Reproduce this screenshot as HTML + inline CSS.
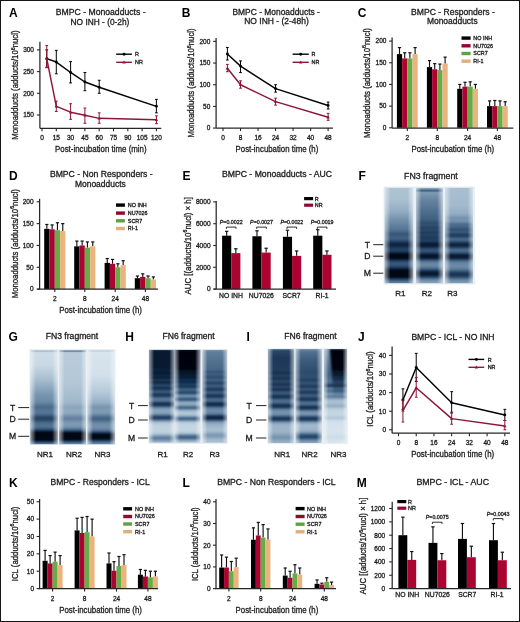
<!DOCTYPE html>
<html><head><meta charset="utf-8"><style>
html,body{margin:0;padding:0;background:#fff;}
svg{display:block;font-family:"Liberation Sans", sans-serif;will-change:transform;}
</style></head><body>
<svg width="520" height="622" viewBox="0 0 520 622">
<defs>
<filter id="b1" x="-50%" y="-50%" width="200%" height="200%"><feGaussianBlur stdDeviation="1.2"/></filter>
<filter id="b2" x="-50%" y="-50%" width="200%" height="200%"><feGaussianBlur stdDeviation="2"/></filter>
<filter id="b05" x="-50%" y="-50%" width="200%" height="200%"><feGaussianBlur stdDeviation="0.6"/></filter>
</defs>
<rect width="520" height="622" fill="#fff"/>
<rect x="0.5" y="0.5" width="519" height="621" fill="none" stroke="#151515" stroke-width="1"/>
<text x="13.25" y="17.00" font-size="12" text-anchor="middle" font-weight="bold" fill="#000">A</text>
<text x="100.70" y="14.90" font-size="8.6" text-anchor="middle" font-weight="normal" fill="#1c1c1c" stroke="#1c1c1c" stroke-width="0.3" textLength="89.80" lengthAdjust="spacingAndGlyphs">BMPC - Monoadducts -</text>
<text x="100.00" y="24.50" font-size="8.6" text-anchor="middle" font-weight="normal" fill="#1c1c1c" stroke="#1c1c1c" stroke-width="0.3" textLength="58.80" lengthAdjust="spacingAndGlyphs">NO INH - (0-2h)</text>
<line x1="39.90" y1="41.80" x2="39.90" y2="128.30" stroke="#262626" stroke-width="1.25"/>
<line x1="36.90" y1="115.00" x2="39.90" y2="115.00" stroke="#262626" stroke-width="1.1"/>
<text x="34.00" y="117.33" font-size="6.5" text-anchor="end" font-weight="normal" fill="#1c1c1c" stroke="#1c1c1c" stroke-width="0.3">150</text>
<line x1="36.90" y1="93.30" x2="39.90" y2="93.30" stroke="#262626" stroke-width="1.1"/>
<text x="34.00" y="95.63" font-size="6.5" text-anchor="end" font-weight="normal" fill="#1c1c1c" stroke="#1c1c1c" stroke-width="0.3">200</text>
<line x1="36.90" y1="71.60" x2="39.90" y2="71.60" stroke="#262626" stroke-width="1.1"/>
<text x="34.00" y="73.93" font-size="6.5" text-anchor="end" font-weight="normal" fill="#1c1c1c" stroke="#1c1c1c" stroke-width="0.3">250</text>
<line x1="36.90" y1="49.90" x2="39.90" y2="49.90" stroke="#262626" stroke-width="1.1"/>
<text x="34.00" y="52.23" font-size="6.5" text-anchor="end" font-weight="normal" fill="#1c1c1c" stroke="#1c1c1c" stroke-width="0.3">300</text>
<line x1="39.90" y1="128.30" x2="161.20" y2="128.30" stroke="#262626" stroke-width="1.25"/>
<line x1="42.00" y1="128.30" x2="42.00" y2="131.30" stroke="#262626" stroke-width="1.1"/>
<text x="42.00" y="140.00" font-size="6.5" text-anchor="middle" font-weight="normal" fill="#1c1c1c" stroke="#1c1c1c" stroke-width="0.3">0</text>
<line x1="56.30" y1="128.30" x2="56.30" y2="131.30" stroke="#262626" stroke-width="1.1"/>
<text x="56.30" y="140.00" font-size="6.5" text-anchor="middle" font-weight="normal" fill="#1c1c1c" stroke="#1c1c1c" stroke-width="0.3">15</text>
<line x1="70.60" y1="128.30" x2="70.60" y2="131.30" stroke="#262626" stroke-width="1.1"/>
<text x="70.60" y="140.00" font-size="6.5" text-anchor="middle" font-weight="normal" fill="#1c1c1c" stroke="#1c1c1c" stroke-width="0.3">30</text>
<line x1="84.90" y1="128.30" x2="84.90" y2="131.30" stroke="#262626" stroke-width="1.1"/>
<text x="84.90" y="140.00" font-size="6.5" text-anchor="middle" font-weight="normal" fill="#1c1c1c" stroke="#1c1c1c" stroke-width="0.3">45</text>
<line x1="99.20" y1="128.30" x2="99.20" y2="131.30" stroke="#262626" stroke-width="1.1"/>
<text x="99.20" y="140.00" font-size="6.5" text-anchor="middle" font-weight="normal" fill="#1c1c1c" stroke="#1c1c1c" stroke-width="0.3">60</text>
<line x1="113.50" y1="128.30" x2="113.50" y2="131.30" stroke="#262626" stroke-width="1.1"/>
<text x="113.50" y="140.00" font-size="6.5" text-anchor="middle" font-weight="normal" fill="#1c1c1c" stroke="#1c1c1c" stroke-width="0.3">75</text>
<line x1="127.80" y1="128.30" x2="127.80" y2="131.30" stroke="#262626" stroke-width="1.1"/>
<text x="127.80" y="140.00" font-size="6.5" text-anchor="middle" font-weight="normal" fill="#1c1c1c" stroke="#1c1c1c" stroke-width="0.3">90</text>
<line x1="142.10" y1="128.30" x2="142.10" y2="131.30" stroke="#262626" stroke-width="1.1"/>
<text x="142.10" y="140.00" font-size="6.5" text-anchor="middle" font-weight="normal" fill="#1c1c1c" stroke="#1c1c1c" stroke-width="0.3">105</text>
<line x1="156.40" y1="128.30" x2="156.40" y2="131.30" stroke="#262626" stroke-width="1.1"/>
<text x="156.40" y="140.00" font-size="6.5" text-anchor="middle" font-weight="normal" fill="#1c1c1c" stroke="#1c1c1c" stroke-width="0.3">120</text>
<text x="55.00" y="151.90" font-size="8.9" text-anchor="start" font-weight="normal" fill="#1c1c1c" stroke="#1c1c1c" stroke-width="0.3" textLength="91.60" lengthAdjust="spacingAndGlyphs">Post-incubation time (min)</text>
<text transform="translate(18.20,85.10) rotate(-90)" x="0" y="0" font-size="9.0" text-anchor="middle" fill="#1c1c1c" stroke="#1c1c1c" stroke-width="0.3" textLength="109.40" lengthAdjust="spacingAndGlyphs">Monoadducts (adducts/10<tspan font-size="6.12" dy="-3.60">6</tspan><tspan dy="3.60">nucl)</tspan></text>
<path d="M46.77,58.58 L56.30,62.05 L70.60,72.47 L84.90,82.02 L99.20,87.22 L156.40,106.32" fill="none" stroke="#020202" stroke-width="1.45" stroke-linejoin="round"/>
<line x1="46.77" y1="49.90" x2="46.77" y2="67.26" stroke="#020202" stroke-width="1.0"/>
<line x1="45.37" y1="49.90" x2="48.17" y2="49.90" stroke="#020202" stroke-width="1.0"/>
<line x1="45.37" y1="67.26" x2="48.17" y2="67.26" stroke="#020202" stroke-width="1.0"/>
<circle cx="46.77" cy="58.58" r="1.45" fill="#020202"/>
<line x1="56.30" y1="50.33" x2="56.30" y2="73.77" stroke="#020202" stroke-width="1.0"/>
<line x1="54.90" y1="50.33" x2="57.70" y2="50.33" stroke="#020202" stroke-width="1.0"/>
<line x1="54.90" y1="73.77" x2="57.70" y2="73.77" stroke="#020202" stroke-width="1.0"/>
<circle cx="56.30" cy="62.05" r="1.45" fill="#020202"/>
<line x1="70.60" y1="61.62" x2="70.60" y2="82.88" stroke="#020202" stroke-width="1.0"/>
<line x1="69.20" y1="61.62" x2="72.00" y2="61.62" stroke="#020202" stroke-width="1.0"/>
<line x1="69.20" y1="82.88" x2="72.00" y2="82.88" stroke="#020202" stroke-width="1.0"/>
<circle cx="70.60" cy="72.47" r="1.45" fill="#020202"/>
<line x1="84.90" y1="72.47" x2="84.90" y2="90.70" stroke="#020202" stroke-width="1.0"/>
<line x1="83.50" y1="72.47" x2="86.30" y2="72.47" stroke="#020202" stroke-width="1.0"/>
<line x1="83.50" y1="90.70" x2="86.30" y2="90.70" stroke="#020202" stroke-width="1.0"/>
<circle cx="84.90" cy="82.02" r="1.45" fill="#020202"/>
<line x1="99.20" y1="80.28" x2="99.20" y2="93.30" stroke="#020202" stroke-width="1.0"/>
<line x1="97.80" y1="80.28" x2="100.60" y2="80.28" stroke="#020202" stroke-width="1.0"/>
<line x1="97.80" y1="93.30" x2="100.60" y2="93.30" stroke="#020202" stroke-width="1.0"/>
<circle cx="99.20" cy="87.22" r="1.45" fill="#020202"/>
<line x1="156.40" y1="99.38" x2="156.40" y2="112.83" stroke="#020202" stroke-width="1.0"/>
<line x1="155.00" y1="99.38" x2="157.80" y2="99.38" stroke="#020202" stroke-width="1.0"/>
<line x1="155.00" y1="112.83" x2="157.80" y2="112.83" stroke="#020202" stroke-width="1.0"/>
<circle cx="156.40" cy="106.32" r="1.45" fill="#020202"/>
<path d="M46.77,58.58 L56.30,106.32 L70.60,112.18 L84.90,115.30 L99.20,118.34 L156.40,119.77" fill="none" stroke="#8e1535" stroke-width="1.45" stroke-linejoin="round"/>
<line x1="46.77" y1="45.56" x2="46.77" y2="67.69" stroke="#8e1535" stroke-width="1.0"/>
<line x1="45.37" y1="45.56" x2="48.17" y2="45.56" stroke="#8e1535" stroke-width="1.0"/>
<line x1="45.37" y1="67.69" x2="48.17" y2="67.69" stroke="#8e1535" stroke-width="1.0"/>
<path d="M45.07,59.78 L48.47,59.78 L46.77,56.88 Z" fill="#8e1535"/>
<line x1="56.30" y1="101.11" x2="56.30" y2="111.53" stroke="#8e1535" stroke-width="1.0"/>
<line x1="54.90" y1="101.11" x2="57.70" y2="101.11" stroke="#8e1535" stroke-width="1.0"/>
<line x1="54.90" y1="111.53" x2="57.70" y2="111.53" stroke="#8e1535" stroke-width="1.0"/>
<path d="M54.60,107.52 L58.00,107.52 L56.30,104.62 Z" fill="#8e1535"/>
<line x1="70.60" y1="103.72" x2="70.60" y2="119.34" stroke="#8e1535" stroke-width="1.0"/>
<line x1="69.20" y1="103.72" x2="72.00" y2="103.72" stroke="#8e1535" stroke-width="1.0"/>
<line x1="69.20" y1="119.34" x2="72.00" y2="119.34" stroke="#8e1535" stroke-width="1.0"/>
<path d="M68.90,113.38 L72.30,113.38 L70.60,110.48 Z" fill="#8e1535"/>
<line x1="84.90" y1="108.06" x2="84.90" y2="123.25" stroke="#8e1535" stroke-width="1.0"/>
<line x1="83.50" y1="108.06" x2="86.30" y2="108.06" stroke="#8e1535" stroke-width="1.0"/>
<line x1="83.50" y1="123.25" x2="86.30" y2="123.25" stroke="#8e1535" stroke-width="1.0"/>
<path d="M83.20,116.50 L86.60,116.50 L84.90,113.60 Z" fill="#8e1535"/>
<line x1="99.20" y1="112.83" x2="99.20" y2="123.25" stroke="#8e1535" stroke-width="1.0"/>
<line x1="97.80" y1="112.83" x2="100.60" y2="112.83" stroke="#8e1535" stroke-width="1.0"/>
<line x1="97.80" y1="123.25" x2="100.60" y2="123.25" stroke="#8e1535" stroke-width="1.0"/>
<path d="M97.50,119.54 L100.90,119.54 L99.20,116.64 Z" fill="#8e1535"/>
<line x1="156.40" y1="115.87" x2="156.40" y2="123.68" stroke="#8e1535" stroke-width="1.0"/>
<line x1="155.00" y1="115.87" x2="157.80" y2="115.87" stroke="#8e1535" stroke-width="1.0"/>
<line x1="155.00" y1="123.68" x2="157.80" y2="123.68" stroke="#8e1535" stroke-width="1.0"/>
<path d="M154.70,120.97 L158.10,120.97 L156.40,118.07 Z" fill="#8e1535"/>
<line x1="116.20" y1="54.20" x2="131.90" y2="54.20" stroke="#020202" stroke-width="1.4"/>
<circle cx="124.05" cy="54.20" r="1.45" fill="#020202"/>
<text x="135.00" y="56.33" font-size="5.4" text-anchor="start" font-weight="normal" fill="#1c1c1c" stroke="#1c1c1c" stroke-width="0.3">R</text>
<line x1="116.20" y1="62.30" x2="131.90" y2="62.30" stroke="#8e1535" stroke-width="1.4"/>
<path d="M122.35,63.50 L125.75,63.50 L124.05,60.60 Z" fill="#8e1535"/>
<text x="135.00" y="64.43" font-size="5.4" text-anchor="start" font-weight="normal" fill="#1c1c1c" stroke="#1c1c1c" stroke-width="0.3">NR</text>
<text x="186.10" y="16.80" font-size="12" text-anchor="middle" font-weight="bold" fill="#000">B</text>
<text x="276.20" y="14.60" font-size="8.6" text-anchor="middle" font-weight="normal" fill="#1c1c1c" stroke="#1c1c1c" stroke-width="0.3" textLength="87.40" lengthAdjust="spacingAndGlyphs">BMPC - Monoadducts -</text>
<text x="276.50" y="24.20" font-size="8.6" text-anchor="middle" font-weight="normal" fill="#1c1c1c" stroke="#1c1c1c" stroke-width="0.3" textLength="64.60" lengthAdjust="spacingAndGlyphs">NO INH - (2-48h)</text>
<line x1="216.10" y1="38.00" x2="216.10" y2="128.10" stroke="#262626" stroke-width="1.25"/>
<line x1="213.10" y1="128.10" x2="216.10" y2="128.10" stroke="#262626" stroke-width="1.1"/>
<text x="210.30" y="130.43" font-size="6.5" text-anchor="end" font-weight="normal" fill="#1c1c1c" stroke="#1c1c1c" stroke-width="0.3">0</text>
<line x1="213.10" y1="106.42" x2="216.10" y2="106.42" stroke="#262626" stroke-width="1.1"/>
<text x="210.30" y="108.75" font-size="6.5" text-anchor="end" font-weight="normal" fill="#1c1c1c" stroke="#1c1c1c" stroke-width="0.3">50</text>
<line x1="213.10" y1="84.74" x2="216.10" y2="84.74" stroke="#262626" stroke-width="1.1"/>
<text x="210.30" y="87.07" font-size="6.5" text-anchor="end" font-weight="normal" fill="#1c1c1c" stroke="#1c1c1c" stroke-width="0.3">100</text>
<line x1="213.10" y1="63.06" x2="216.10" y2="63.06" stroke="#262626" stroke-width="1.1"/>
<text x="210.30" y="65.39" font-size="6.5" text-anchor="end" font-weight="normal" fill="#1c1c1c" stroke="#1c1c1c" stroke-width="0.3">150</text>
<line x1="213.10" y1="41.38" x2="216.10" y2="41.38" stroke="#262626" stroke-width="1.1"/>
<text x="210.30" y="43.71" font-size="6.5" text-anchor="end" font-weight="normal" fill="#1c1c1c" stroke="#1c1c1c" stroke-width="0.3">200</text>
<line x1="216.10" y1="128.10" x2="333.00" y2="128.10" stroke="#262626" stroke-width="1.25"/>
<line x1="223.00" y1="128.10" x2="223.00" y2="131.10" stroke="#262626" stroke-width="1.1"/>
<text x="223.00" y="140.00" font-size="6.5" text-anchor="middle" font-weight="normal" fill="#1c1c1c" stroke="#1c1c1c" stroke-width="0.3">0</text>
<line x1="240.52" y1="128.10" x2="240.52" y2="131.10" stroke="#262626" stroke-width="1.1"/>
<text x="240.52" y="140.00" font-size="6.5" text-anchor="middle" font-weight="normal" fill="#1c1c1c" stroke="#1c1c1c" stroke-width="0.3">8</text>
<line x1="258.04" y1="128.10" x2="258.04" y2="131.10" stroke="#262626" stroke-width="1.1"/>
<text x="258.04" y="140.00" font-size="6.5" text-anchor="middle" font-weight="normal" fill="#1c1c1c" stroke="#1c1c1c" stroke-width="0.3">16</text>
<line x1="275.56" y1="128.10" x2="275.56" y2="131.10" stroke="#262626" stroke-width="1.1"/>
<text x="275.56" y="140.00" font-size="6.5" text-anchor="middle" font-weight="normal" fill="#1c1c1c" stroke="#1c1c1c" stroke-width="0.3">24</text>
<line x1="293.08" y1="128.10" x2="293.08" y2="131.10" stroke="#262626" stroke-width="1.1"/>
<text x="293.08" y="140.00" font-size="6.5" text-anchor="middle" font-weight="normal" fill="#1c1c1c" stroke="#1c1c1c" stroke-width="0.3">32</text>
<line x1="310.60" y1="128.10" x2="310.60" y2="131.10" stroke="#262626" stroke-width="1.1"/>
<text x="310.60" y="140.00" font-size="6.5" text-anchor="middle" font-weight="normal" fill="#1c1c1c" stroke="#1c1c1c" stroke-width="0.3">40</text>
<line x1="328.12" y1="128.10" x2="328.12" y2="131.10" stroke="#262626" stroke-width="1.1"/>
<text x="328.12" y="140.00" font-size="6.5" text-anchor="middle" font-weight="normal" fill="#1c1c1c" stroke="#1c1c1c" stroke-width="0.3">48</text>
<text x="235.60" y="151.90" font-size="8.9" text-anchor="start" font-weight="normal" fill="#1c1c1c" stroke="#1c1c1c" stroke-width="0.3" textLength="82.70" lengthAdjust="spacingAndGlyphs">Post-incubation time (h)</text>
<text transform="translate(194.20,82.90) rotate(-90)" x="0" y="0" font-size="9.0" text-anchor="middle" fill="#1c1c1c" stroke="#1c1c1c" stroke-width="0.3" textLength="109.00" lengthAdjust="spacingAndGlyphs">Monoadducts (adducts/10<tspan font-size="6.12" dy="-3.60">6</tspan><tspan dy="3.60">nucl)</tspan></text>
<path d="M227.38,53.95 L240.52,66.10 L275.56,88.64 L328.12,105.55" fill="none" stroke="#020202" stroke-width="1.45" stroke-linejoin="round"/>
<line x1="227.38" y1="47.45" x2="227.38" y2="60.02" stroke="#020202" stroke-width="1.0"/>
<line x1="225.98" y1="47.45" x2="228.78" y2="47.45" stroke="#020202" stroke-width="1.0"/>
<line x1="225.98" y1="60.02" x2="228.78" y2="60.02" stroke="#020202" stroke-width="1.0"/>
<circle cx="227.38" cy="53.95" r="1.45" fill="#020202"/>
<line x1="240.52" y1="60.89" x2="240.52" y2="72.60" stroke="#020202" stroke-width="1.0"/>
<line x1="239.12" y1="60.89" x2="241.92" y2="60.89" stroke="#020202" stroke-width="1.0"/>
<line x1="239.12" y1="72.60" x2="241.92" y2="72.60" stroke="#020202" stroke-width="1.0"/>
<circle cx="240.52" cy="66.10" r="1.45" fill="#020202"/>
<line x1="275.56" y1="84.74" x2="275.56" y2="92.11" stroke="#020202" stroke-width="1.0"/>
<line x1="274.16" y1="84.74" x2="276.96" y2="84.74" stroke="#020202" stroke-width="1.0"/>
<line x1="274.16" y1="92.11" x2="276.96" y2="92.11" stroke="#020202" stroke-width="1.0"/>
<circle cx="275.56" cy="88.64" r="1.45" fill="#020202"/>
<line x1="328.12" y1="102.08" x2="328.12" y2="109.02" stroke="#020202" stroke-width="1.0"/>
<line x1="326.72" y1="102.08" x2="329.52" y2="102.08" stroke="#020202" stroke-width="1.0"/>
<line x1="326.72" y1="109.02" x2="329.52" y2="109.02" stroke="#020202" stroke-width="1.0"/>
<circle cx="328.12" cy="105.55" r="1.45" fill="#020202"/>
<path d="M227.38,68.26 L240.52,84.74 L275.56,101.65 L328.12,117.26" fill="none" stroke="#8e1535" stroke-width="1.45" stroke-linejoin="round"/>
<line x1="227.38" y1="64.36" x2="227.38" y2="71.73" stroke="#8e1535" stroke-width="1.0"/>
<line x1="225.98" y1="64.36" x2="228.78" y2="64.36" stroke="#8e1535" stroke-width="1.0"/>
<line x1="225.98" y1="71.73" x2="228.78" y2="71.73" stroke="#8e1535" stroke-width="1.0"/>
<path d="M225.68,69.46 L229.08,69.46 L227.38,66.56 Z" fill="#8e1535"/>
<line x1="240.52" y1="80.84" x2="240.52" y2="88.21" stroke="#8e1535" stroke-width="1.0"/>
<line x1="239.12" y1="80.84" x2="241.92" y2="80.84" stroke="#8e1535" stroke-width="1.0"/>
<line x1="239.12" y1="88.21" x2="241.92" y2="88.21" stroke="#8e1535" stroke-width="1.0"/>
<path d="M238.82,85.94 L242.22,85.94 L240.52,83.04 Z" fill="#8e1535"/>
<line x1="275.56" y1="98.18" x2="275.56" y2="105.12" stroke="#8e1535" stroke-width="1.0"/>
<line x1="274.16" y1="98.18" x2="276.96" y2="98.18" stroke="#8e1535" stroke-width="1.0"/>
<line x1="274.16" y1="105.12" x2="276.96" y2="105.12" stroke="#8e1535" stroke-width="1.0"/>
<path d="M273.86,102.85 L277.26,102.85 L275.56,99.95 Z" fill="#8e1535"/>
<line x1="328.12" y1="113.36" x2="328.12" y2="120.30" stroke="#8e1535" stroke-width="1.0"/>
<line x1="326.72" y1="113.36" x2="329.52" y2="113.36" stroke="#8e1535" stroke-width="1.0"/>
<line x1="326.72" y1="120.30" x2="329.52" y2="120.30" stroke="#8e1535" stroke-width="1.0"/>
<path d="M326.42,118.46 L329.82,118.46 L328.12,115.56 Z" fill="#8e1535"/>
<line x1="292.60" y1="54.20" x2="308.80" y2="54.20" stroke="#020202" stroke-width="1.4"/>
<circle cx="300.70" cy="54.20" r="1.45" fill="#020202"/>
<text x="311.50" y="56.33" font-size="5.4" text-anchor="start" font-weight="normal" fill="#1c1c1c" stroke="#1c1c1c" stroke-width="0.3">R</text>
<line x1="292.60" y1="62.30" x2="308.80" y2="62.30" stroke="#8e1535" stroke-width="1.4"/>
<path d="M299.00,63.50 L302.40,63.50 L300.70,60.60 Z" fill="#8e1535"/>
<text x="311.50" y="64.43" font-size="5.4" text-anchor="start" font-weight="normal" fill="#1c1c1c" stroke="#1c1c1c" stroke-width="0.3">NR</text>
<text x="362.00" y="17.00" font-size="12" text-anchor="middle" font-weight="bold" fill="#000">C</text>
<text x="453.00" y="14.60" font-size="8.6" text-anchor="middle" font-weight="normal" fill="#1c1c1c" stroke="#1c1c1c" stroke-width="0.3" textLength="83.80" lengthAdjust="spacingAndGlyphs">BMPC - Responders -</text>
<text x="452.30" y="24.20" font-size="8.6" text-anchor="middle" font-weight="normal" fill="#1c1c1c" stroke="#1c1c1c" stroke-width="0.3" textLength="50.80" lengthAdjust="spacingAndGlyphs">Monoadducts</text>
<line x1="399.50" y1="47.58" x2="399.50" y2="54.09" stroke="#111" stroke-width="1.15"/>
<line x1="397.90" y1="47.58" x2="401.10" y2="47.58" stroke="#111" stroke-width="1.2"/>
<rect x="396.90" y="54.09" width="5.20" height="73.71" fill="#020202"/>
<line x1="404.70" y1="52.79" x2="404.70" y2="58.42" stroke="#111" stroke-width="1.15"/>
<line x1="403.10" y1="52.79" x2="406.30" y2="52.79" stroke="#111" stroke-width="1.2"/>
<rect x="402.10" y="58.42" width="5.20" height="69.38" fill="#ab0430"/>
<line x1="409.90" y1="52.79" x2="409.90" y2="58.42" stroke="#111" stroke-width="1.15"/>
<line x1="408.30" y1="52.79" x2="411.50" y2="52.79" stroke="#111" stroke-width="1.2"/>
<rect x="407.30" y="58.42" width="5.20" height="69.38" fill="#66ad48"/>
<line x1="415.10" y1="47.58" x2="415.10" y2="54.09" stroke="#111" stroke-width="1.15"/>
<line x1="413.50" y1="47.58" x2="416.70" y2="47.58" stroke="#111" stroke-width="1.2"/>
<rect x="412.50" y="54.09" width="5.20" height="73.71" fill="#eab47e"/>
<line x1="429.50" y1="60.59" x2="429.50" y2="67.10" stroke="#111" stroke-width="1.15"/>
<line x1="427.90" y1="60.59" x2="431.10" y2="60.59" stroke="#111" stroke-width="1.2"/>
<rect x="426.90" y="67.10" width="5.20" height="60.70" fill="#020202"/>
<line x1="434.70" y1="63.63" x2="434.70" y2="69.26" stroke="#111" stroke-width="1.15"/>
<line x1="433.10" y1="63.63" x2="436.30" y2="63.63" stroke="#111" stroke-width="1.2"/>
<rect x="432.10" y="69.26" width="5.20" height="58.54" fill="#ab0430"/>
<line x1="439.90" y1="64.06" x2="439.90" y2="70.13" stroke="#111" stroke-width="1.15"/>
<line x1="438.30" y1="64.06" x2="441.50" y2="64.06" stroke="#111" stroke-width="1.2"/>
<rect x="437.30" y="70.13" width="5.20" height="57.67" fill="#66ad48"/>
<line x1="445.10" y1="57.12" x2="445.10" y2="63.63" stroke="#111" stroke-width="1.15"/>
<line x1="443.50" y1="57.12" x2="446.70" y2="57.12" stroke="#111" stroke-width="1.2"/>
<rect x="442.50" y="63.63" width="5.20" height="64.17" fill="#eab47e"/>
<line x1="459.80" y1="84.44" x2="459.80" y2="88.78" stroke="#111" stroke-width="1.15"/>
<line x1="458.20" y1="84.44" x2="461.40" y2="84.44" stroke="#111" stroke-width="1.2"/>
<rect x="457.20" y="88.78" width="5.20" height="39.02" fill="#020202"/>
<line x1="465.00" y1="82.27" x2="465.00" y2="86.61" stroke="#111" stroke-width="1.15"/>
<line x1="463.40" y1="82.27" x2="466.60" y2="82.27" stroke="#111" stroke-width="1.2"/>
<rect x="462.40" y="86.61" width="5.20" height="41.19" fill="#ab0430"/>
<line x1="470.20" y1="81.84" x2="470.20" y2="86.61" stroke="#111" stroke-width="1.15"/>
<line x1="468.60" y1="81.84" x2="471.80" y2="81.84" stroke="#111" stroke-width="1.2"/>
<rect x="467.60" y="86.61" width="5.20" height="41.19" fill="#66ad48"/>
<line x1="475.40" y1="84.44" x2="475.40" y2="88.78" stroke="#111" stroke-width="1.15"/>
<line x1="473.80" y1="84.44" x2="477.00" y2="84.44" stroke="#111" stroke-width="1.2"/>
<rect x="472.80" y="88.78" width="5.20" height="39.02" fill="#eab47e"/>
<line x1="489.60" y1="100.92" x2="489.60" y2="106.12" stroke="#111" stroke-width="1.15"/>
<line x1="488.00" y1="100.92" x2="491.20" y2="100.92" stroke="#111" stroke-width="1.2"/>
<rect x="487.00" y="106.12" width="5.20" height="21.68" fill="#020202"/>
<line x1="494.80" y1="100.48" x2="494.80" y2="106.12" stroke="#111" stroke-width="1.15"/>
<line x1="493.20" y1="100.48" x2="496.40" y2="100.48" stroke="#111" stroke-width="1.2"/>
<rect x="492.20" y="106.12" width="5.20" height="21.68" fill="#ab0430"/>
<line x1="500.00" y1="100.92" x2="500.00" y2="106.12" stroke="#111" stroke-width="1.15"/>
<line x1="498.40" y1="100.92" x2="501.60" y2="100.92" stroke="#111" stroke-width="1.2"/>
<rect x="497.40" y="106.12" width="5.20" height="21.68" fill="#66ad48"/>
<line x1="505.20" y1="101.78" x2="505.20" y2="106.12" stroke="#111" stroke-width="1.15"/>
<line x1="503.60" y1="101.78" x2="506.80" y2="101.78" stroke="#111" stroke-width="1.2"/>
<rect x="502.60" y="106.12" width="5.20" height="21.68" fill="#eab47e"/>
<line x1="392.10" y1="37.60" x2="392.10" y2="128.00" stroke="#262626" stroke-width="1.25"/>
<line x1="389.10" y1="127.80" x2="392.10" y2="127.80" stroke="#262626" stroke-width="1.1"/>
<text x="386.40" y="130.13" font-size="6.5" text-anchor="end" font-weight="normal" fill="#1c1c1c" stroke="#1c1c1c" stroke-width="0.3">0</text>
<line x1="389.10" y1="106.12" x2="392.10" y2="106.12" stroke="#262626" stroke-width="1.1"/>
<text x="386.40" y="108.45" font-size="6.5" text-anchor="end" font-weight="normal" fill="#1c1c1c" stroke="#1c1c1c" stroke-width="0.3">50</text>
<line x1="389.10" y1="84.44" x2="392.10" y2="84.44" stroke="#262626" stroke-width="1.1"/>
<text x="386.40" y="86.77" font-size="6.5" text-anchor="end" font-weight="normal" fill="#1c1c1c" stroke="#1c1c1c" stroke-width="0.3">100</text>
<line x1="389.10" y1="62.76" x2="392.10" y2="62.76" stroke="#262626" stroke-width="1.1"/>
<text x="386.40" y="65.09" font-size="6.5" text-anchor="end" font-weight="normal" fill="#1c1c1c" stroke="#1c1c1c" stroke-width="0.3">150</text>
<line x1="389.10" y1="41.08" x2="392.10" y2="41.08" stroke="#262626" stroke-width="1.1"/>
<text x="386.40" y="43.41" font-size="6.5" text-anchor="end" font-weight="normal" fill="#1c1c1c" stroke="#1c1c1c" stroke-width="0.3">200</text>
<line x1="392.10" y1="128.00" x2="513.30" y2="128.00" stroke="#262626" stroke-width="1.25"/>
<line x1="407.30" y1="128.00" x2="407.30" y2="131.00" stroke="#262626" stroke-width="1.1"/>
<text x="407.30" y="140.10" font-size="6.5" text-anchor="middle" font-weight="normal" fill="#1c1c1c" stroke="#1c1c1c" stroke-width="0.3">2</text>
<line x1="437.30" y1="128.00" x2="437.30" y2="131.00" stroke="#262626" stroke-width="1.1"/>
<text x="437.30" y="140.10" font-size="6.5" text-anchor="middle" font-weight="normal" fill="#1c1c1c" stroke="#1c1c1c" stroke-width="0.3">8</text>
<line x1="467.60" y1="128.00" x2="467.60" y2="131.00" stroke="#262626" stroke-width="1.1"/>
<text x="467.60" y="140.10" font-size="6.5" text-anchor="middle" font-weight="normal" fill="#1c1c1c" stroke="#1c1c1c" stroke-width="0.3">24</text>
<line x1="497.40" y1="128.00" x2="497.40" y2="131.00" stroke="#262626" stroke-width="1.1"/>
<text x="497.40" y="140.10" font-size="6.5" text-anchor="middle" font-weight="normal" fill="#1c1c1c" stroke="#1c1c1c" stroke-width="0.3">48</text>
<text x="411.50" y="151.90" font-size="8.9" text-anchor="start" font-weight="normal" fill="#1c1c1c" stroke="#1c1c1c" stroke-width="0.3" textLength="82.70" lengthAdjust="spacingAndGlyphs">Post-incubation time (h)</text>
<text transform="translate(369.60,83.00) rotate(-90)" x="0" y="0" font-size="9.0" text-anchor="middle" fill="#1c1c1c" stroke="#1c1c1c" stroke-width="0.3" textLength="110.00" lengthAdjust="spacingAndGlyphs">Monoadducts (adducts/10<tspan font-size="6.12" dy="-3.60">6</tspan><tspan dy="3.60">nucl)</tspan></text>
<rect x="461.50" y="36.40" width="9.10" height="3.40" fill="#020202"/>
<text x="473.30" y="40.03" font-size="5.4" text-anchor="start" font-weight="normal" fill="#1c1c1c" stroke="#1c1c1c" stroke-width="0.3">NO INH</text>
<rect x="461.50" y="44.10" width="9.10" height="3.40" fill="#900a2e"/>
<text x="473.30" y="47.73" font-size="5.4" text-anchor="start" font-weight="normal" fill="#1c1c1c" stroke="#1c1c1c" stroke-width="0.3">NU7026</text>
<rect x="461.50" y="51.80" width="9.10" height="3.40" fill="#5fa244"/>
<text x="473.30" y="55.43" font-size="5.4" text-anchor="start" font-weight="normal" fill="#1c1c1c" stroke="#1c1c1c" stroke-width="0.3">SCR7</text>
<rect x="461.50" y="59.50" width="9.10" height="3.40" fill="#dfb07e"/>
<text x="473.30" y="63.13" font-size="5.4" text-anchor="start" font-weight="normal" fill="#1c1c1c" stroke="#1c1c1c" stroke-width="0.3">RI-1</text>
<text x="13.25" y="179.70" font-size="12" text-anchor="middle" font-weight="bold" fill="#000">D</text>
<text x="101.30" y="177.10" font-size="8.6" text-anchor="middle" font-weight="normal" fill="#1c1c1c" stroke="#1c1c1c" stroke-width="0.3" textLength="102.80" lengthAdjust="spacingAndGlyphs">BMPC - Non Responders -</text>
<text x="100.35" y="187.10" font-size="8.6" text-anchor="middle" font-weight="normal" fill="#1c1c1c" stroke="#1c1c1c" stroke-width="0.3" textLength="50.90" lengthAdjust="spacingAndGlyphs">Monoadducts</text>
<line x1="46.85" y1="224.48" x2="46.85" y2="228.85" stroke="#111" stroke-width="1.15"/>
<line x1="45.25" y1="224.48" x2="48.45" y2="224.48" stroke="#111" stroke-width="1.2"/>
<rect x="44.20" y="228.85" width="5.30" height="60.25" fill="#020202"/>
<line x1="52.15" y1="224.92" x2="52.15" y2="229.29" stroke="#111" stroke-width="1.15"/>
<line x1="50.55" y1="224.92" x2="53.75" y2="224.92" stroke="#111" stroke-width="1.2"/>
<rect x="49.50" y="229.29" width="5.30" height="59.81" fill="#ab0430"/>
<line x1="57.45" y1="222.74" x2="57.45" y2="230.16" stroke="#111" stroke-width="1.15"/>
<line x1="55.85" y1="222.74" x2="59.05" y2="222.74" stroke="#111" stroke-width="1.2"/>
<rect x="54.80" y="230.16" width="5.30" height="58.94" fill="#66ad48"/>
<line x1="62.75" y1="223.61" x2="62.75" y2="231.03" stroke="#111" stroke-width="1.15"/>
<line x1="61.15" y1="223.61" x2="64.35" y2="223.61" stroke="#111" stroke-width="1.2"/>
<rect x="60.10" y="231.03" width="5.30" height="58.07" fill="#eab47e"/>
<line x1="76.85" y1="241.07" x2="76.85" y2="246.31" stroke="#111" stroke-width="1.15"/>
<line x1="75.25" y1="241.07" x2="78.45" y2="241.07" stroke="#111" stroke-width="1.2"/>
<rect x="74.20" y="246.31" width="5.30" height="42.79" fill="#020202"/>
<line x1="82.15" y1="241.07" x2="82.15" y2="245.44" stroke="#111" stroke-width="1.15"/>
<line x1="80.55" y1="241.07" x2="83.75" y2="241.07" stroke="#111" stroke-width="1.2"/>
<rect x="79.50" y="245.44" width="5.30" height="43.66" fill="#ab0430"/>
<line x1="87.45" y1="241.95" x2="87.45" y2="247.62" stroke="#111" stroke-width="1.15"/>
<line x1="85.85" y1="241.95" x2="89.05" y2="241.95" stroke="#111" stroke-width="1.2"/>
<rect x="84.80" y="247.62" width="5.30" height="41.48" fill="#66ad48"/>
<line x1="92.75" y1="241.95" x2="92.75" y2="246.31" stroke="#111" stroke-width="1.15"/>
<line x1="91.15" y1="241.95" x2="94.35" y2="241.95" stroke="#111" stroke-width="1.2"/>
<rect x="90.10" y="246.31" width="5.30" height="42.79" fill="#eab47e"/>
<line x1="107.25" y1="258.54" x2="107.25" y2="262.90" stroke="#111" stroke-width="1.15"/>
<line x1="105.65" y1="258.54" x2="108.85" y2="258.54" stroke="#111" stroke-width="1.2"/>
<rect x="104.60" y="262.90" width="5.30" height="26.20" fill="#020202"/>
<line x1="112.55" y1="259.41" x2="112.55" y2="263.78" stroke="#111" stroke-width="1.15"/>
<line x1="110.95" y1="259.41" x2="114.15" y2="259.41" stroke="#111" stroke-width="1.2"/>
<rect x="109.90" y="263.78" width="5.30" height="25.32" fill="#ab0430"/>
<line x1="117.85" y1="263.78" x2="117.85" y2="267.27" stroke="#111" stroke-width="1.15"/>
<line x1="116.25" y1="263.78" x2="119.45" y2="263.78" stroke="#111" stroke-width="1.2"/>
<rect x="115.20" y="267.27" width="5.30" height="21.83" fill="#66ad48"/>
<line x1="123.15" y1="260.72" x2="123.15" y2="265.09" stroke="#111" stroke-width="1.15"/>
<line x1="121.55" y1="260.72" x2="124.75" y2="260.72" stroke="#111" stroke-width="1.2"/>
<rect x="120.50" y="265.09" width="5.30" height="24.01" fill="#eab47e"/>
<line x1="137.45" y1="276.00" x2="137.45" y2="278.19" stroke="#111" stroke-width="1.15"/>
<line x1="135.85" y1="276.00" x2="139.05" y2="276.00" stroke="#111" stroke-width="1.2"/>
<rect x="134.80" y="278.19" width="5.30" height="10.92" fill="#020202"/>
<line x1="142.75" y1="273.82" x2="142.75" y2="276.88" stroke="#111" stroke-width="1.15"/>
<line x1="141.15" y1="273.82" x2="144.35" y2="273.82" stroke="#111" stroke-width="1.2"/>
<rect x="140.10" y="276.88" width="5.30" height="12.22" fill="#ab0430"/>
<line x1="148.05" y1="276.00" x2="148.05" y2="278.19" stroke="#111" stroke-width="1.15"/>
<line x1="146.45" y1="276.00" x2="149.65" y2="276.00" stroke="#111" stroke-width="1.2"/>
<rect x="145.40" y="278.19" width="5.30" height="10.92" fill="#66ad48"/>
<line x1="153.35" y1="276.88" x2="153.35" y2="279.49" stroke="#111" stroke-width="1.15"/>
<line x1="151.75" y1="276.88" x2="154.95" y2="276.88" stroke="#111" stroke-width="1.2"/>
<rect x="150.70" y="279.49" width="5.30" height="9.61" fill="#eab47e"/>
<line x1="39.60" y1="198.80" x2="39.60" y2="289.10" stroke="#262626" stroke-width="1.25"/>
<line x1="36.60" y1="289.10" x2="39.60" y2="289.10" stroke="#262626" stroke-width="1.1"/>
<text x="33.60" y="291.43" font-size="6.5" text-anchor="end" font-weight="normal" fill="#1c1c1c" stroke="#1c1c1c" stroke-width="0.3">0</text>
<line x1="36.60" y1="267.27" x2="39.60" y2="267.27" stroke="#262626" stroke-width="1.1"/>
<text x="33.60" y="269.60" font-size="6.5" text-anchor="end" font-weight="normal" fill="#1c1c1c" stroke="#1c1c1c" stroke-width="0.3">50</text>
<line x1="36.60" y1="245.44" x2="39.60" y2="245.44" stroke="#262626" stroke-width="1.1"/>
<text x="33.60" y="247.77" font-size="6.5" text-anchor="end" font-weight="normal" fill="#1c1c1c" stroke="#1c1c1c" stroke-width="0.3">100</text>
<line x1="36.60" y1="223.61" x2="39.60" y2="223.61" stroke="#262626" stroke-width="1.1"/>
<text x="33.60" y="225.94" font-size="6.5" text-anchor="end" font-weight="normal" fill="#1c1c1c" stroke="#1c1c1c" stroke-width="0.3">150</text>
<line x1="36.60" y1="201.78" x2="39.60" y2="201.78" stroke="#262626" stroke-width="1.1"/>
<text x="33.60" y="204.11" font-size="6.5" text-anchor="end" font-weight="normal" fill="#1c1c1c" stroke="#1c1c1c" stroke-width="0.3">200</text>
<line x1="37.40" y1="289.10" x2="158.00" y2="289.10" stroke="#262626" stroke-width="1.25"/>
<line x1="54.80" y1="289.10" x2="54.80" y2="292.10" stroke="#262626" stroke-width="1.1"/>
<text x="54.80" y="301.00" font-size="6.5" text-anchor="middle" font-weight="normal" fill="#1c1c1c" stroke="#1c1c1c" stroke-width="0.3">2</text>
<line x1="84.80" y1="289.10" x2="84.80" y2="292.10" stroke="#262626" stroke-width="1.1"/>
<text x="84.80" y="301.00" font-size="6.5" text-anchor="middle" font-weight="normal" fill="#1c1c1c" stroke="#1c1c1c" stroke-width="0.3">8</text>
<line x1="115.20" y1="289.10" x2="115.20" y2="292.10" stroke="#262626" stroke-width="1.1"/>
<text x="115.20" y="301.00" font-size="6.5" text-anchor="middle" font-weight="normal" fill="#1c1c1c" stroke="#1c1c1c" stroke-width="0.3">24</text>
<line x1="145.40" y1="289.10" x2="145.40" y2="292.10" stroke="#262626" stroke-width="1.1"/>
<text x="145.40" y="301.00" font-size="6.5" text-anchor="middle" font-weight="normal" fill="#1c1c1c" stroke="#1c1c1c" stroke-width="0.3">48</text>
<text x="59.20" y="313.00" font-size="8.9" text-anchor="start" font-weight="normal" fill="#1c1c1c" stroke="#1c1c1c" stroke-width="0.3" textLength="82.70" lengthAdjust="spacingAndGlyphs">Post-incubation time (h)</text>
<text transform="translate(18.00,243.70) rotate(-90)" x="0" y="0" font-size="9.0" text-anchor="middle" fill="#1c1c1c" stroke="#1c1c1c" stroke-width="0.3" textLength="109.30" lengthAdjust="spacingAndGlyphs">Monoadducts (adducts/10<tspan font-size="6.12" dy="-3.60">6</tspan><tspan dy="3.60">nucl)</tspan></text>
<rect x="116.00" y="203.40" width="8.90" height="3.40" fill="#020202"/>
<text x="127.80" y="207.03" font-size="5.4" text-anchor="start" font-weight="normal" fill="#1c1c1c" stroke="#1c1c1c" stroke-width="0.3">NO INH</text>
<rect x="116.00" y="211.40" width="8.90" height="3.40" fill="#900a2e"/>
<text x="127.80" y="215.03" font-size="5.4" text-anchor="start" font-weight="normal" fill="#1c1c1c" stroke="#1c1c1c" stroke-width="0.3">NU7026</text>
<rect x="116.00" y="219.10" width="8.90" height="3.40" fill="#5fa244"/>
<text x="127.80" y="222.73" font-size="5.4" text-anchor="start" font-weight="normal" fill="#1c1c1c" stroke="#1c1c1c" stroke-width="0.3">SCR7</text>
<rect x="116.00" y="226.80" width="8.90" height="3.40" fill="#dfb07e"/>
<text x="127.80" y="230.43" font-size="5.4" text-anchor="start" font-weight="normal" fill="#1c1c1c" stroke="#1c1c1c" stroke-width="0.3">RI-1</text>
<text x="186.45" y="179.70" font-size="12" text-anchor="middle" font-weight="bold" fill="#000">E</text>
<text x="277.00" y="176.80" font-size="8.6" text-anchor="middle" font-weight="normal" fill="#1c1c1c" stroke="#1c1c1c" stroke-width="0.3" textLength="110.00" lengthAdjust="spacingAndGlyphs">BMPC - Monoadducts - AUC</text>
<line x1="226.67" y1="231.33" x2="226.67" y2="235.69" stroke="#111" stroke-width="1.15"/>
<line x1="224.97" y1="231.33" x2="228.37" y2="231.33" stroke="#111" stroke-width="1.2"/>
<rect x="222.10" y="235.69" width="9.15" height="53.41" fill="#020202"/>
<line x1="235.82" y1="248.77" x2="235.82" y2="253.13" stroke="#111" stroke-width="1.15"/>
<line x1="234.12" y1="248.77" x2="237.52" y2="248.77" stroke="#111" stroke-width="1.2"/>
<rect x="231.25" y="253.13" width="9.15" height="35.97" fill="#ab0430"/>
<line x1="256.98" y1="230.79" x2="256.98" y2="236.24" stroke="#111" stroke-width="1.15"/>
<line x1="255.28" y1="230.79" x2="258.68" y2="230.79" stroke="#111" stroke-width="1.2"/>
<rect x="252.40" y="236.24" width="9.15" height="52.87" fill="#020202"/>
<line x1="266.12" y1="248.23" x2="266.12" y2="252.59" stroke="#111" stroke-width="1.15"/>
<line x1="264.43" y1="248.23" x2="267.82" y2="248.23" stroke="#111" stroke-width="1.2"/>
<rect x="261.55" y="252.59" width="9.15" height="36.51" fill="#ab0430"/>
<line x1="287.47" y1="230.24" x2="287.47" y2="236.78" stroke="#111" stroke-width="1.15"/>
<line x1="285.77" y1="230.24" x2="289.17" y2="230.24" stroke="#111" stroke-width="1.2"/>
<rect x="282.90" y="236.78" width="9.15" height="52.32" fill="#020202"/>
<line x1="296.62" y1="250.95" x2="296.62" y2="255.86" stroke="#111" stroke-width="1.15"/>
<line x1="294.92" y1="250.95" x2="298.32" y2="250.95" stroke="#111" stroke-width="1.2"/>
<rect x="292.05" y="255.86" width="9.15" height="33.25" fill="#ab0430"/>
<line x1="317.77" y1="229.70" x2="317.77" y2="235.69" stroke="#111" stroke-width="1.15"/>
<line x1="316.07" y1="229.70" x2="319.47" y2="229.70" stroke="#111" stroke-width="1.2"/>
<rect x="313.20" y="235.69" width="9.15" height="53.41" fill="#020202"/>
<line x1="326.92" y1="250.95" x2="326.92" y2="254.77" stroke="#111" stroke-width="1.15"/>
<line x1="325.22" y1="250.95" x2="328.62" y2="250.95" stroke="#111" stroke-width="1.2"/>
<rect x="322.35" y="254.77" width="9.15" height="34.34" fill="#ab0430"/>
<line x1="216.20" y1="201.00" x2="216.20" y2="289.10" stroke="#262626" stroke-width="1.25"/>
<line x1="213.20" y1="289.10" x2="216.20" y2="289.10" stroke="#262626" stroke-width="1.1"/>
<text x="210.60" y="291.46" font-size="6.6" text-anchor="end" font-weight="normal" fill="#1c1c1c" stroke="#1c1c1c" stroke-width="0.3">0</text>
<line x1="213.20" y1="267.30" x2="216.20" y2="267.30" stroke="#262626" stroke-width="1.1"/>
<text x="210.60" y="269.66" font-size="6.6" text-anchor="end" font-weight="normal" fill="#1c1c1c" stroke="#1c1c1c" stroke-width="0.3">2000</text>
<line x1="213.20" y1="245.50" x2="216.20" y2="245.50" stroke="#262626" stroke-width="1.1"/>
<text x="210.60" y="247.86" font-size="6.6" text-anchor="end" font-weight="normal" fill="#1c1c1c" stroke="#1c1c1c" stroke-width="0.3">4000</text>
<line x1="213.20" y1="223.70" x2="216.20" y2="223.70" stroke="#262626" stroke-width="1.1"/>
<text x="210.60" y="226.06" font-size="6.6" text-anchor="end" font-weight="normal" fill="#1c1c1c" stroke="#1c1c1c" stroke-width="0.3">6000</text>
<line x1="213.20" y1="201.90" x2="216.20" y2="201.90" stroke="#262626" stroke-width="1.1"/>
<text x="210.60" y="204.26" font-size="6.6" text-anchor="end" font-weight="normal" fill="#1c1c1c" stroke="#1c1c1c" stroke-width="0.3">8000</text>
<line x1="213.60" y1="289.10" x2="336.00" y2="289.10" stroke="#262626" stroke-width="1.25"/>
<text x="231.00" y="298.20" font-size="6.8" text-anchor="middle" font-weight="normal" fill="#1c1c1c" stroke="#1c1c1c" stroke-width="0.3">NO INH</text>
<text x="261.30" y="298.20" font-size="6.8" text-anchor="middle" font-weight="normal" fill="#1c1c1c" stroke="#1c1c1c" stroke-width="0.3">NU7026</text>
<text x="291.60" y="298.20" font-size="6.8" text-anchor="middle" font-weight="normal" fill="#1c1c1c" stroke="#1c1c1c" stroke-width="0.3">SCR7</text>
<text x="322.00" y="298.20" font-size="6.8" text-anchor="middle" font-weight="normal" fill="#1c1c1c" stroke="#1c1c1c" stroke-width="0.3">RI-1</text>
<text x="231.20" y="223.50" font-size="5.3" text-anchor="middle" font-weight="normal" fill="#1c1c1c" stroke="#1c1c1c" stroke-width="0.3"><tspan font-style="italic">P</tspan>=0.0022</text>
<path d="M226.40,228.90 L226.40,227.10 L236.00,227.10 L236.00,228.90" fill="none" stroke="#1a1a1a" stroke-width="0.9"/>
<text x="261.50" y="223.50" font-size="5.3" text-anchor="middle" font-weight="normal" fill="#1c1c1c" stroke="#1c1c1c" stroke-width="0.3"><tspan font-style="italic">P</tspan>=0.0027</text>
<path d="M256.70,228.90 L256.70,227.10 L266.30,227.10 L266.30,228.90" fill="none" stroke="#1a1a1a" stroke-width="0.9"/>
<text x="291.80" y="223.50" font-size="5.3" text-anchor="middle" font-weight="normal" fill="#1c1c1c" stroke="#1c1c1c" stroke-width="0.3"><tspan font-style="italic">P</tspan>=0.0022</text>
<path d="M287.00,228.90 L287.00,227.10 L296.60,227.10 L296.60,228.90" fill="none" stroke="#1a1a1a" stroke-width="0.9"/>
<text x="322.10" y="223.50" font-size="5.3" text-anchor="middle" font-weight="normal" fill="#1c1c1c" stroke="#1c1c1c" stroke-width="0.3"><tspan font-style="italic">P</tspan>=0.0019</text>
<path d="M317.30,228.90 L317.30,227.10 L326.90,227.10 L326.90,228.90" fill="none" stroke="#1a1a1a" stroke-width="0.9"/>
<text transform="translate(190.60,245.75) rotate(-90)" x="0" y="0" font-size="9.0" text-anchor="middle" fill="#1c1c1c" stroke="#1c1c1c" stroke-width="0.3" textLength="97.30" lengthAdjust="spacingAndGlyphs">AUC [(adducts/10<tspan font-size="6.12" dy="-3.60">6</tspan><tspan dy="3.60">nucl) × h]</tspan></text>
<rect x="304.10" y="197.00" width="9.00" height="3.20" fill="#020202"/>
<text x="314.80" y="200.50" font-size="5.4" text-anchor="start" font-weight="normal" fill="#1c1c1c" stroke="#1c1c1c" stroke-width="0.3">R</text>
<rect x="304.10" y="203.60" width="9.00" height="3.20" fill="#900a2e"/>
<text x="314.80" y="207.10" font-size="5.4" text-anchor="start" font-weight="normal" fill="#1c1c1c" stroke="#1c1c1c" stroke-width="0.3">NR</text>
<text x="361.40" y="340.60" font-size="12" text-anchor="middle" font-weight="bold" fill="#000">J</text>
<text x="453.00" y="340.30" font-size="8.6" text-anchor="middle" font-weight="normal" fill="#1c1c1c" stroke="#1c1c1c" stroke-width="0.3" textLength="83.20" lengthAdjust="spacingAndGlyphs">BMPC - ICL - NO INH</text>
<line x1="392.10" y1="346.40" x2="392.10" y2="433.20" stroke="#262626" stroke-width="1.25"/>
<line x1="389.10" y1="429.80" x2="392.10" y2="429.80" stroke="#262626" stroke-width="1.1"/>
<text x="386.00" y="432.13" font-size="6.5" text-anchor="end" font-weight="normal" fill="#1c1c1c" stroke="#1c1c1c" stroke-width="0.3">0</text>
<line x1="389.10" y1="411.20" x2="392.10" y2="411.20" stroke="#262626" stroke-width="1.1"/>
<text x="386.00" y="413.53" font-size="6.5" text-anchor="end" font-weight="normal" fill="#1c1c1c" stroke="#1c1c1c" stroke-width="0.3">10</text>
<line x1="389.10" y1="392.60" x2="392.10" y2="392.60" stroke="#262626" stroke-width="1.1"/>
<text x="386.00" y="394.93" font-size="6.5" text-anchor="end" font-weight="normal" fill="#1c1c1c" stroke="#1c1c1c" stroke-width="0.3">20</text>
<line x1="389.10" y1="374.00" x2="392.10" y2="374.00" stroke="#262626" stroke-width="1.1"/>
<text x="386.00" y="376.33" font-size="6.5" text-anchor="end" font-weight="normal" fill="#1c1c1c" stroke="#1c1c1c" stroke-width="0.3">30</text>
<line x1="389.10" y1="355.40" x2="392.10" y2="355.40" stroke="#262626" stroke-width="1.1"/>
<text x="386.00" y="357.73" font-size="6.5" text-anchor="end" font-weight="normal" fill="#1c1c1c" stroke="#1c1c1c" stroke-width="0.3">40</text>
<line x1="392.10" y1="433.20" x2="510.00" y2="433.20" stroke="#262626" stroke-width="1.25"/>
<line x1="398.50" y1="433.20" x2="398.50" y2="436.20" stroke="#262626" stroke-width="1.1"/>
<text x="398.50" y="444.90" font-size="6.5" text-anchor="middle" font-weight="normal" fill="#1c1c1c" stroke="#1c1c1c" stroke-width="0.3">0</text>
<line x1="416.22" y1="433.20" x2="416.22" y2="436.20" stroke="#262626" stroke-width="1.1"/>
<text x="416.22" y="444.90" font-size="6.5" text-anchor="middle" font-weight="normal" fill="#1c1c1c" stroke="#1c1c1c" stroke-width="0.3">8</text>
<line x1="433.94" y1="433.20" x2="433.94" y2="436.20" stroke="#262626" stroke-width="1.1"/>
<text x="433.94" y="444.90" font-size="6.5" text-anchor="middle" font-weight="normal" fill="#1c1c1c" stroke="#1c1c1c" stroke-width="0.3">16</text>
<line x1="451.66" y1="433.20" x2="451.66" y2="436.20" stroke="#262626" stroke-width="1.1"/>
<text x="451.66" y="444.90" font-size="6.5" text-anchor="middle" font-weight="normal" fill="#1c1c1c" stroke="#1c1c1c" stroke-width="0.3">24</text>
<line x1="469.38" y1="433.20" x2="469.38" y2="436.20" stroke="#262626" stroke-width="1.1"/>
<text x="469.38" y="444.90" font-size="6.5" text-anchor="middle" font-weight="normal" fill="#1c1c1c" stroke="#1c1c1c" stroke-width="0.3">32</text>
<line x1="487.10" y1="433.20" x2="487.10" y2="436.20" stroke="#262626" stroke-width="1.1"/>
<text x="487.10" y="444.90" font-size="6.5" text-anchor="middle" font-weight="normal" fill="#1c1c1c" stroke="#1c1c1c" stroke-width="0.3">40</text>
<line x1="504.82" y1="433.20" x2="504.82" y2="436.20" stroke="#262626" stroke-width="1.1"/>
<text x="504.82" y="444.90" font-size="6.5" text-anchor="middle" font-weight="normal" fill="#1c1c1c" stroke="#1c1c1c" stroke-width="0.3">48</text>
<text x="411.20" y="456.90" font-size="8.9" text-anchor="start" font-weight="normal" fill="#1c1c1c" stroke="#1c1c1c" stroke-width="0.3" textLength="83.00" lengthAdjust="spacingAndGlyphs">Post-incubation time (h)</text>
<text transform="translate(373.40,389.10) rotate(-90)" x="0" y="0" font-size="9.0" text-anchor="middle" fill="#1c1c1c" stroke="#1c1c1c" stroke-width="0.3" textLength="75.40" lengthAdjust="spacingAndGlyphs">ICL (adducts/10<tspan font-size="6.12" dy="-3.60">6</tspan><tspan dy="3.60">nucl)</tspan></text>
<path d="M402.93,400.04 L416.22,367.49 L451.66,402.83 L504.82,414.92" fill="none" stroke="#020202" stroke-width="1.45" stroke-linejoin="round"/>
<line x1="402.93" y1="388.88" x2="402.93" y2="409.34" stroke="#020202" stroke-width="1.0"/>
<line x1="401.53" y1="388.88" x2="404.33" y2="388.88" stroke="#020202" stroke-width="1.0"/>
<line x1="401.53" y1="409.34" x2="404.33" y2="409.34" stroke="#020202" stroke-width="1.0"/>
<circle cx="402.93" cy="400.04" r="1.45" fill="#020202"/>
<line x1="416.22" y1="353.35" x2="416.22" y2="381.44" stroke="#020202" stroke-width="1.0"/>
<line x1="414.82" y1="353.35" x2="417.62" y2="353.35" stroke="#020202" stroke-width="1.0"/>
<line x1="414.82" y1="381.44" x2="417.62" y2="381.44" stroke="#020202" stroke-width="1.0"/>
<circle cx="416.22" cy="367.49" r="1.45" fill="#020202"/>
<line x1="451.66" y1="391.67" x2="451.66" y2="413.06" stroke="#020202" stroke-width="1.0"/>
<line x1="450.26" y1="391.67" x2="453.06" y2="391.67" stroke="#020202" stroke-width="1.0"/>
<line x1="450.26" y1="413.06" x2="453.06" y2="413.06" stroke="#020202" stroke-width="1.0"/>
<circle cx="451.66" cy="402.83" r="1.45" fill="#020202"/>
<line x1="504.82" y1="409.34" x2="504.82" y2="420.50" stroke="#020202" stroke-width="1.0"/>
<line x1="503.42" y1="409.34" x2="506.22" y2="409.34" stroke="#020202" stroke-width="1.0"/>
<line x1="503.42" y1="420.50" x2="506.22" y2="420.50" stroke="#020202" stroke-width="1.0"/>
<circle cx="504.82" cy="414.92" r="1.45" fill="#020202"/>
<path d="M402.93,410.27 L416.22,387.76 L451.66,418.64 L504.82,426.08" fill="none" stroke="#8e1535" stroke-width="1.45" stroke-linejoin="round"/>
<line x1="402.93" y1="400.04" x2="402.93" y2="421.99" stroke="#8e1535" stroke-width="1.0"/>
<line x1="401.53" y1="400.04" x2="404.33" y2="400.04" stroke="#8e1535" stroke-width="1.0"/>
<line x1="401.53" y1="421.99" x2="404.33" y2="421.99" stroke="#8e1535" stroke-width="1.0"/>
<path d="M401.23,411.47 L404.63,411.47 L402.93,408.57 Z" fill="#8e1535"/>
<line x1="416.22" y1="377.53" x2="416.22" y2="397.25" stroke="#8e1535" stroke-width="1.0"/>
<line x1="414.82" y1="377.53" x2="417.62" y2="377.53" stroke="#8e1535" stroke-width="1.0"/>
<line x1="414.82" y1="397.25" x2="417.62" y2="397.25" stroke="#8e1535" stroke-width="1.0"/>
<path d="M414.52,388.96 L417.92,388.96 L416.22,386.06 Z" fill="#8e1535"/>
<line x1="451.66" y1="412.13" x2="451.66" y2="424.22" stroke="#8e1535" stroke-width="1.0"/>
<line x1="450.26" y1="412.13" x2="453.06" y2="412.13" stroke="#8e1535" stroke-width="1.0"/>
<line x1="450.26" y1="424.22" x2="453.06" y2="424.22" stroke="#8e1535" stroke-width="1.0"/>
<path d="M449.96,419.84 L453.36,419.84 L451.66,416.94 Z" fill="#8e1535"/>
<line x1="504.82" y1="420.50" x2="504.82" y2="429.80" stroke="#8e1535" stroke-width="1.0"/>
<line x1="503.42" y1="420.50" x2="506.22" y2="420.50" stroke="#8e1535" stroke-width="1.0"/>
<line x1="503.42" y1="429.80" x2="506.22" y2="429.80" stroke="#8e1535" stroke-width="1.0"/>
<path d="M503.12,427.28 L506.52,427.28 L504.82,424.38 Z" fill="#8e1535"/>
<line x1="468.50" y1="359.40" x2="484.20" y2="359.40" stroke="#020202" stroke-width="1.4"/>
<circle cx="476.35" cy="359.40" r="1.45" fill="#020202"/>
<text x="487.70" y="361.53" font-size="5.4" text-anchor="start" font-weight="normal" fill="#1c1c1c" stroke="#1c1c1c" stroke-width="0.3">R</text>
<line x1="468.50" y1="367.30" x2="484.20" y2="367.30" stroke="#8e1535" stroke-width="1.4"/>
<path d="M474.65,368.50 L478.05,368.50 L476.35,365.60 Z" fill="#8e1535"/>
<text x="487.70" y="369.43" font-size="5.4" text-anchor="start" font-weight="normal" fill="#1c1c1c" stroke="#1c1c1c" stroke-width="0.3">NR</text>
<text x="13.40" y="486.90" font-size="12" text-anchor="middle" font-weight="bold" fill="#000">K</text>
<text x="100.10" y="485.20" font-size="8.6" text-anchor="middle" font-weight="normal" fill="#1c1c1c" stroke="#1c1c1c" stroke-width="0.3" textLength="99.30" lengthAdjust="spacingAndGlyphs">BMPC - Responders - ICL</text>
<line x1="45.10" y1="550.39" x2="45.10" y2="560.81" stroke="#111" stroke-width="1.15"/>
<line x1="43.50" y1="550.39" x2="46.70" y2="550.39" stroke="#111" stroke-width="1.2"/>
<rect x="42.60" y="560.81" width="5.00" height="27.79" fill="#020202"/>
<line x1="50.10" y1="555.60" x2="50.10" y2="563.41" stroke="#111" stroke-width="1.15"/>
<line x1="48.50" y1="555.60" x2="51.70" y2="555.60" stroke="#111" stroke-width="1.2"/>
<rect x="47.60" y="563.41" width="5.00" height="25.19" fill="#ab0430"/>
<line x1="55.10" y1="552.12" x2="55.10" y2="561.68" stroke="#111" stroke-width="1.15"/>
<line x1="53.50" y1="552.12" x2="56.70" y2="552.12" stroke="#111" stroke-width="1.2"/>
<rect x="52.60" y="561.68" width="5.00" height="26.92" fill="#66ad48"/>
<line x1="60.10" y1="555.60" x2="60.10" y2="565.15" stroke="#111" stroke-width="1.15"/>
<line x1="58.50" y1="555.60" x2="61.70" y2="555.60" stroke="#111" stroke-width="1.2"/>
<rect x="57.60" y="565.15" width="5.00" height="23.45" fill="#eab47e"/>
<line x1="77.10" y1="518.25" x2="77.10" y2="530.41" stroke="#111" stroke-width="1.15"/>
<line x1="75.50" y1="518.25" x2="78.70" y2="518.25" stroke="#111" stroke-width="1.2"/>
<rect x="74.60" y="530.41" width="5.00" height="58.19" fill="#020202"/>
<line x1="82.10" y1="517.38" x2="82.10" y2="533.02" stroke="#111" stroke-width="1.15"/>
<line x1="80.50" y1="517.38" x2="83.70" y2="517.38" stroke="#111" stroke-width="1.2"/>
<rect x="79.60" y="533.02" width="5.00" height="55.58" fill="#ab0430"/>
<line x1="87.10" y1="516.51" x2="87.10" y2="532.15" stroke="#111" stroke-width="1.15"/>
<line x1="85.50" y1="516.51" x2="88.70" y2="516.51" stroke="#111" stroke-width="1.2"/>
<rect x="84.60" y="532.15" width="5.00" height="56.45" fill="#66ad48"/>
<line x1="92.10" y1="519.12" x2="92.10" y2="536.49" stroke="#111" stroke-width="1.15"/>
<line x1="90.50" y1="519.12" x2="93.70" y2="519.12" stroke="#111" stroke-width="1.2"/>
<rect x="89.60" y="536.49" width="5.00" height="52.11" fill="#eab47e"/>
<line x1="109.00" y1="552.99" x2="109.00" y2="563.41" stroke="#111" stroke-width="1.15"/>
<line x1="107.40" y1="552.99" x2="110.60" y2="552.99" stroke="#111" stroke-width="1.2"/>
<rect x="106.50" y="563.41" width="5.00" height="25.19" fill="#020202"/>
<line x1="114.00" y1="561.68" x2="114.00" y2="570.71" stroke="#111" stroke-width="1.15"/>
<line x1="112.40" y1="561.68" x2="115.60" y2="561.68" stroke="#111" stroke-width="1.2"/>
<rect x="111.50" y="570.71" width="5.00" height="17.89" fill="#ab0430"/>
<line x1="119.00" y1="556.47" x2="119.00" y2="566.02" stroke="#111" stroke-width="1.15"/>
<line x1="117.40" y1="556.47" x2="120.60" y2="556.47" stroke="#111" stroke-width="1.2"/>
<rect x="116.50" y="566.02" width="5.00" height="22.58" fill="#66ad48"/>
<line x1="124.00" y1="554.73" x2="124.00" y2="565.15" stroke="#111" stroke-width="1.15"/>
<line x1="122.40" y1="554.73" x2="125.60" y2="554.73" stroke="#111" stroke-width="1.2"/>
<rect x="121.50" y="565.15" width="5.00" height="23.45" fill="#eab47e"/>
<line x1="140.40" y1="569.49" x2="140.40" y2="574.70" stroke="#111" stroke-width="1.15"/>
<line x1="138.80" y1="569.49" x2="142.00" y2="569.49" stroke="#111" stroke-width="1.2"/>
<rect x="137.90" y="574.70" width="5.00" height="13.90" fill="#020202"/>
<line x1="145.40" y1="570.36" x2="145.40" y2="576.44" stroke="#111" stroke-width="1.15"/>
<line x1="143.80" y1="570.36" x2="147.00" y2="570.36" stroke="#111" stroke-width="1.2"/>
<rect x="142.90" y="576.44" width="5.00" height="12.16" fill="#ab0430"/>
<line x1="150.40" y1="571.23" x2="150.40" y2="577.31" stroke="#111" stroke-width="1.15"/>
<line x1="148.80" y1="571.23" x2="152.00" y2="571.23" stroke="#111" stroke-width="1.2"/>
<rect x="147.90" y="577.31" width="5.00" height="11.29" fill="#66ad48"/>
<line x1="155.40" y1="571.23" x2="155.40" y2="576.44" stroke="#111" stroke-width="1.15"/>
<line x1="153.80" y1="571.23" x2="157.00" y2="571.23" stroke="#111" stroke-width="1.2"/>
<rect x="152.90" y="576.44" width="5.00" height="12.16" fill="#eab47e"/>
<line x1="39.60" y1="499.00" x2="39.60" y2="588.60" stroke="#262626" stroke-width="1.25"/>
<line x1="36.60" y1="588.60" x2="39.60" y2="588.60" stroke="#262626" stroke-width="1.1"/>
<text x="34.10" y="590.93" font-size="6.5" text-anchor="end" font-weight="normal" fill="#1c1c1c" stroke="#1c1c1c" stroke-width="0.3">0</text>
<line x1="36.60" y1="571.23" x2="39.60" y2="571.23" stroke="#262626" stroke-width="1.1"/>
<text x="34.10" y="573.56" font-size="6.5" text-anchor="end" font-weight="normal" fill="#1c1c1c" stroke="#1c1c1c" stroke-width="0.3">10</text>
<line x1="36.60" y1="553.86" x2="39.60" y2="553.86" stroke="#262626" stroke-width="1.1"/>
<text x="34.10" y="556.19" font-size="6.5" text-anchor="end" font-weight="normal" fill="#1c1c1c" stroke="#1c1c1c" stroke-width="0.3">20</text>
<line x1="36.60" y1="536.49" x2="39.60" y2="536.49" stroke="#262626" stroke-width="1.1"/>
<text x="34.10" y="538.82" font-size="6.5" text-anchor="end" font-weight="normal" fill="#1c1c1c" stroke="#1c1c1c" stroke-width="0.3">30</text>
<line x1="36.60" y1="519.12" x2="39.60" y2="519.12" stroke="#262626" stroke-width="1.1"/>
<text x="34.10" y="521.45" font-size="6.5" text-anchor="end" font-weight="normal" fill="#1c1c1c" stroke="#1c1c1c" stroke-width="0.3">40</text>
<line x1="36.60" y1="501.75" x2="39.60" y2="501.75" stroke="#262626" stroke-width="1.1"/>
<text x="34.10" y="504.08" font-size="6.5" text-anchor="end" font-weight="normal" fill="#1c1c1c" stroke="#1c1c1c" stroke-width="0.3">50</text>
<line x1="38.50" y1="588.60" x2="158.00" y2="588.60" stroke="#262626" stroke-width="1.25"/>
<line x1="52.60" y1="588.60" x2="52.60" y2="591.60" stroke="#262626" stroke-width="1.1"/>
<text x="52.60" y="601.00" font-size="6.5" text-anchor="middle" font-weight="normal" fill="#1c1c1c" stroke="#1c1c1c" stroke-width="0.3">2</text>
<line x1="84.60" y1="588.60" x2="84.60" y2="591.60" stroke="#262626" stroke-width="1.1"/>
<text x="84.60" y="601.00" font-size="6.5" text-anchor="middle" font-weight="normal" fill="#1c1c1c" stroke="#1c1c1c" stroke-width="0.3">8</text>
<line x1="116.50" y1="588.60" x2="116.50" y2="591.60" stroke="#262626" stroke-width="1.1"/>
<text x="116.50" y="601.00" font-size="6.5" text-anchor="middle" font-weight="normal" fill="#1c1c1c" stroke="#1c1c1c" stroke-width="0.3">24</text>
<line x1="147.90" y1="588.60" x2="147.90" y2="591.60" stroke="#262626" stroke-width="1.1"/>
<text x="147.90" y="601.00" font-size="6.5" text-anchor="middle" font-weight="normal" fill="#1c1c1c" stroke="#1c1c1c" stroke-width="0.3">48</text>
<text x="59.20" y="613.00" font-size="8.9" text-anchor="start" font-weight="normal" fill="#1c1c1c" stroke="#1c1c1c" stroke-width="0.3" textLength="82.70" lengthAdjust="spacingAndGlyphs">Post-incubation time (h)</text>
<text transform="translate(18.00,543.90) rotate(-90)" x="0" y="0" font-size="9.0" text-anchor="middle" fill="#1c1c1c" stroke="#1c1c1c" stroke-width="0.3" textLength="74.60" lengthAdjust="spacingAndGlyphs">ICL (adducts/10<tspan font-size="6.12" dy="-3.60">6</tspan><tspan dy="3.60">nucl)</tspan></text>
<rect x="123.20" y="507.10" width="8.90" height="3.40" fill="#020202"/>
<text x="135.00" y="510.73" font-size="5.4" text-anchor="start" font-weight="normal" fill="#1c1c1c" stroke="#1c1c1c" stroke-width="0.3">NO INH</text>
<rect x="123.20" y="514.80" width="8.90" height="3.40" fill="#900a2e"/>
<text x="135.00" y="518.43" font-size="5.4" text-anchor="start" font-weight="normal" fill="#1c1c1c" stroke="#1c1c1c" stroke-width="0.3">NU7026</text>
<rect x="123.20" y="522.30" width="8.90" height="3.40" fill="#5fa244"/>
<text x="135.00" y="525.93" font-size="5.4" text-anchor="start" font-weight="normal" fill="#1c1c1c" stroke="#1c1c1c" stroke-width="0.3">SCR7</text>
<rect x="123.20" y="530.00" width="8.90" height="3.40" fill="#dfb07e"/>
<text x="135.00" y="533.63" font-size="5.4" text-anchor="start" font-weight="normal" fill="#1c1c1c" stroke="#1c1c1c" stroke-width="0.3">RI-1</text>
<text x="186.20" y="486.90" font-size="12" text-anchor="middle" font-weight="bold" fill="#000">L</text>
<text x="276.40" y="485.20" font-size="8.6" text-anchor="middle" font-weight="normal" fill="#1c1c1c" stroke="#1c1c1c" stroke-width="0.3" textLength="118.50" lengthAdjust="spacingAndGlyphs">BMPC - Non Responders - ICL</text>
<line x1="221.62" y1="554.97" x2="221.62" y2="567.55" stroke="#111" stroke-width="1.15"/>
<line x1="220.03" y1="554.97" x2="223.22" y2="554.97" stroke="#111" stroke-width="1.2"/>
<rect x="219.20" y="567.55" width="4.85" height="21.05" fill="#020202"/>
<line x1="226.47" y1="557.13" x2="226.47" y2="567.55" stroke="#111" stroke-width="1.15"/>
<line x1="224.88" y1="557.13" x2="228.07" y2="557.13" stroke="#111" stroke-width="1.2"/>
<rect x="224.05" y="567.55" width="4.85" height="21.05" fill="#ab0430"/>
<line x1="231.32" y1="561.48" x2="231.32" y2="571.24" stroke="#111" stroke-width="1.15"/>
<line x1="229.72" y1="561.48" x2="232.92" y2="561.48" stroke="#111" stroke-width="1.2"/>
<rect x="228.90" y="571.24" width="4.85" height="17.36" fill="#66ad48"/>
<line x1="236.18" y1="558.22" x2="236.18" y2="567.12" stroke="#111" stroke-width="1.15"/>
<line x1="234.58" y1="558.22" x2="237.78" y2="558.22" stroke="#111" stroke-width="1.2"/>
<rect x="233.75" y="567.12" width="4.85" height="21.48" fill="#eab47e"/>
<line x1="253.43" y1="527.84" x2="253.43" y2="539.77" stroke="#111" stroke-width="1.15"/>
<line x1="251.83" y1="527.84" x2="255.03" y2="527.84" stroke="#111" stroke-width="1.2"/>
<rect x="251.00" y="539.77" width="4.85" height="48.83" fill="#020202"/>
<line x1="258.27" y1="522.41" x2="258.27" y2="535.44" stroke="#111" stroke-width="1.15"/>
<line x1="256.67" y1="522.41" x2="259.88" y2="522.41" stroke="#111" stroke-width="1.2"/>
<rect x="255.85" y="535.44" width="4.85" height="53.16" fill="#ab0430"/>
<line x1="263.12" y1="524.59" x2="263.12" y2="537.61" stroke="#111" stroke-width="1.15"/>
<line x1="261.52" y1="524.59" x2="264.73" y2="524.59" stroke="#111" stroke-width="1.2"/>
<rect x="260.70" y="537.61" width="4.85" height="51.00" fill="#66ad48"/>
<line x1="267.98" y1="528.93" x2="267.98" y2="539.77" stroke="#111" stroke-width="1.15"/>
<line x1="266.38" y1="528.93" x2="269.58" y2="528.93" stroke="#111" stroke-width="1.2"/>
<rect x="265.55" y="539.77" width="4.85" height="48.83" fill="#eab47e"/>
<line x1="285.23" y1="567.99" x2="285.23" y2="575.58" stroke="#111" stroke-width="1.15"/>
<line x1="283.62" y1="567.99" x2="286.83" y2="567.99" stroke="#111" stroke-width="1.2"/>
<rect x="282.80" y="575.58" width="4.85" height="13.02" fill="#020202"/>
<line x1="290.08" y1="571.24" x2="290.08" y2="577.75" stroke="#111" stroke-width="1.15"/>
<line x1="288.48" y1="571.24" x2="291.68" y2="571.24" stroke="#111" stroke-width="1.2"/>
<rect x="287.65" y="577.75" width="4.85" height="10.85" fill="#ab0430"/>
<line x1="294.93" y1="564.73" x2="294.93" y2="573.41" stroke="#111" stroke-width="1.15"/>
<line x1="293.32" y1="564.73" x2="296.53" y2="564.73" stroke="#111" stroke-width="1.2"/>
<rect x="292.50" y="573.41" width="4.85" height="15.19" fill="#66ad48"/>
<line x1="299.78" y1="567.99" x2="299.78" y2="574.50" stroke="#111" stroke-width="1.15"/>
<line x1="298.18" y1="567.99" x2="301.38" y2="567.99" stroke="#111" stroke-width="1.2"/>
<rect x="297.35" y="574.50" width="4.85" height="14.11" fill="#eab47e"/>
<line x1="317.03" y1="579.92" x2="317.03" y2="583.83" stroke="#111" stroke-width="1.15"/>
<line x1="315.43" y1="579.92" x2="318.63" y2="579.92" stroke="#111" stroke-width="1.2"/>
<rect x="314.60" y="583.83" width="4.85" height="4.77" fill="#020202"/>
<line x1="321.88" y1="583.18" x2="321.88" y2="584.48" stroke="#111" stroke-width="1.15"/>
<line x1="320.28" y1="583.18" x2="323.48" y2="583.18" stroke="#111" stroke-width="1.2"/>
<rect x="319.45" y="584.48" width="4.85" height="4.12" fill="#ab0430"/>
<line x1="326.73" y1="577.75" x2="326.73" y2="581.87" stroke="#111" stroke-width="1.15"/>
<line x1="325.12" y1="577.75" x2="328.33" y2="577.75" stroke="#111" stroke-width="1.2"/>
<rect x="324.30" y="581.87" width="4.85" height="6.73" fill="#66ad48"/>
<line x1="331.58" y1="582.09" x2="331.58" y2="584.91" stroke="#111" stroke-width="1.15"/>
<line x1="329.98" y1="582.09" x2="333.18" y2="582.09" stroke="#111" stroke-width="1.2"/>
<rect x="329.15" y="584.91" width="4.85" height="3.69" fill="#eab47e"/>
<line x1="216.00" y1="499.00" x2="216.00" y2="588.60" stroke="#262626" stroke-width="1.25"/>
<line x1="213.00" y1="588.60" x2="216.00" y2="588.60" stroke="#262626" stroke-width="1.1"/>
<text x="210.50" y="590.93" font-size="6.5" text-anchor="end" font-weight="normal" fill="#1c1c1c" stroke="#1c1c1c" stroke-width="0.3">0</text>
<line x1="213.00" y1="566.90" x2="216.00" y2="566.90" stroke="#262626" stroke-width="1.1"/>
<text x="210.50" y="569.23" font-size="6.5" text-anchor="end" font-weight="normal" fill="#1c1c1c" stroke="#1c1c1c" stroke-width="0.3">10</text>
<line x1="213.00" y1="545.20" x2="216.00" y2="545.20" stroke="#262626" stroke-width="1.1"/>
<text x="210.50" y="547.53" font-size="6.5" text-anchor="end" font-weight="normal" fill="#1c1c1c" stroke="#1c1c1c" stroke-width="0.3">20</text>
<line x1="213.00" y1="523.50" x2="216.00" y2="523.50" stroke="#262626" stroke-width="1.1"/>
<text x="210.50" y="525.83" font-size="6.5" text-anchor="end" font-weight="normal" fill="#1c1c1c" stroke="#1c1c1c" stroke-width="0.3">30</text>
<line x1="213.00" y1="501.80" x2="216.00" y2="501.80" stroke="#262626" stroke-width="1.1"/>
<text x="210.50" y="504.13" font-size="6.5" text-anchor="end" font-weight="normal" fill="#1c1c1c" stroke="#1c1c1c" stroke-width="0.3">40</text>
<line x1="215.00" y1="588.60" x2="336.00" y2="588.60" stroke="#262626" stroke-width="1.25"/>
<line x1="228.90" y1="588.60" x2="228.90" y2="591.60" stroke="#262626" stroke-width="1.1"/>
<text x="228.90" y="601.00" font-size="6.5" text-anchor="middle" font-weight="normal" fill="#1c1c1c" stroke="#1c1c1c" stroke-width="0.3">2</text>
<line x1="260.70" y1="588.60" x2="260.70" y2="591.60" stroke="#262626" stroke-width="1.1"/>
<text x="260.70" y="601.00" font-size="6.5" text-anchor="middle" font-weight="normal" fill="#1c1c1c" stroke="#1c1c1c" stroke-width="0.3">8</text>
<line x1="292.50" y1="588.60" x2="292.50" y2="591.60" stroke="#262626" stroke-width="1.1"/>
<text x="292.50" y="601.00" font-size="6.5" text-anchor="middle" font-weight="normal" fill="#1c1c1c" stroke="#1c1c1c" stroke-width="0.3">24</text>
<line x1="324.30" y1="588.60" x2="324.30" y2="591.60" stroke="#262626" stroke-width="1.1"/>
<text x="324.30" y="601.00" font-size="6.5" text-anchor="middle" font-weight="normal" fill="#1c1c1c" stroke="#1c1c1c" stroke-width="0.3">48</text>
<text x="235.60" y="613.00" font-size="8.9" text-anchor="start" font-weight="normal" fill="#1c1c1c" stroke="#1c1c1c" stroke-width="0.3" textLength="82.70" lengthAdjust="spacingAndGlyphs">Post-incubation time (h)</text>
<text transform="translate(197.80,544.20) rotate(-90)" x="0" y="0" font-size="9.0" text-anchor="middle" fill="#1c1c1c" stroke="#1c1c1c" stroke-width="0.3" textLength="73.80" lengthAdjust="spacingAndGlyphs">ICL (adducts/10<tspan font-size="6.12" dy="-3.60">6</tspan><tspan dy="3.60">nucl)</tspan></text>
<rect x="295.60" y="506.90" width="9.00" height="3.40" fill="#020202"/>
<text x="307.10" y="510.53" font-size="5.4" text-anchor="start" font-weight="normal" fill="#1c1c1c" stroke="#1c1c1c" stroke-width="0.3">NO INH</text>
<rect x="295.60" y="514.80" width="9.00" height="3.40" fill="#900a2e"/>
<text x="307.10" y="518.43" font-size="5.4" text-anchor="start" font-weight="normal" fill="#1c1c1c" stroke="#1c1c1c" stroke-width="0.3">NU7026</text>
<rect x="295.60" y="522.50" width="9.00" height="3.40" fill="#5fa244"/>
<text x="307.10" y="526.13" font-size="5.4" text-anchor="start" font-weight="normal" fill="#1c1c1c" stroke="#1c1c1c" stroke-width="0.3">SCR7</text>
<rect x="295.60" y="530.10" width="9.00" height="3.40" fill="#dfb07e"/>
<text x="307.10" y="533.73" font-size="5.4" text-anchor="start" font-weight="normal" fill="#1c1c1c" stroke="#1c1c1c" stroke-width="0.3">RI-1</text>
<text x="361.85" y="486.90" font-size="12" text-anchor="middle" font-weight="bold" fill="#000">M</text>
<text x="452.70" y="485.20" font-size="8.6" text-anchor="middle" font-weight="normal" fill="#1c1c1c" stroke="#1c1c1c" stroke-width="0.3" textLength="72.60" lengthAdjust="spacingAndGlyphs">BMPC - ICL - AUC</text>
<line x1="402.85" y1="517.18" x2="402.85" y2="535.20" stroke="#111" stroke-width="1.15"/>
<line x1="401.15" y1="517.18" x2="404.55" y2="517.18" stroke="#111" stroke-width="1.2"/>
<rect x="398.40" y="535.20" width="8.90" height="53.40" fill="#020202"/>
<line x1="411.75" y1="551.55" x2="411.75" y2="559.90" stroke="#111" stroke-width="1.15"/>
<line x1="410.05" y1="551.55" x2="413.45" y2="551.55" stroke="#111" stroke-width="1.2"/>
<rect x="407.30" y="559.90" width="8.90" height="28.70" fill="#ab0430"/>
<line x1="432.95" y1="526.86" x2="432.95" y2="542.88" stroke="#111" stroke-width="1.15"/>
<line x1="431.25" y1="526.86" x2="434.65" y2="526.86" stroke="#111" stroke-width="1.2"/>
<rect x="428.50" y="542.88" width="8.90" height="45.72" fill="#020202"/>
<line x1="441.85" y1="553.56" x2="441.85" y2="560.23" stroke="#111" stroke-width="1.15"/>
<line x1="440.15" y1="553.56" x2="443.55" y2="553.56" stroke="#111" stroke-width="1.2"/>
<rect x="437.40" y="560.23" width="8.90" height="28.37" fill="#ab0430"/>
<line x1="462.45" y1="523.52" x2="462.45" y2="538.87" stroke="#111" stroke-width="1.15"/>
<line x1="460.75" y1="523.52" x2="464.15" y2="523.52" stroke="#111" stroke-width="1.2"/>
<rect x="458.00" y="538.87" width="8.90" height="49.73" fill="#020202"/>
<line x1="471.35" y1="546.21" x2="471.35" y2="557.23" stroke="#111" stroke-width="1.15"/>
<line x1="469.65" y1="546.21" x2="473.05" y2="546.21" stroke="#111" stroke-width="1.2"/>
<rect x="466.90" y="557.23" width="8.90" height="31.37" fill="#ab0430"/>
<line x1="493.45" y1="523.52" x2="493.45" y2="540.21" stroke="#111" stroke-width="1.15"/>
<line x1="491.75" y1="523.52" x2="495.15" y2="523.52" stroke="#111" stroke-width="1.2"/>
<rect x="489.00" y="540.21" width="8.90" height="48.39" fill="#020202"/>
<line x1="502.35" y1="552.22" x2="502.35" y2="560.23" stroke="#111" stroke-width="1.15"/>
<line x1="500.65" y1="552.22" x2="504.05" y2="552.22" stroke="#111" stroke-width="1.2"/>
<rect x="497.90" y="560.23" width="8.90" height="28.37" fill="#ab0430"/>
<line x1="392.20" y1="501.80" x2="392.20" y2="588.60" stroke="#262626" stroke-width="1.25"/>
<line x1="389.20" y1="588.60" x2="392.20" y2="588.60" stroke="#262626" stroke-width="1.1"/>
<text x="385.20" y="590.93" font-size="6.5" text-anchor="end" font-weight="normal" fill="#1c1c1c" stroke="#1c1c1c" stroke-width="0.3">0</text>
<line x1="389.20" y1="575.25" x2="392.20" y2="575.25" stroke="#262626" stroke-width="1.1"/>
<text x="385.20" y="577.58" font-size="6.5" text-anchor="end" font-weight="normal" fill="#1c1c1c" stroke="#1c1c1c" stroke-width="0.3">200</text>
<line x1="389.20" y1="561.90" x2="392.20" y2="561.90" stroke="#262626" stroke-width="1.1"/>
<text x="385.20" y="564.23" font-size="6.5" text-anchor="end" font-weight="normal" fill="#1c1c1c" stroke="#1c1c1c" stroke-width="0.3">400</text>
<line x1="389.20" y1="548.55" x2="392.20" y2="548.55" stroke="#262626" stroke-width="1.1"/>
<text x="385.20" y="550.88" font-size="6.5" text-anchor="end" font-weight="normal" fill="#1c1c1c" stroke="#1c1c1c" stroke-width="0.3">600</text>
<line x1="389.20" y1="535.20" x2="392.20" y2="535.20" stroke="#262626" stroke-width="1.1"/>
<text x="385.20" y="537.53" font-size="6.5" text-anchor="end" font-weight="normal" fill="#1c1c1c" stroke="#1c1c1c" stroke-width="0.3">800</text>
<line x1="389.20" y1="521.85" x2="392.20" y2="521.85" stroke="#262626" stroke-width="1.1"/>
<text x="385.20" y="524.18" font-size="6.5" text-anchor="end" font-weight="normal" fill="#1c1c1c" stroke="#1c1c1c" stroke-width="0.3">1000</text>
<line x1="389.20" y1="508.50" x2="392.20" y2="508.50" stroke="#262626" stroke-width="1.1"/>
<text x="385.20" y="510.83" font-size="6.5" text-anchor="end" font-weight="normal" fill="#1c1c1c" stroke="#1c1c1c" stroke-width="0.3">1200</text>
<line x1="392.20" y1="588.60" x2="511.00" y2="588.60" stroke="#262626" stroke-width="1.25"/>
<text x="407.20" y="596.90" font-size="6.8" text-anchor="middle" font-weight="normal" fill="#1c1c1c" stroke="#1c1c1c" stroke-width="0.3">NO INH</text>
<text x="437.30" y="596.90" font-size="6.8" text-anchor="middle" font-weight="normal" fill="#1c1c1c" stroke="#1c1c1c" stroke-width="0.3">NU7026</text>
<text x="467.20" y="596.90" font-size="6.8" text-anchor="middle" font-weight="normal" fill="#1c1c1c" stroke="#1c1c1c" stroke-width="0.3">SCR7</text>
<text x="497.00" y="596.90" font-size="6.8" text-anchor="middle" font-weight="normal" fill="#1c1c1c" stroke="#1c1c1c" stroke-width="0.3">RI-1</text>
<text x="437.20" y="519.00" font-size="5.3" text-anchor="middle" font-weight="normal" fill="#1c1c1c" stroke="#1c1c1c" stroke-width="0.3"><tspan font-style="italic">P</tspan>=0.0075</text>
<path d="M432.40,524.00 L432.40,522.20 L442.00,522.20 L442.00,524.00" fill="none" stroke="#1a1a1a" stroke-width="0.9"/>
<text x="498.10" y="515.60" font-size="5.3" text-anchor="middle" font-weight="normal" fill="#1c1c1c" stroke="#1c1c1c" stroke-width="0.3"><tspan font-style="italic">P</tspan>=0.0043</text>
<path d="M493.30,520.40 L493.30,518.60 L502.90,518.60 L502.90,520.40" fill="none" stroke="#1a1a1a" stroke-width="0.9"/>
<text transform="translate(366.30,546.00) rotate(-90)" x="0" y="0" font-size="9.0" text-anchor="middle" fill="#1c1c1c" stroke="#1c1c1c" stroke-width="0.3" textLength="96.70" lengthAdjust="spacingAndGlyphs">AUC [(adducts/10<tspan font-size="6.12" dy="-3.60">6</tspan><tspan dy="3.60">nucl) × h]</tspan></text>
<rect x="397.30" y="500.00" width="9.00" height="3.20" fill="#020202"/>
<text x="408.10" y="503.50" font-size="5.4" text-anchor="start" font-weight="normal" fill="#1c1c1c" stroke="#1c1c1c" stroke-width="0.3">R</text>
<rect x="397.30" y="506.60" width="9.00" height="3.20" fill="#900a2e"/>
<text x="408.10" y="510.10" font-size="5.4" text-anchor="start" font-weight="normal" fill="#1c1c1c" stroke="#1c1c1c" stroke-width="0.3">NR</text>
<text x="362.20" y="179.70" font-size="12" text-anchor="middle" font-weight="bold" fill="#000">F</text>
<text x="430.90" y="178.60" font-size="8.5" text-anchor="middle" font-weight="normal" fill="#1c1c1c" stroke="#1c1c1c" stroke-width="0.3" textLength="53.70" lengthAdjust="spacingAndGlyphs">FN3 fragment</text>
<rect x="383.50" y="186.50" width="91.50" height="98.00" fill="#e8f0f5"/>
<defs><linearGradient id="lg1" x1="0" y1="0" x2="0" y2="1"><stop offset="0.0000" stop-color="#afc4d5"/><stop offset="0.0053" stop-color="#aec4d4"/><stop offset="0.0105" stop-color="#aec4d4"/><stop offset="0.0158" stop-color="#aec4d4"/><stop offset="0.0211" stop-color="#aec3d4"/><stop offset="0.0263" stop-color="#aec3d4"/><stop offset="0.0316" stop-color="#adc3d4"/><stop offset="0.0368" stop-color="#adc3d4"/><stop offset="0.0421" stop-color="#adc3d4"/><stop offset="0.0474" stop-color="#adc3d3"/><stop offset="0.0526" stop-color="#acc2d3"/><stop offset="0.0579" stop-color="#acc2d3"/><stop offset="0.0632" stop-color="#acc2d3"/><stop offset="0.0684" stop-color="#acc2d3"/><stop offset="0.0737" stop-color="#acc2d3"/><stop offset="0.0789" stop-color="#abc1d3"/><stop offset="0.0842" stop-color="#abc1d2"/><stop offset="0.0895" stop-color="#abc1d2"/><stop offset="0.0947" stop-color="#abc1d2"/><stop offset="0.1000" stop-color="#aac1d2"/><stop offset="0.1053" stop-color="#aac0d2"/><stop offset="0.1105" stop-color="#aac0d2"/><stop offset="0.1158" stop-color="#aac0d1"/><stop offset="0.1211" stop-color="#a9c0d1"/><stop offset="0.1263" stop-color="#a9bfd1"/><stop offset="0.1316" stop-color="#a8bfd1"/><stop offset="0.1368" stop-color="#a7bed0"/><stop offset="0.1421" stop-color="#a7bdcf"/><stop offset="0.1474" stop-color="#a6bccf"/><stop offset="0.1526" stop-color="#a5bcce"/><stop offset="0.1579" stop-color="#a4bbcd"/><stop offset="0.1632" stop-color="#a3bacd"/><stop offset="0.1684" stop-color="#a2b9cc"/><stop offset="0.1737" stop-color="#a1b8cc"/><stop offset="0.1789" stop-color="#a0b8cb"/><stop offset="0.1842" stop-color="#9fb7ca"/><stop offset="0.1895" stop-color="#9eb6ca"/><stop offset="0.1947" stop-color="#9db5c9"/><stop offset="0.2000" stop-color="#9cb4c9"/><stop offset="0.2053" stop-color="#9cb4c8"/><stop offset="0.2105" stop-color="#9bb3c7"/><stop offset="0.2158" stop-color="#9ab2c7"/><stop offset="0.2211" stop-color="#99b1c6"/><stop offset="0.2263" stop-color="#98b0c5"/><stop offset="0.2316" stop-color="#97b0c5"/><stop offset="0.2368" stop-color="#95aec4"/><stop offset="0.2421" stop-color="#94adc3"/><stop offset="0.2474" stop-color="#92abc1"/><stop offset="0.2526" stop-color="#90aac0"/><stop offset="0.2579" stop-color="#8ea8bf"/><stop offset="0.2632" stop-color="#8ca6be"/><stop offset="0.2684" stop-color="#8aa5bc"/><stop offset="0.2737" stop-color="#89a3bb"/><stop offset="0.2789" stop-color="#87a2ba"/><stop offset="0.2842" stop-color="#85a0b9"/><stop offset="0.2895" stop-color="#839eb7"/><stop offset="0.2947" stop-color="#819db6"/><stop offset="0.3000" stop-color="#7f9bb5"/><stop offset="0.3053" stop-color="#7e9ab4"/><stop offset="0.3105" stop-color="#7c98b2"/><stop offset="0.3158" stop-color="#7a96b1"/><stop offset="0.3211" stop-color="#7895af"/><stop offset="0.3263" stop-color="#7693ae"/><stop offset="0.3316" stop-color="#7491ac"/><stop offset="0.3368" stop-color="#728fab"/><stop offset="0.3421" stop-color="#718eaa"/><stop offset="0.3474" stop-color="#6f8da8"/><stop offset="0.3526" stop-color="#6e8ba7"/><stop offset="0.3579" stop-color="#6c8aa6"/><stop offset="0.3632" stop-color="#6b88a5"/><stop offset="0.3684" stop-color="#6987a4"/><stop offset="0.3737" stop-color="#6886a2"/><stop offset="0.3789" stop-color="#6684a1"/><stop offset="0.3842" stop-color="#6583a0"/><stop offset="0.3895" stop-color="#63819f"/><stop offset="0.3947" stop-color="#61809e"/><stop offset="0.4000" stop-color="#607f9c"/><stop offset="0.4053" stop-color="#5e7d9b"/><stop offset="0.4105" stop-color="#5d7c9a"/><stop offset="0.4158" stop-color="#5b7a99"/><stop offset="0.4211" stop-color="#5a7998"/><stop offset="0.4263" stop-color="#587796"/><stop offset="0.4316" stop-color="#567595"/><stop offset="0.4368" stop-color="#547493"/><stop offset="0.4421" stop-color="#517191"/><stop offset="0.4474" stop-color="#4f6f8f"/><stop offset="0.4526" stop-color="#4c6c8c"/><stop offset="0.4579" stop-color="#496989"/><stop offset="0.4632" stop-color="#466586"/><stop offset="0.4684" stop-color="#426182"/><stop offset="0.4737" stop-color="#3f5e7f"/><stop offset="0.4789" stop-color="#3c5b7c"/><stop offset="0.4842" stop-color="#3a597a"/><stop offset="0.4895" stop-color="#395879"/><stop offset="0.4947" stop-color="#3a587a"/><stop offset="0.5000" stop-color="#3b5a7b"/><stop offset="0.5053" stop-color="#3c5b7c"/><stop offset="0.5105" stop-color="#3e5d7e"/><stop offset="0.5158" stop-color="#3f5e7f"/><stop offset="0.5211" stop-color="#405f80"/><stop offset="0.5263" stop-color="#3f5f7f"/><stop offset="0.5316" stop-color="#3e5d7e"/><stop offset="0.5368" stop-color="#3c5b7c"/><stop offset="0.5421" stop-color="#385778"/><stop offset="0.5474" stop-color="#335273"/><stop offset="0.5526" stop-color="#2e4c6e"/><stop offset="0.5579" stop-color="#284668"/><stop offset="0.5632" stop-color="#234061"/><stop offset="0.5684" stop-color="#1f3a5a"/><stop offset="0.5737" stop-color="#1a3453"/><stop offset="0.5789" stop-color="#162e4d"/><stop offset="0.5842" stop-color="#122a47"/><stop offset="0.5895" stop-color="#102744"/><stop offset="0.5947" stop-color="#0e2542"/><stop offset="0.6000" stop-color="#0e2542"/><stop offset="0.6053" stop-color="#102743"/><stop offset="0.6105" stop-color="#122a47"/><stop offset="0.6158" stop-color="#152d4b"/><stop offset="0.6211" stop-color="#183251"/><stop offset="0.6263" stop-color="#1c3756"/><stop offset="0.6316" stop-color="#1f3b5b"/><stop offset="0.6368" stop-color="#223e5f"/><stop offset="0.6421" stop-color="#244162"/><stop offset="0.6474" stop-color="#244163"/><stop offset="0.6526" stop-color="#244062"/><stop offset="0.6579" stop-color="#223e5f"/><stop offset="0.6632" stop-color="#1f3b5b"/><stop offset="0.6684" stop-color="#1b3555"/><stop offset="0.6737" stop-color="#162e4c"/><stop offset="0.6789" stop-color="#0f2643"/><stop offset="0.6842" stop-color="#0a1e38"/><stop offset="0.6895" stop-color="#07182d"/><stop offset="0.6947" stop-color="#041122"/><stop offset="0.7000" stop-color="#010b19"/><stop offset="0.7053" stop-color="#000814"/><stop offset="0.7105" stop-color="#000814"/><stop offset="0.7158" stop-color="#000814"/><stop offset="0.7211" stop-color="#000814"/><stop offset="0.7263" stop-color="#000814"/><stop offset="0.7316" stop-color="#000815"/><stop offset="0.7368" stop-color="#030e1e"/><stop offset="0.7421" stop-color="#061529"/><stop offset="0.7474" stop-color="#091c35"/><stop offset="0.7526" stop-color="#0e2541"/><stop offset="0.7579" stop-color="#162f4d"/><stop offset="0.7632" stop-color="#1d3858"/><stop offset="0.7684" stop-color="#244062"/><stop offset="0.7737" stop-color="#2a486a"/><stop offset="0.7789" stop-color="#304e70"/><stop offset="0.7842" stop-color="#345374"/><stop offset="0.7895" stop-color="#375677"/><stop offset="0.7947" stop-color="#385778"/><stop offset="0.8000" stop-color="#385778"/><stop offset="0.8053" stop-color="#375677"/><stop offset="0.8105" stop-color="#355475"/><stop offset="0.8158" stop-color="#325072"/><stop offset="0.8211" stop-color="#2d4b6d"/><stop offset="0.8263" stop-color="#274567"/><stop offset="0.8316" stop-color="#223e5f"/><stop offset="0.8368" stop-color="#1c3756"/><stop offset="0.8421" stop-color="#152e4c"/><stop offset="0.8474" stop-color="#0e2441"/><stop offset="0.8526" stop-color="#0a1d35"/><stop offset="0.8579" stop-color="#061529"/><stop offset="0.8632" stop-color="#030e1d"/><stop offset="0.8684" stop-color="#000814"/><stop offset="0.8737" stop-color="#000814"/><stop offset="0.8789" stop-color="#000814"/><stop offset="0.8842" stop-color="#000814"/><stop offset="0.8895" stop-color="#000814"/><stop offset="0.8947" stop-color="#000814"/><stop offset="0.9000" stop-color="#000814"/><stop offset="0.9053" stop-color="#000814"/><stop offset="0.9105" stop-color="#000814"/><stop offset="0.9158" stop-color="#000814"/><stop offset="0.9211" stop-color="#000814"/><stop offset="0.9263" stop-color="#000814"/><stop offset="0.9316" stop-color="#010a17"/><stop offset="0.9368" stop-color="#051325"/><stop offset="0.9421" stop-color="#091c34"/><stop offset="0.9474" stop-color="#102744"/><stop offset="0.9526" stop-color="#1a3352"/><stop offset="0.9579" stop-color="#233f60"/><stop offset="0.9632" stop-color="#2d4b6d"/><stop offset="0.9684" stop-color="#385778"/><stop offset="0.9737" stop-color="#426182"/><stop offset="0.9789" stop-color="#4a6a8a"/><stop offset="0.9842" stop-color="#527291"/><stop offset="0.9895" stop-color="#597897"/><stop offset="0.9947" stop-color="#5f7e9c"/><stop offset="1.0000" stop-color="#6482a0"/></linearGradient><linearGradient id="hlg1" x1="0" y1="0" x2="1" y2="0"><stop offset="0" stop-color="#f4f8fb" stop-opacity="0.6"/><stop offset="0.2" stop-color="#f4f8fb" stop-opacity="0"/><stop offset="0.8" stop-color="#f4f8fb" stop-opacity="0"/><stop offset="1" stop-color="#f4f8fb" stop-opacity="0.6"/></linearGradient><clipPath id="clg1"><rect x="384.80" y="187.80" width="28.30" height="95.40"/></clipPath></defs>
<rect x="384.80" y="187.80" width="28.30" height="95.40" fill="url(#lg1)"/>
<rect x="384.80" y="187.80" width="28.30" height="95.40" fill="url(#hlg1)"/>
<defs><linearGradient id="lg2" x1="0" y1="0" x2="0" y2="1"><stop offset="0.0000" stop-color="#9db5c9"/><stop offset="0.0053" stop-color="#8ca6bd"/><stop offset="0.0105" stop-color="#7b97b2"/><stop offset="0.0158" stop-color="#6a88a4"/><stop offset="0.0211" stop-color="#597897"/><stop offset="0.0263" stop-color="#496989"/><stop offset="0.0316" stop-color="#416081"/><stop offset="0.0368" stop-color="#517191"/><stop offset="0.0421" stop-color="#64829f"/><stop offset="0.0474" stop-color="#7793ae"/><stop offset="0.0526" stop-color="#7d99b3"/><stop offset="0.0579" stop-color="#7b98b2"/><stop offset="0.0632" stop-color="#7a96b1"/><stop offset="0.0684" stop-color="#7895af"/><stop offset="0.0737" stop-color="#7693ae"/><stop offset="0.0789" stop-color="#7592ad"/><stop offset="0.0842" stop-color="#7390ac"/><stop offset="0.0895" stop-color="#728faa"/><stop offset="0.0947" stop-color="#708da9"/><stop offset="0.1000" stop-color="#6e8ca8"/><stop offset="0.1053" stop-color="#6d8aa6"/><stop offset="0.1105" stop-color="#6b89a5"/><stop offset="0.1158" stop-color="#6987a4"/><stop offset="0.1211" stop-color="#6886a3"/><stop offset="0.1263" stop-color="#6684a1"/><stop offset="0.1316" stop-color="#6583a0"/><stop offset="0.1368" stop-color="#6482a0"/><stop offset="0.1421" stop-color="#63819f"/><stop offset="0.1474" stop-color="#62809e"/><stop offset="0.1526" stop-color="#617f9d"/><stop offset="0.1579" stop-color="#607e9c"/><stop offset="0.1632" stop-color="#5f7d9c"/><stop offset="0.1684" stop-color="#5e7d9b"/><stop offset="0.1737" stop-color="#5d7c9a"/><stop offset="0.1789" stop-color="#5c7b99"/><stop offset="0.1842" stop-color="#5b7a98"/><stop offset="0.1895" stop-color="#5a7998"/><stop offset="0.1947" stop-color="#597897"/><stop offset="0.2000" stop-color="#587796"/><stop offset="0.2053" stop-color="#577695"/><stop offset="0.2105" stop-color="#567594"/><stop offset="0.2158" stop-color="#547494"/><stop offset="0.2211" stop-color="#537393"/><stop offset="0.2263" stop-color="#527292"/><stop offset="0.2316" stop-color="#517191"/><stop offset="0.2368" stop-color="#507090"/><stop offset="0.2421" stop-color="#4f6f8f"/><stop offset="0.2474" stop-color="#4f6f8f"/><stop offset="0.2526" stop-color="#4e6e8e"/><stop offset="0.2579" stop-color="#4d6d8d"/><stop offset="0.2632" stop-color="#4c6c8c"/><stop offset="0.2684" stop-color="#4b6b8b"/><stop offset="0.2737" stop-color="#4a6a8a"/><stop offset="0.2789" stop-color="#496989"/><stop offset="0.2842" stop-color="#486888"/><stop offset="0.2895" stop-color="#486788"/><stop offset="0.2947" stop-color="#476687"/><stop offset="0.3000" stop-color="#466586"/><stop offset="0.3053" stop-color="#456485"/><stop offset="0.3105" stop-color="#446484"/><stop offset="0.3158" stop-color="#436383"/><stop offset="0.3211" stop-color="#426282"/><stop offset="0.3263" stop-color="#416081"/><stop offset="0.3316" stop-color="#405f80"/><stop offset="0.3368" stop-color="#3e5d7e"/><stop offset="0.3421" stop-color="#3c5a7c"/><stop offset="0.3474" stop-color="#395879"/><stop offset="0.3526" stop-color="#365576"/><stop offset="0.3579" stop-color="#335273"/><stop offset="0.3632" stop-color="#315071"/><stop offset="0.3684" stop-color="#304f70"/><stop offset="0.3737" stop-color="#304f70"/><stop offset="0.3789" stop-color="#314f71"/><stop offset="0.3842" stop-color="#315071"/><stop offset="0.3895" stop-color="#314f71"/><stop offset="0.3947" stop-color="#304e70"/><stop offset="0.4000" stop-color="#2e4c6e"/><stop offset="0.4053" stop-color="#2b496b"/><stop offset="0.4105" stop-color="#284668"/><stop offset="0.4158" stop-color="#274566"/><stop offset="0.4211" stop-color="#264465"/><stop offset="0.4263" stop-color="#264466"/><stop offset="0.4316" stop-color="#274567"/><stop offset="0.4368" stop-color="#284668"/><stop offset="0.4421" stop-color="#284668"/><stop offset="0.4474" stop-color="#284567"/><stop offset="0.4526" stop-color="#264465"/><stop offset="0.4579" stop-color="#254263"/><stop offset="0.4632" stop-color="#234061"/><stop offset="0.4684" stop-color="#223e5f"/><stop offset="0.4737" stop-color="#223e5f"/><stop offset="0.4789" stop-color="#233f60"/><stop offset="0.4842" stop-color="#244062"/><stop offset="0.4895" stop-color="#254263"/><stop offset="0.4947" stop-color="#254263"/><stop offset="0.5000" stop-color="#244163"/><stop offset="0.5053" stop-color="#234061"/><stop offset="0.5105" stop-color="#223e5f"/><stop offset="0.5158" stop-color="#203c5d"/><stop offset="0.5211" stop-color="#203b5c"/><stop offset="0.5263" stop-color="#203b5c"/><stop offset="0.5316" stop-color="#203c5d"/><stop offset="0.5368" stop-color="#213e5e"/><stop offset="0.5421" stop-color="#223f5f"/><stop offset="0.5474" stop-color="#223f5f"/><stop offset="0.5526" stop-color="#213e5e"/><stop offset="0.5579" stop-color="#1f3b5b"/><stop offset="0.5632" stop-color="#1c3756"/><stop offset="0.5684" stop-color="#183150"/><stop offset="0.5737" stop-color="#132b49"/><stop offset="0.5789" stop-color="#0e2541"/><stop offset="0.5842" stop-color="#0b203a"/><stop offset="0.5895" stop-color="#0a1d35"/><stop offset="0.5947" stop-color="#091b33"/><stop offset="0.6000" stop-color="#091b33"/><stop offset="0.6053" stop-color="#0a1d35"/><stop offset="0.6105" stop-color="#0b203b"/><stop offset="0.6158" stop-color="#0f2642"/><stop offset="0.6211" stop-color="#152d4b"/><stop offset="0.6263" stop-color="#1b3555"/><stop offset="0.6316" stop-color="#213d5e"/><stop offset="0.6368" stop-color="#274466"/><stop offset="0.6421" stop-color="#2c4a6c"/><stop offset="0.6474" stop-color="#314f71"/><stop offset="0.6526" stop-color="#335273"/><stop offset="0.6579" stop-color="#345374"/><stop offset="0.6632" stop-color="#335273"/><stop offset="0.6684" stop-color="#304e70"/><stop offset="0.6737" stop-color="#2a486a"/><stop offset="0.6789" stop-color="#244163"/><stop offset="0.6842" stop-color="#1e3959"/><stop offset="0.6895" stop-color="#17304f"/><stop offset="0.6947" stop-color="#102744"/><stop offset="0.7000" stop-color="#0b1f39"/><stop offset="0.7053" stop-color="#081a30"/><stop offset="0.7105" stop-color="#06162a"/><stop offset="0.7158" stop-color="#051427"/><stop offset="0.7211" stop-color="#051427"/><stop offset="0.7263" stop-color="#07162b"/><stop offset="0.7316" stop-color="#091b33"/><stop offset="0.7368" stop-color="#0c223d"/><stop offset="0.7421" stop-color="#142c4a"/><stop offset="0.7474" stop-color="#1d3858"/><stop offset="0.7526" stop-color="#274466"/><stop offset="0.7579" stop-color="#335173"/><stop offset="0.7632" stop-color="#3e5d7e"/><stop offset="0.7684" stop-color="#486888"/><stop offset="0.7737" stop-color="#517191"/><stop offset="0.7789" stop-color="#597897"/><stop offset="0.7842" stop-color="#5f7d9c"/><stop offset="0.7895" stop-color="#63829f"/><stop offset="0.7947" stop-color="#6785a2"/><stop offset="0.8000" stop-color="#6987a3"/><stop offset="0.8053" stop-color="#6987a4"/><stop offset="0.8105" stop-color="#6987a3"/><stop offset="0.8158" stop-color="#6785a2"/><stop offset="0.8211" stop-color="#6483a0"/><stop offset="0.8263" stop-color="#617f9d"/><stop offset="0.8316" stop-color="#5b7a99"/><stop offset="0.8368" stop-color="#557494"/><stop offset="0.8421" stop-color="#4d6d8d"/><stop offset="0.8474" stop-color="#456485"/><stop offset="0.8526" stop-color="#3b5a7b"/><stop offset="0.8579" stop-color="#314f71"/><stop offset="0.8632" stop-color="#264466"/><stop offset="0.8684" stop-color="#1f3a5a"/><stop offset="0.8737" stop-color="#17304e"/><stop offset="0.8789" stop-color="#102744"/><stop offset="0.8842" stop-color="#0b203b"/><stop offset="0.8895" stop-color="#091c34"/><stop offset="0.8947" stop-color="#081930"/><stop offset="0.9000" stop-color="#08182e"/><stop offset="0.9053" stop-color="#081930"/><stop offset="0.9105" stop-color="#091c34"/><stop offset="0.9158" stop-color="#0b203c"/><stop offset="0.9211" stop-color="#112845"/><stop offset="0.9263" stop-color="#183250"/><stop offset="0.9316" stop-color="#213c5d"/><stop offset="0.9368" stop-color="#2a486a"/><stop offset="0.9421" stop-color="#365576"/><stop offset="0.9474" stop-color="#426282"/><stop offset="0.9526" stop-color="#4d6d8d"/><stop offset="0.9579" stop-color="#597897"/><stop offset="0.9632" stop-color="#63819f"/><stop offset="0.9684" stop-color="#6b89a5"/><stop offset="0.9737" stop-color="#7390ab"/><stop offset="0.9789" stop-color="#7895b0"/><stop offset="0.9842" stop-color="#7d99b3"/><stop offset="0.9895" stop-color="#819db6"/><stop offset="0.9947" stop-color="#849fb8"/><stop offset="1.0000" stop-color="#86a1ba"/></linearGradient><linearGradient id="hlg2" x1="0" y1="0" x2="1" y2="0"><stop offset="0" stop-color="#f4f8fb" stop-opacity="0.6"/><stop offset="0.2" stop-color="#f4f8fb" stop-opacity="0"/><stop offset="0.8" stop-color="#f4f8fb" stop-opacity="0"/><stop offset="1" stop-color="#f4f8fb" stop-opacity="0.6"/></linearGradient><clipPath id="clg2"><rect x="416.00" y="187.80" width="26.60" height="95.40"/></clipPath></defs>
<rect x="416.00" y="187.80" width="26.60" height="95.40" fill="url(#lg2)"/>
<rect x="416.00" y="187.80" width="26.60" height="95.40" fill="url(#hlg2)"/>
<defs><linearGradient id="lg3" x1="0" y1="0" x2="0" y2="1"><stop offset="0.0000" stop-color="#a9bfd1"/><stop offset="0.0053" stop-color="#a9bfd1"/><stop offset="0.0105" stop-color="#a9bfd1"/><stop offset="0.0158" stop-color="#a8bfd1"/><stop offset="0.0211" stop-color="#a8bfd0"/><stop offset="0.0263" stop-color="#a8bfd0"/><stop offset="0.0316" stop-color="#a8bed0"/><stop offset="0.0368" stop-color="#a8bed0"/><stop offset="0.0421" stop-color="#a8bed0"/><stop offset="0.0474" stop-color="#a7bed0"/><stop offset="0.0526" stop-color="#a7bed0"/><stop offset="0.0579" stop-color="#a7bed0"/><stop offset="0.0632" stop-color="#a7bdcf"/><stop offset="0.0684" stop-color="#a7bdcf"/><stop offset="0.0737" stop-color="#a6bdcf"/><stop offset="0.0789" stop-color="#a6bdcf"/><stop offset="0.0842" stop-color="#a6bdcf"/><stop offset="0.0895" stop-color="#a6bdcf"/><stop offset="0.0947" stop-color="#a6bdcf"/><stop offset="0.1000" stop-color="#a6bccf"/><stop offset="0.1053" stop-color="#a5bccf"/><stop offset="0.1105" stop-color="#a5bcce"/><stop offset="0.1158" stop-color="#a5bcce"/><stop offset="0.1211" stop-color="#a5bcce"/><stop offset="0.1263" stop-color="#a5bcce"/><stop offset="0.1316" stop-color="#a4bbce"/><stop offset="0.1368" stop-color="#a4bbce"/><stop offset="0.1421" stop-color="#a4bbce"/><stop offset="0.1474" stop-color="#a4bbce"/><stop offset="0.1526" stop-color="#a4bbcd"/><stop offset="0.1579" stop-color="#a4bbcd"/><stop offset="0.1632" stop-color="#a3bbcd"/><stop offset="0.1684" stop-color="#a3bacd"/><stop offset="0.1737" stop-color="#a3bacd"/><stop offset="0.1789" stop-color="#a3bacd"/><stop offset="0.1842" stop-color="#a2bacc"/><stop offset="0.1895" stop-color="#a1b9cc"/><stop offset="0.1947" stop-color="#a0b8cb"/><stop offset="0.2000" stop-color="#9fb7cb"/><stop offset="0.2053" stop-color="#9fb6ca"/><stop offset="0.2105" stop-color="#9eb6c9"/><stop offset="0.2158" stop-color="#9db5c9"/><stop offset="0.2211" stop-color="#9cb4c8"/><stop offset="0.2263" stop-color="#9bb3c7"/><stop offset="0.2316" stop-color="#9ab2c7"/><stop offset="0.2368" stop-color="#99b2c6"/><stop offset="0.2421" stop-color="#98b1c6"/><stop offset="0.2474" stop-color="#97b0c5"/><stop offset="0.2526" stop-color="#96afc4"/><stop offset="0.2579" stop-color="#95aec4"/><stop offset="0.2632" stop-color="#94adc3"/><stop offset="0.2684" stop-color="#93acc2"/><stop offset="0.2737" stop-color="#91aac1"/><stop offset="0.2789" stop-color="#8fa8bf"/><stop offset="0.2842" stop-color="#8ca6bd"/><stop offset="0.2895" stop-color="#88a3bb"/><stop offset="0.2947" stop-color="#839fb8"/><stop offset="0.3000" stop-color="#7f9bb5"/><stop offset="0.3053" stop-color="#7b97b1"/><stop offset="0.3105" stop-color="#7794af"/><stop offset="0.3158" stop-color="#7592ad"/><stop offset="0.3211" stop-color="#7591ad"/><stop offset="0.3263" stop-color="#7592ad"/><stop offset="0.3316" stop-color="#7692ad"/><stop offset="0.3368" stop-color="#7693ae"/><stop offset="0.3421" stop-color="#7692ad"/><stop offset="0.3474" stop-color="#7491ac"/><stop offset="0.3526" stop-color="#708da9"/><stop offset="0.3579" stop-color="#6b88a5"/><stop offset="0.3632" stop-color="#6482a0"/><stop offset="0.3684" stop-color="#5d7c9a"/><stop offset="0.3737" stop-color="#567695"/><stop offset="0.3789" stop-color="#507090"/><stop offset="0.3842" stop-color="#4d6d8d"/><stop offset="0.3895" stop-color="#4b6a8b"/><stop offset="0.3947" stop-color="#4a6a8a"/><stop offset="0.4000" stop-color="#496989"/><stop offset="0.4053" stop-color="#486888"/><stop offset="0.4105" stop-color="#466586"/><stop offset="0.4158" stop-color="#426182"/><stop offset="0.4211" stop-color="#3e5d7e"/><stop offset="0.4263" stop-color="#395879"/><stop offset="0.4316" stop-color="#365476"/><stop offset="0.4368" stop-color="#345374"/><stop offset="0.4421" stop-color="#345374"/><stop offset="0.4474" stop-color="#365476"/><stop offset="0.4526" stop-color="#385778"/><stop offset="0.4579" stop-color="#395879"/><stop offset="0.4632" stop-color="#395879"/><stop offset="0.4684" stop-color="#365576"/><stop offset="0.4737" stop-color="#325072"/><stop offset="0.4789" stop-color="#2c4a6c"/><stop offset="0.4842" stop-color="#274466"/><stop offset="0.4895" stop-color="#234061"/><stop offset="0.4947" stop-color="#213e5e"/><stop offset="0.5000" stop-color="#213e5e"/><stop offset="0.5053" stop-color="#244061"/><stop offset="0.5105" stop-color="#274567"/><stop offset="0.5158" stop-color="#2e4c6e"/><stop offset="0.5211" stop-color="#355475"/><stop offset="0.5263" stop-color="#3c5b7c"/><stop offset="0.5316" stop-color="#416181"/><stop offset="0.5368" stop-color="#446484"/><stop offset="0.5421" stop-color="#456485"/><stop offset="0.5474" stop-color="#436283"/><stop offset="0.5526" stop-color="#3f5e7f"/><stop offset="0.5579" stop-color="#395879"/><stop offset="0.5632" stop-color="#315071"/><stop offset="0.5684" stop-color="#284668"/><stop offset="0.5737" stop-color="#213d5e"/><stop offset="0.5789" stop-color="#1a3454"/><stop offset="0.5842" stop-color="#142d4b"/><stop offset="0.5895" stop-color="#102744"/><stop offset="0.5947" stop-color="#0d2340"/><stop offset="0.6000" stop-color="#0d233f"/><stop offset="0.6053" stop-color="#0e2542"/><stop offset="0.6105" stop-color="#122a48"/><stop offset="0.6158" stop-color="#183250"/><stop offset="0.6211" stop-color="#1f3a5a"/><stop offset="0.6263" stop-color="#264465"/><stop offset="0.6316" stop-color="#304e70"/><stop offset="0.6368" stop-color="#395879"/><stop offset="0.6421" stop-color="#416081"/><stop offset="0.6474" stop-color="#466686"/><stop offset="0.6526" stop-color="#4a698a"/><stop offset="0.6579" stop-color="#4a6a8a"/><stop offset="0.6632" stop-color="#496889"/><stop offset="0.6684" stop-color="#446484"/><stop offset="0.6737" stop-color="#3e5d7e"/><stop offset="0.6789" stop-color="#355475"/><stop offset="0.6842" stop-color="#2b496b"/><stop offset="0.6895" stop-color="#223f5f"/><stop offset="0.6947" stop-color="#1a3453"/><stop offset="0.7000" stop-color="#132a48"/><stop offset="0.7053" stop-color="#0c223e"/><stop offset="0.7105" stop-color="#0a1d36"/><stop offset="0.7158" stop-color="#091b32"/><stop offset="0.7211" stop-color="#081a31"/><stop offset="0.7263" stop-color="#091c34"/><stop offset="0.7316" stop-color="#0b203b"/><stop offset="0.7368" stop-color="#102744"/><stop offset="0.7421" stop-color="#183150"/><stop offset="0.7474" stop-color="#203c5c"/><stop offset="0.7526" stop-color="#294769"/><stop offset="0.7579" stop-color="#355475"/><stop offset="0.7632" stop-color="#406080"/><stop offset="0.7684" stop-color="#4a6a8a"/><stop offset="0.7737" stop-color="#527292"/><stop offset="0.7789" stop-color="#5a7998"/><stop offset="0.7842" stop-color="#607e9c"/><stop offset="0.7895" stop-color="#6483a0"/><stop offset="0.7947" stop-color="#6886a2"/><stop offset="0.8000" stop-color="#6a88a4"/><stop offset="0.8053" stop-color="#6b89a5"/><stop offset="0.8105" stop-color="#6c8aa6"/><stop offset="0.8158" stop-color="#6c8aa6"/><stop offset="0.8211" stop-color="#6c8aa6"/><stop offset="0.8263" stop-color="#6b89a5"/><stop offset="0.8316" stop-color="#6987a4"/><stop offset="0.8368" stop-color="#6785a2"/><stop offset="0.8421" stop-color="#63829f"/><stop offset="0.8474" stop-color="#5f7d9c"/><stop offset="0.8526" stop-color="#597897"/><stop offset="0.8579" stop-color="#527291"/><stop offset="0.8632" stop-color="#4b6a8b"/><stop offset="0.8684" stop-color="#436283"/><stop offset="0.8737" stop-color="#3a597a"/><stop offset="0.8789" stop-color="#325072"/><stop offset="0.8842" stop-color="#294769"/><stop offset="0.8895" stop-color="#244062"/><stop offset="0.8947" stop-color="#1f3b5b"/><stop offset="0.9000" stop-color="#1c3756"/><stop offset="0.9053" stop-color="#1a3554"/><stop offset="0.9105" stop-color="#1a3453"/><stop offset="0.9158" stop-color="#1c3656"/><stop offset="0.9211" stop-color="#1f3a5a"/><stop offset="0.9263" stop-color="#234061"/><stop offset="0.9316" stop-color="#294769"/><stop offset="0.9368" stop-color="#325072"/><stop offset="0.9421" stop-color="#3b5a7b"/><stop offset="0.9474" stop-color="#456485"/><stop offset="0.9526" stop-color="#4e6e8e"/><stop offset="0.9579" stop-color="#587796"/><stop offset="0.9632" stop-color="#617f9d"/><stop offset="0.9684" stop-color="#6886a3"/><stop offset="0.9737" stop-color="#6f8ca8"/><stop offset="0.9789" stop-color="#7491ac"/><stop offset="0.9842" stop-color="#7995b0"/><stop offset="0.9895" stop-color="#7c98b2"/><stop offset="0.9947" stop-color="#7f9bb4"/><stop offset="1.0000" stop-color="#819cb6"/></linearGradient><linearGradient id="hlg3" x1="0" y1="0" x2="1" y2="0"><stop offset="0" stop-color="#f4f8fb" stop-opacity="0.6"/><stop offset="0.2" stop-color="#f4f8fb" stop-opacity="0"/><stop offset="0.8" stop-color="#f4f8fb" stop-opacity="0"/><stop offset="1" stop-color="#f4f8fb" stop-opacity="0.6"/></linearGradient><clipPath id="clg3"><rect x="445.20" y="187.80" width="27.80" height="95.40"/></clipPath></defs>
<rect x="445.20" y="187.80" width="27.80" height="95.40" fill="url(#lg3)"/>
<rect x="445.20" y="187.80" width="27.80" height="95.40" fill="url(#hlg3)"/>
<text x="367.40" y="247.78" font-size="8.6" text-anchor="middle" font-weight="normal" fill="#1c1c1c" stroke="#1c1c1c" stroke-width="0.3">T</text>
<line x1="373.20" y1="244.70" x2="383.30" y2="244.70" stroke="#222" stroke-width="1.0"/>
<text x="367.40" y="259.28" font-size="8.6" text-anchor="middle" font-weight="normal" fill="#1c1c1c" stroke="#1c1c1c" stroke-width="0.3">D</text>
<line x1="373.20" y1="256.20" x2="383.30" y2="256.20" stroke="#222" stroke-width="1.0"/>
<text x="367.40" y="276.28" font-size="8.6" text-anchor="middle" font-weight="normal" fill="#1c1c1c" stroke="#1c1c1c" stroke-width="0.3">M</text>
<line x1="373.20" y1="273.20" x2="383.30" y2="273.20" stroke="#222" stroke-width="1.0"/>
<text x="400.40" y="296.30" font-size="8.0" text-anchor="middle" font-weight="normal" fill="#1c1c1c" stroke="#1c1c1c" stroke-width="0.3">R1</text>
<text x="426.90" y="296.30" font-size="8.0" text-anchor="middle" font-weight="normal" fill="#1c1c1c" stroke="#1c1c1c" stroke-width="0.3">R2</text>
<text x="452.30" y="296.30" font-size="8.0" text-anchor="middle" font-weight="normal" fill="#1c1c1c" stroke="#1c1c1c" stroke-width="0.3">R3</text>
<text x="13.25" y="340.70" font-size="12" text-anchor="middle" font-weight="bold" fill="#000">G</text>
<text x="72.00" y="339.00" font-size="8.5" text-anchor="middle" font-weight="normal" fill="#1c1c1c" stroke="#1c1c1c" stroke-width="0.3" textLength="52.50" lengthAdjust="spacingAndGlyphs">FN3 fragment</text>
<rect x="29.50" y="349.00" width="86.00" height="96.00" fill="#e8f0f5"/>
<defs><linearGradient id="lg4" x1="0" y1="0" x2="0" y2="1"><stop offset="0.0000" stop-color="#bed0de"/><stop offset="0.0053" stop-color="#a7bdcf"/><stop offset="0.0106" stop-color="#9fb6ca"/><stop offset="0.0160" stop-color="#b2c7d7"/><stop offset="0.0213" stop-color="#c4d4e1"/><stop offset="0.0266" stop-color="#cedce7"/><stop offset="0.0319" stop-color="#cedce7"/><stop offset="0.0372" stop-color="#cddce7"/><stop offset="0.0426" stop-color="#cddbe7"/><stop offset="0.0479" stop-color="#cddbe6"/><stop offset="0.0532" stop-color="#cddbe6"/><stop offset="0.0585" stop-color="#cddbe6"/><stop offset="0.0638" stop-color="#ccdbe6"/><stop offset="0.0691" stop-color="#ccdbe6"/><stop offset="0.0745" stop-color="#ccdae6"/><stop offset="0.0798" stop-color="#ccdae6"/><stop offset="0.0851" stop-color="#ccdae6"/><stop offset="0.0904" stop-color="#cbdae5"/><stop offset="0.0957" stop-color="#cbdae5"/><stop offset="0.1011" stop-color="#cbdae5"/><stop offset="0.1064" stop-color="#cbdae5"/><stop offset="0.1117" stop-color="#cbd9e5"/><stop offset="0.1170" stop-color="#cad9e5"/><stop offset="0.1223" stop-color="#cad9e5"/><stop offset="0.1277" stop-color="#cad9e5"/><stop offset="0.1330" stop-color="#cad9e4"/><stop offset="0.1383" stop-color="#cad9e4"/><stop offset="0.1436" stop-color="#c9d8e4"/><stop offset="0.1489" stop-color="#c9d8e4"/><stop offset="0.1543" stop-color="#c9d8e4"/><stop offset="0.1596" stop-color="#c8d8e4"/><stop offset="0.1649" stop-color="#c7d7e3"/><stop offset="0.1702" stop-color="#c6d6e2"/><stop offset="0.1755" stop-color="#c5d5e2"/><stop offset="0.1809" stop-color="#c4d4e1"/><stop offset="0.1862" stop-color="#c3d3e0"/><stop offset="0.1915" stop-color="#c2d2e0"/><stop offset="0.1968" stop-color="#c0d2df"/><stop offset="0.2021" stop-color="#bfd1de"/><stop offset="0.2074" stop-color="#bed0de"/><stop offset="0.2128" stop-color="#bdcfdd"/><stop offset="0.2181" stop-color="#bccedc"/><stop offset="0.2234" stop-color="#bbcddc"/><stop offset="0.2287" stop-color="#baccdb"/><stop offset="0.2340" stop-color="#b8ccda"/><stop offset="0.2394" stop-color="#b7cbda"/><stop offset="0.2447" stop-color="#b6cad9"/><stop offset="0.2500" stop-color="#b5c9d8"/><stop offset="0.2553" stop-color="#b4c8d8"/><stop offset="0.2606" stop-color="#b3c7d7"/><stop offset="0.2660" stop-color="#b2c6d6"/><stop offset="0.2713" stop-color="#b1c5d6"/><stop offset="0.2766" stop-color="#afc5d5"/><stop offset="0.2819" stop-color="#aec4d4"/><stop offset="0.2872" stop-color="#adc3d4"/><stop offset="0.2926" stop-color="#acc2d3"/><stop offset="0.2979" stop-color="#abc1d2"/><stop offset="0.3032" stop-color="#a9c0d1"/><stop offset="0.3085" stop-color="#a8bfd0"/><stop offset="0.3138" stop-color="#a7bdcf"/><stop offset="0.3191" stop-color="#a5bcce"/><stop offset="0.3245" stop-color="#a4bbcd"/><stop offset="0.3298" stop-color="#a2b9cc"/><stop offset="0.3351" stop-color="#a1b8cb"/><stop offset="0.3404" stop-color="#9fb7ca"/><stop offset="0.3457" stop-color="#9eb5c9"/><stop offset="0.3511" stop-color="#9cb4c8"/><stop offset="0.3564" stop-color="#9bb3c7"/><stop offset="0.3617" stop-color="#99b1c6"/><stop offset="0.3670" stop-color="#97b0c5"/><stop offset="0.3723" stop-color="#96afc4"/><stop offset="0.3777" stop-color="#94adc3"/><stop offset="0.3830" stop-color="#93acc2"/><stop offset="0.3883" stop-color="#91abc1"/><stop offset="0.3936" stop-color="#90a9c0"/><stop offset="0.3989" stop-color="#8ea8bf"/><stop offset="0.4043" stop-color="#8da7be"/><stop offset="0.4096" stop-color="#8ba5bd"/><stop offset="0.4149" stop-color="#8aa4bc"/><stop offset="0.4202" stop-color="#88a3bb"/><stop offset="0.4255" stop-color="#87a1ba"/><stop offset="0.4309" stop-color="#85a0b9"/><stop offset="0.4362" stop-color="#849fb8"/><stop offset="0.4415" stop-color="#829db7"/><stop offset="0.4468" stop-color="#809cb6"/><stop offset="0.4521" stop-color="#7f9bb5"/><stop offset="0.4574" stop-color="#7d99b4"/><stop offset="0.4628" stop-color="#7c98b2"/><stop offset="0.4681" stop-color="#7a97b1"/><stop offset="0.4734" stop-color="#7995b0"/><stop offset="0.4787" stop-color="#7894af"/><stop offset="0.4840" stop-color="#7793ae"/><stop offset="0.4894" stop-color="#7693ae"/><stop offset="0.4947" stop-color="#7592ad"/><stop offset="0.5000" stop-color="#7491ac"/><stop offset="0.5053" stop-color="#7390ac"/><stop offset="0.5106" stop-color="#7390ab"/><stop offset="0.5160" stop-color="#728faa"/><stop offset="0.5213" stop-color="#718eaa"/><stop offset="0.5266" stop-color="#708da9"/><stop offset="0.5319" stop-color="#6f8ca8"/><stop offset="0.5372" stop-color="#6e8ba7"/><stop offset="0.5426" stop-color="#6d8aa6"/><stop offset="0.5479" stop-color="#6b89a5"/><stop offset="0.5532" stop-color="#6987a4"/><stop offset="0.5585" stop-color="#6785a2"/><stop offset="0.5638" stop-color="#6482a0"/><stop offset="0.5691" stop-color="#617f9d"/><stop offset="0.5745" stop-color="#5d7c9a"/><stop offset="0.5798" stop-color="#597897"/><stop offset="0.5851" stop-color="#557594"/><stop offset="0.5904" stop-color="#527291"/><stop offset="0.5957" stop-color="#4f6f8f"/><stop offset="0.6011" stop-color="#4d6d8d"/><stop offset="0.6064" stop-color="#4c6c8c"/><stop offset="0.6117" stop-color="#4c6c8c"/><stop offset="0.6170" stop-color="#4d6c8d"/><stop offset="0.6223" stop-color="#4e6e8e"/><stop offset="0.6277" stop-color="#507090"/><stop offset="0.6330" stop-color="#527291"/><stop offset="0.6383" stop-color="#547393"/><stop offset="0.6436" stop-color="#567594"/><stop offset="0.6489" stop-color="#577695"/><stop offset="0.6543" stop-color="#577796"/><stop offset="0.6596" stop-color="#577695"/><stop offset="0.6649" stop-color="#557494"/><stop offset="0.6702" stop-color="#527292"/><stop offset="0.6755" stop-color="#4e6e8e"/><stop offset="0.6809" stop-color="#4a6a8a"/><stop offset="0.6862" stop-color="#456585"/><stop offset="0.6915" stop-color="#405f80"/><stop offset="0.6968" stop-color="#3a597a"/><stop offset="0.7021" stop-color="#345374"/><stop offset="0.7074" stop-color="#2f4d6f"/><stop offset="0.7128" stop-color="#2a486a"/><stop offset="0.7181" stop-color="#274567"/><stop offset="0.7234" stop-color="#264365"/><stop offset="0.7287" stop-color="#264365"/><stop offset="0.7340" stop-color="#274567"/><stop offset="0.7394" stop-color="#2a486a"/><stop offset="0.7447" stop-color="#2e4d6e"/><stop offset="0.7500" stop-color="#335273"/><stop offset="0.7553" stop-color="#395879"/><stop offset="0.7606" stop-color="#3e5d7e"/><stop offset="0.7660" stop-color="#436383"/><stop offset="0.7713" stop-color="#486888"/><stop offset="0.7766" stop-color="#4c6b8c"/><stop offset="0.7819" stop-color="#4e6e8e"/><stop offset="0.7872" stop-color="#507090"/><stop offset="0.7926" stop-color="#527191"/><stop offset="0.7979" stop-color="#527292"/><stop offset="0.8032" stop-color="#527191"/><stop offset="0.8085" stop-color="#507090"/><stop offset="0.8138" stop-color="#4e6e8e"/><stop offset="0.8191" stop-color="#4b6b8b"/><stop offset="0.8245" stop-color="#476687"/><stop offset="0.8298" stop-color="#416181"/><stop offset="0.8351" stop-color="#3a597a"/><stop offset="0.8404" stop-color="#325172"/><stop offset="0.8457" stop-color="#284668"/><stop offset="0.8511" stop-color="#203c5d"/><stop offset="0.8564" stop-color="#17314f"/><stop offset="0.8617" stop-color="#0e2440"/><stop offset="0.8670" stop-color="#081a31"/><stop offset="0.8723" stop-color="#030f20"/><stop offset="0.8777" stop-color="#000814"/><stop offset="0.8830" stop-color="#000814"/><stop offset="0.8883" stop-color="#000814"/><stop offset="0.8936" stop-color="#000814"/><stop offset="0.8989" stop-color="#000814"/><stop offset="0.9043" stop-color="#000814"/><stop offset="0.9096" stop-color="#000814"/><stop offset="0.9149" stop-color="#000814"/><stop offset="0.9202" stop-color="#000814"/><stop offset="0.9255" stop-color="#000814"/><stop offset="0.9309" stop-color="#000814"/><stop offset="0.9362" stop-color="#000814"/><stop offset="0.9415" stop-color="#000814"/><stop offset="0.9468" stop-color="#000814"/><stop offset="0.9521" stop-color="#000814"/><stop offset="0.9574" stop-color="#051325"/><stop offset="0.9628" stop-color="#0a1e38"/><stop offset="0.9681" stop-color="#142c4a"/><stop offset="0.9734" stop-color="#1f3b5b"/><stop offset="0.9787" stop-color="#2b496b"/><stop offset="0.9840" stop-color="#385778"/><stop offset="0.9894" stop-color="#446484"/><stop offset="0.9947" stop-color="#4f6f8f"/><stop offset="1.0000" stop-color="#597897"/></linearGradient><linearGradient id="hlg4" x1="0" y1="0" x2="1" y2="0"><stop offset="0" stop-color="#f4f8fb" stop-opacity="0.6"/><stop offset="0.2" stop-color="#f4f8fb" stop-opacity="0"/><stop offset="0.8" stop-color="#f4f8fb" stop-opacity="0"/><stop offset="1" stop-color="#f4f8fb" stop-opacity="0.6"/></linearGradient><clipPath id="clg4"><rect x="30.60" y="350.20" width="26.90" height="94.00"/></clipPath></defs>
<rect x="30.60" y="350.20" width="26.90" height="94.00" fill="url(#lg4)"/>
<rect x="30.60" y="350.20" width="26.90" height="94.00" fill="url(#hlg4)"/>
<defs><linearGradient id="lg5" x1="0" y1="0" x2="0" y2="1"><stop offset="0.0000" stop-color="#b9ccdb"/><stop offset="0.0053" stop-color="#507090"/><stop offset="0.0106" stop-color="#597897"/><stop offset="0.0160" stop-color="#7f9bb4"/><stop offset="0.0213" stop-color="#a5bcce"/><stop offset="0.0266" stop-color="#b9ccdb"/><stop offset="0.0319" stop-color="#b9ccdb"/><stop offset="0.0372" stop-color="#b9ccdb"/><stop offset="0.0426" stop-color="#b9ccdb"/><stop offset="0.0479" stop-color="#b9ccda"/><stop offset="0.0532" stop-color="#b9ccda"/><stop offset="0.0585" stop-color="#b8ccda"/><stop offset="0.0638" stop-color="#b8cbda"/><stop offset="0.0691" stop-color="#b8cbda"/><stop offset="0.0745" stop-color="#b8cbda"/><stop offset="0.0798" stop-color="#b8cbda"/><stop offset="0.0851" stop-color="#b8cbda"/><stop offset="0.0904" stop-color="#b8cbda"/><stop offset="0.0957" stop-color="#b8cbda"/><stop offset="0.1011" stop-color="#b8cbda"/><stop offset="0.1064" stop-color="#b8cbda"/><stop offset="0.1117" stop-color="#b8cbda"/><stop offset="0.1170" stop-color="#b7cbda"/><stop offset="0.1223" stop-color="#b7cbda"/><stop offset="0.1277" stop-color="#b7cbda"/><stop offset="0.1330" stop-color="#b7cbda"/><stop offset="0.1383" stop-color="#b7cad9"/><stop offset="0.1436" stop-color="#b7cad9"/><stop offset="0.1489" stop-color="#b7cad9"/><stop offset="0.1543" stop-color="#b7cad9"/><stop offset="0.1596" stop-color="#b7cad9"/><stop offset="0.1649" stop-color="#b7cad9"/><stop offset="0.1702" stop-color="#b6cad9"/><stop offset="0.1755" stop-color="#b6cad9"/><stop offset="0.1809" stop-color="#b6cad9"/><stop offset="0.1862" stop-color="#b6cad9"/><stop offset="0.1915" stop-color="#b6cad9"/><stop offset="0.1968" stop-color="#b6cad9"/><stop offset="0.2021" stop-color="#b6cad9"/><stop offset="0.2074" stop-color="#b6c9d9"/><stop offset="0.2128" stop-color="#b6c9d9"/><stop offset="0.2181" stop-color="#b6c9d9"/><stop offset="0.2234" stop-color="#b6c9d9"/><stop offset="0.2287" stop-color="#b5c9d9"/><stop offset="0.2340" stop-color="#b5c9d8"/><stop offset="0.2394" stop-color="#b5c9d8"/><stop offset="0.2447" stop-color="#b5c9d8"/><stop offset="0.2500" stop-color="#b5c9d8"/><stop offset="0.2553" stop-color="#b5c9d8"/><stop offset="0.2606" stop-color="#b5c9d8"/><stop offset="0.2660" stop-color="#b5c9d8"/><stop offset="0.2713" stop-color="#b5c9d8"/><stop offset="0.2766" stop-color="#b5c9d8"/><stop offset="0.2819" stop-color="#b4c8d8"/><stop offset="0.2872" stop-color="#b4c8d8"/><stop offset="0.2926" stop-color="#b4c8d8"/><stop offset="0.2979" stop-color="#b4c8d8"/><stop offset="0.3032" stop-color="#b4c8d8"/><stop offset="0.3085" stop-color="#b4c8d8"/><stop offset="0.3138" stop-color="#b4c8d8"/><stop offset="0.3191" stop-color="#b4c8d8"/><stop offset="0.3245" stop-color="#b3c8d7"/><stop offset="0.3298" stop-color="#b3c7d7"/><stop offset="0.3351" stop-color="#b3c7d7"/><stop offset="0.3404" stop-color="#b2c7d7"/><stop offset="0.3457" stop-color="#b2c6d6"/><stop offset="0.3511" stop-color="#b1c6d6"/><stop offset="0.3564" stop-color="#b1c6d6"/><stop offset="0.3617" stop-color="#b1c5d6"/><stop offset="0.3670" stop-color="#b0c5d5"/><stop offset="0.3723" stop-color="#b0c5d5"/><stop offset="0.3777" stop-color="#afc5d5"/><stop offset="0.3830" stop-color="#afc4d5"/><stop offset="0.3883" stop-color="#afc4d5"/><stop offset="0.3936" stop-color="#aec4d4"/><stop offset="0.3989" stop-color="#aec3d4"/><stop offset="0.4043" stop-color="#adc3d4"/><stop offset="0.4096" stop-color="#adc3d4"/><stop offset="0.4149" stop-color="#adc2d3"/><stop offset="0.4202" stop-color="#acc2d3"/><stop offset="0.4255" stop-color="#acc2d3"/><stop offset="0.4309" stop-color="#abc1d3"/><stop offset="0.4362" stop-color="#abc1d2"/><stop offset="0.4415" stop-color="#aac1d2"/><stop offset="0.4468" stop-color="#aac0d2"/><stop offset="0.4521" stop-color="#aac0d1"/><stop offset="0.4574" stop-color="#a9bfd1"/><stop offset="0.4628" stop-color="#a9bfd1"/><stop offset="0.4681" stop-color="#a8bfd0"/><stop offset="0.4734" stop-color="#a8bed0"/><stop offset="0.4787" stop-color="#a7bed0"/><stop offset="0.4840" stop-color="#a7bdcf"/><stop offset="0.4894" stop-color="#a6bdcf"/><stop offset="0.4947" stop-color="#a6bdcf"/><stop offset="0.5000" stop-color="#a5bccf"/><stop offset="0.5053" stop-color="#a5bcce"/><stop offset="0.5106" stop-color="#a4bbce"/><stop offset="0.5160" stop-color="#a4bbce"/><stop offset="0.5213" stop-color="#a4bbcd"/><stop offset="0.5266" stop-color="#a3bacd"/><stop offset="0.5319" stop-color="#a2bacd"/><stop offset="0.5372" stop-color="#a2b9cc"/><stop offset="0.5426" stop-color="#a1b8cc"/><stop offset="0.5479" stop-color="#a0b8cb"/><stop offset="0.5532" stop-color="#9fb7ca"/><stop offset="0.5585" stop-color="#9eb6c9"/><stop offset="0.5638" stop-color="#9cb4c8"/><stop offset="0.5691" stop-color="#9bb3c7"/><stop offset="0.5745" stop-color="#99b1c6"/><stop offset="0.5798" stop-color="#96afc4"/><stop offset="0.5851" stop-color="#94adc3"/><stop offset="0.5904" stop-color="#91abc1"/><stop offset="0.5957" stop-color="#8fa9bf"/><stop offset="0.6011" stop-color="#8da7be"/><stop offset="0.6064" stop-color="#8ca6be"/><stop offset="0.6117" stop-color="#8ca6bd"/><stop offset="0.6170" stop-color="#8da7be"/><stop offset="0.6223" stop-color="#8da7be"/><stop offset="0.6277" stop-color="#8ea8bf"/><stop offset="0.6330" stop-color="#90a9c0"/><stop offset="0.6383" stop-color="#90aac0"/><stop offset="0.6436" stop-color="#91aac1"/><stop offset="0.6489" stop-color="#90aac0"/><stop offset="0.6543" stop-color="#90aac0"/><stop offset="0.6596" stop-color="#8fa9bf"/><stop offset="0.6649" stop-color="#8da7be"/><stop offset="0.6702" stop-color="#8ba5bd"/><stop offset="0.6755" stop-color="#88a3bb"/><stop offset="0.6809" stop-color="#84a0b8"/><stop offset="0.6862" stop-color="#809cb6"/><stop offset="0.6915" stop-color="#7c98b2"/><stop offset="0.6968" stop-color="#7794af"/><stop offset="0.7021" stop-color="#728fab"/><stop offset="0.7074" stop-color="#6e8ba7"/><stop offset="0.7128" stop-color="#6a87a4"/><stop offset="0.7181" stop-color="#6785a2"/><stop offset="0.7234" stop-color="#6583a0"/><stop offset="0.7287" stop-color="#6483a0"/><stop offset="0.7340" stop-color="#6583a1"/><stop offset="0.7394" stop-color="#6785a2"/><stop offset="0.7447" stop-color="#6a88a5"/><stop offset="0.7500" stop-color="#6e8ba7"/><stop offset="0.7553" stop-color="#718eaa"/><stop offset="0.7606" stop-color="#7592ad"/><stop offset="0.7660" stop-color="#7894af"/><stop offset="0.7713" stop-color="#7a97b1"/><stop offset="0.7766" stop-color="#7c98b3"/><stop offset="0.7819" stop-color="#7d99b3"/><stop offset="0.7872" stop-color="#7e9ab4"/><stop offset="0.7926" stop-color="#7d99b3"/><stop offset="0.7979" stop-color="#7c98b3"/><stop offset="0.8032" stop-color="#7a97b1"/><stop offset="0.8085" stop-color="#7894af"/><stop offset="0.8138" stop-color="#7491ac"/><stop offset="0.8191" stop-color="#708da9"/><stop offset="0.8245" stop-color="#6a87a4"/><stop offset="0.8298" stop-color="#63819f"/><stop offset="0.8351" stop-color="#5a7998"/><stop offset="0.8404" stop-color="#507090"/><stop offset="0.8457" stop-color="#466586"/><stop offset="0.8511" stop-color="#3a597a"/><stop offset="0.8564" stop-color="#2c4a6c"/><stop offset="0.8617" stop-color="#203c5c"/><stop offset="0.8670" stop-color="#152d4b"/><stop offset="0.8723" stop-color="#0b1f3a"/><stop offset="0.8777" stop-color="#061427"/><stop offset="0.8830" stop-color="#000916"/><stop offset="0.8883" stop-color="#000814"/><stop offset="0.8936" stop-color="#000814"/><stop offset="0.8989" stop-color="#000814"/><stop offset="0.9043" stop-color="#000814"/><stop offset="0.9096" stop-color="#000814"/><stop offset="0.9149" stop-color="#000814"/><stop offset="0.9202" stop-color="#000814"/><stop offset="0.9255" stop-color="#000814"/><stop offset="0.9309" stop-color="#000814"/><stop offset="0.9362" stop-color="#000814"/><stop offset="0.9415" stop-color="#000814"/><stop offset="0.9468" stop-color="#010a18"/><stop offset="0.9521" stop-color="#06162a"/><stop offset="0.9574" stop-color="#0c213c"/><stop offset="0.9628" stop-color="#17304f"/><stop offset="0.9681" stop-color="#233f60"/><stop offset="0.9734" stop-color="#304e70"/><stop offset="0.9787" stop-color="#3e5d7e"/><stop offset="0.9840" stop-color="#4a6a8a"/><stop offset="0.9894" stop-color="#567594"/><stop offset="0.9947" stop-color="#607f9d"/><stop offset="1.0000" stop-color="#6987a3"/></linearGradient><linearGradient id="hlg5" x1="0" y1="0" x2="1" y2="0"><stop offset="0" stop-color="#f4f8fb" stop-opacity="0.6"/><stop offset="0.2" stop-color="#f4f8fb" stop-opacity="0"/><stop offset="0.8" stop-color="#f4f8fb" stop-opacity="0"/><stop offset="1" stop-color="#f4f8fb" stop-opacity="0.6"/></linearGradient><clipPath id="clg5"><rect x="59.40" y="350.20" width="26.60" height="94.00"/></clipPath></defs>
<rect x="59.40" y="350.20" width="26.60" height="94.00" fill="url(#lg5)"/>
<rect x="59.40" y="350.20" width="26.60" height="94.00" fill="url(#hlg5)"/>
<defs><linearGradient id="lg6" x1="0" y1="0" x2="0" y2="1"><stop offset="0.0000" stop-color="#cedce7"/><stop offset="0.0053" stop-color="#bacddb"/><stop offset="0.0106" stop-color="#b7cad9"/><stop offset="0.0160" stop-color="#ccdae6"/><stop offset="0.0213" stop-color="#d9e4ed"/><stop offset="0.0266" stop-color="#d9e4ed"/><stop offset="0.0319" stop-color="#d8e4ed"/><stop offset="0.0372" stop-color="#d8e4ec"/><stop offset="0.0426" stop-color="#d8e4ec"/><stop offset="0.0479" stop-color="#d8e4ec"/><stop offset="0.0532" stop-color="#d8e3ec"/><stop offset="0.0585" stop-color="#d8e3ec"/><stop offset="0.0638" stop-color="#d8e3ec"/><stop offset="0.0691" stop-color="#d8e3ec"/><stop offset="0.0745" stop-color="#d7e3ec"/><stop offset="0.0798" stop-color="#d7e3ec"/><stop offset="0.0851" stop-color="#d7e3ec"/><stop offset="0.0904" stop-color="#d7e3ec"/><stop offset="0.0957" stop-color="#d7e3ec"/><stop offset="0.1011" stop-color="#d7e3ec"/><stop offset="0.1064" stop-color="#d7e3ec"/><stop offset="0.1117" stop-color="#d7e2ec"/><stop offset="0.1170" stop-color="#d7e2ec"/><stop offset="0.1223" stop-color="#d6e2eb"/><stop offset="0.1277" stop-color="#d6e2eb"/><stop offset="0.1330" stop-color="#d6e2eb"/><stop offset="0.1383" stop-color="#d6e2eb"/><stop offset="0.1436" stop-color="#d6e2eb"/><stop offset="0.1489" stop-color="#d6e2eb"/><stop offset="0.1543" stop-color="#d6e2eb"/><stop offset="0.1596" stop-color="#d6e2eb"/><stop offset="0.1649" stop-color="#d5e2eb"/><stop offset="0.1702" stop-color="#d5e2eb"/><stop offset="0.1755" stop-color="#d5e1eb"/><stop offset="0.1809" stop-color="#d5e1eb"/><stop offset="0.1862" stop-color="#d5e1eb"/><stop offset="0.1915" stop-color="#d5e1eb"/><stop offset="0.1968" stop-color="#d5e1eb"/><stop offset="0.2021" stop-color="#d5e1eb"/><stop offset="0.2074" stop-color="#d5e1ea"/><stop offset="0.2128" stop-color="#d4e1ea"/><stop offset="0.2181" stop-color="#d4e1ea"/><stop offset="0.2234" stop-color="#d4e1ea"/><stop offset="0.2287" stop-color="#d4e1ea"/><stop offset="0.2340" stop-color="#d4e0ea"/><stop offset="0.2394" stop-color="#d4e0ea"/><stop offset="0.2447" stop-color="#d4e0ea"/><stop offset="0.2500" stop-color="#d4e0ea"/><stop offset="0.2553" stop-color="#d4e0ea"/><stop offset="0.2606" stop-color="#d3e0ea"/><stop offset="0.2660" stop-color="#d3e0ea"/><stop offset="0.2713" stop-color="#d2dfe9"/><stop offset="0.2766" stop-color="#d1dee9"/><stop offset="0.2819" stop-color="#d0dee8"/><stop offset="0.2872" stop-color="#cfdde8"/><stop offset="0.2926" stop-color="#cfdce7"/><stop offset="0.2979" stop-color="#cedce7"/><stop offset="0.3032" stop-color="#cddbe6"/><stop offset="0.3085" stop-color="#ccdae6"/><stop offset="0.3138" stop-color="#cbdae5"/><stop offset="0.3191" stop-color="#cad9e5"/><stop offset="0.3245" stop-color="#c9d8e4"/><stop offset="0.3298" stop-color="#c8d8e4"/><stop offset="0.3351" stop-color="#c8d7e3"/><stop offset="0.3404" stop-color="#c7d6e3"/><stop offset="0.3457" stop-color="#c6d6e2"/><stop offset="0.3511" stop-color="#c5d5e2"/><stop offset="0.3564" stop-color="#c4d4e1"/><stop offset="0.3617" stop-color="#c3d4e1"/><stop offset="0.3670" stop-color="#c2d3e0"/><stop offset="0.3723" stop-color="#c1d2e0"/><stop offset="0.3777" stop-color="#c1d2df"/><stop offset="0.3830" stop-color="#c0d1df"/><stop offset="0.3883" stop-color="#bfd0de"/><stop offset="0.3936" stop-color="#bed0de"/><stop offset="0.3989" stop-color="#bdcfdd"/><stop offset="0.4043" stop-color="#bccedd"/><stop offset="0.4096" stop-color="#bbcedc"/><stop offset="0.4149" stop-color="#bacddc"/><stop offset="0.4202" stop-color="#baccdb"/><stop offset="0.4255" stop-color="#b9ccda"/><stop offset="0.4309" stop-color="#b7cbda"/><stop offset="0.4362" stop-color="#b6cad9"/><stop offset="0.4415" stop-color="#b5c9d8"/><stop offset="0.4468" stop-color="#b4c8d8"/><stop offset="0.4521" stop-color="#b2c7d7"/><stop offset="0.4574" stop-color="#b1c6d6"/><stop offset="0.4628" stop-color="#b0c5d5"/><stop offset="0.4681" stop-color="#afc4d5"/><stop offset="0.4734" stop-color="#aec3d4"/><stop offset="0.4787" stop-color="#acc2d3"/><stop offset="0.4840" stop-color="#abc1d2"/><stop offset="0.4894" stop-color="#aac0d1"/><stop offset="0.4947" stop-color="#a8bfd0"/><stop offset="0.5000" stop-color="#a7bdcf"/><stop offset="0.5053" stop-color="#a5bcce"/><stop offset="0.5106" stop-color="#a4bbce"/><stop offset="0.5160" stop-color="#a2bacd"/><stop offset="0.5213" stop-color="#a1b8cc"/><stop offset="0.5266" stop-color="#a0b7cb"/><stop offset="0.5319" stop-color="#9eb6ca"/><stop offset="0.5372" stop-color="#9cb4c9"/><stop offset="0.5426" stop-color="#9bb3c7"/><stop offset="0.5479" stop-color="#99b1c6"/><stop offset="0.5532" stop-color="#97b0c5"/><stop offset="0.5585" stop-color="#94aec3"/><stop offset="0.5638" stop-color="#92abc1"/><stop offset="0.5691" stop-color="#8fa8bf"/><stop offset="0.5745" stop-color="#8ba5bd"/><stop offset="0.5798" stop-color="#87a2ba"/><stop offset="0.5851" stop-color="#839fb8"/><stop offset="0.5904" stop-color="#809cb5"/><stop offset="0.5957" stop-color="#7d99b3"/><stop offset="0.6011" stop-color="#7b97b2"/><stop offset="0.6064" stop-color="#7a96b0"/><stop offset="0.6117" stop-color="#7996b0"/><stop offset="0.6170" stop-color="#7a96b1"/><stop offset="0.6223" stop-color="#7b97b1"/><stop offset="0.6277" stop-color="#7c98b2"/><stop offset="0.6330" stop-color="#7d99b4"/><stop offset="0.6383" stop-color="#7e9ab4"/><stop offset="0.6436" stop-color="#7f9bb5"/><stop offset="0.6489" stop-color="#7f9bb5"/><stop offset="0.6543" stop-color="#7e9ab4"/><stop offset="0.6596" stop-color="#7d99b3"/><stop offset="0.6649" stop-color="#7b97b1"/><stop offset="0.6702" stop-color="#7894af"/><stop offset="0.6755" stop-color="#7491ac"/><stop offset="0.6809" stop-color="#6f8ca8"/><stop offset="0.6862" stop-color="#6987a4"/><stop offset="0.6915" stop-color="#63829f"/><stop offset="0.6968" stop-color="#5d7c9a"/><stop offset="0.7021" stop-color="#567695"/><stop offset="0.7074" stop-color="#507090"/><stop offset="0.7128" stop-color="#4c6b8c"/><stop offset="0.7181" stop-color="#486888"/><stop offset="0.7234" stop-color="#466586"/><stop offset="0.7287" stop-color="#456585"/><stop offset="0.7340" stop-color="#466586"/><stop offset="0.7394" stop-color="#486788"/><stop offset="0.7447" stop-color="#4b6b8b"/><stop offset="0.7500" stop-color="#507090"/><stop offset="0.7553" stop-color="#557594"/><stop offset="0.7606" stop-color="#5b7a99"/><stop offset="0.7660" stop-color="#607f9d"/><stop offset="0.7713" stop-color="#6583a0"/><stop offset="0.7766" stop-color="#6886a3"/><stop offset="0.7819" stop-color="#6b89a5"/><stop offset="0.7872" stop-color="#6e8ba7"/><stop offset="0.7926" stop-color="#6f8da9"/><stop offset="0.7979" stop-color="#708ea9"/><stop offset="0.8032" stop-color="#718eaa"/><stop offset="0.8085" stop-color="#718eaa"/><stop offset="0.8138" stop-color="#718eaa"/><stop offset="0.8191" stop-color="#708da9"/><stop offset="0.8245" stop-color="#6e8ba7"/><stop offset="0.8298" stop-color="#6b89a5"/><stop offset="0.8351" stop-color="#6886a3"/><stop offset="0.8404" stop-color="#63819f"/><stop offset="0.8457" stop-color="#5d7c9a"/><stop offset="0.8511" stop-color="#557494"/><stop offset="0.8564" stop-color="#4b6b8b"/><stop offset="0.8617" stop-color="#416081"/><stop offset="0.8670" stop-color="#355375"/><stop offset="0.8723" stop-color="#274567"/><stop offset="0.8777" stop-color="#1d3857"/><stop offset="0.8830" stop-color="#122a47"/><stop offset="0.8883" stop-color="#0a1e37"/><stop offset="0.8936" stop-color="#061428"/><stop offset="0.8989" stop-color="#020c1a"/><stop offset="0.9043" stop-color="#000814"/><stop offset="0.9096" stop-color="#000814"/><stop offset="0.9149" stop-color="#000814"/><stop offset="0.9202" stop-color="#000814"/><stop offset="0.9255" stop-color="#000814"/><stop offset="0.9309" stop-color="#000814"/><stop offset="0.9362" stop-color="#010b18"/><stop offset="0.9415" stop-color="#051326"/><stop offset="0.9468" stop-color="#091c35"/><stop offset="0.9521" stop-color="#112845"/><stop offset="0.9574" stop-color="#1c3656"/><stop offset="0.9628" stop-color="#274466"/><stop offset="0.9681" stop-color="#345374"/><stop offset="0.9734" stop-color="#416081"/><stop offset="0.9787" stop-color="#4c6c8c"/><stop offset="0.9840" stop-color="#567595"/><stop offset="0.9894" stop-color="#5f7d9b"/><stop offset="0.9947" stop-color="#6684a1"/><stop offset="1.0000" stop-color="#6b89a5"/></linearGradient><linearGradient id="hlg6" x1="0" y1="0" x2="1" y2="0"><stop offset="0" stop-color="#f4f8fb" stop-opacity="0.6"/><stop offset="0.2" stop-color="#f4f8fb" stop-opacity="0"/><stop offset="0.8" stop-color="#f4f8fb" stop-opacity="0"/><stop offset="1" stop-color="#f4f8fb" stop-opacity="0.6"/></linearGradient><clipPath id="clg6"><rect x="87.70" y="350.20" width="26.80" height="94.00"/></clipPath></defs>
<rect x="87.70" y="350.20" width="26.80" height="94.00" fill="url(#lg6)"/>
<rect x="87.70" y="350.20" width="26.80" height="94.00" fill="url(#hlg6)"/>
<text x="12.70" y="410.68" font-size="8.6" text-anchor="middle" font-weight="normal" fill="#1c1c1c" stroke="#1c1c1c" stroke-width="0.3">T</text>
<line x1="18.20" y1="407.60" x2="29.20" y2="407.60" stroke="#222" stroke-width="1.0"/>
<text x="12.70" y="422.28" font-size="8.6" text-anchor="middle" font-weight="normal" fill="#1c1c1c" stroke="#1c1c1c" stroke-width="0.3">D</text>
<line x1="18.20" y1="419.20" x2="29.20" y2="419.20" stroke="#222" stroke-width="1.0"/>
<text x="12.70" y="439.38" font-size="8.6" text-anchor="middle" font-weight="normal" fill="#1c1c1c" stroke="#1c1c1c" stroke-width="0.3">M</text>
<line x1="18.20" y1="436.30" x2="29.20" y2="436.30" stroke="#222" stroke-width="1.0"/>
<text x="45.00" y="456.70" font-size="8.0" text-anchor="middle" font-weight="normal" fill="#1c1c1c" stroke="#1c1c1c" stroke-width="0.3">NR1</text>
<text x="74.00" y="456.70" font-size="8.0" text-anchor="middle" font-weight="normal" fill="#1c1c1c" stroke="#1c1c1c" stroke-width="0.3">NR2</text>
<text x="102.40" y="456.70" font-size="8.0" text-anchor="middle" font-weight="normal" fill="#1c1c1c" stroke="#1c1c1c" stroke-width="0.3">NR3</text>
<text x="129.60" y="340.60" font-size="12" text-anchor="middle" font-weight="bold" fill="#000">H</text>
<text x="188.60" y="339.00" font-size="8.5" text-anchor="middle" font-weight="normal" fill="#1c1c1c" stroke="#1c1c1c" stroke-width="0.3" textLength="52.20" lengthAdjust="spacingAndGlyphs">FN6 fragment</text>
<rect x="148.30" y="349.00" width="79.50" height="95.00" fill="#e8f0f5"/>
<defs><linearGradient id="lg7" x1="0" y1="0" x2="0" y2="1"><stop offset="0.0000" stop-color="#244162"/><stop offset="0.0054" stop-color="#1a3453"/><stop offset="0.0108" stop-color="#0f2643"/><stop offset="0.0162" stop-color="#091b33"/><stop offset="0.0216" stop-color="#081930"/><stop offset="0.0270" stop-color="#081930"/><stop offset="0.0324" stop-color="#081930"/><stop offset="0.0378" stop-color="#081930"/><stop offset="0.0432" stop-color="#081930"/><stop offset="0.0486" stop-color="#081930"/><stop offset="0.0541" stop-color="#081930"/><stop offset="0.0595" stop-color="#081930"/><stop offset="0.0649" stop-color="#081930"/><stop offset="0.0703" stop-color="#081930"/><stop offset="0.0757" stop-color="#081930"/><stop offset="0.0811" stop-color="#081930"/><stop offset="0.0865" stop-color="#081930"/><stop offset="0.0919" stop-color="#081930"/><stop offset="0.0973" stop-color="#081930"/><stop offset="0.1027" stop-color="#081930"/><stop offset="0.1081" stop-color="#081930"/><stop offset="0.1135" stop-color="#081930"/><stop offset="0.1189" stop-color="#081930"/><stop offset="0.1243" stop-color="#081930"/><stop offset="0.1297" stop-color="#081930"/><stop offset="0.1351" stop-color="#081930"/><stop offset="0.1405" stop-color="#081930"/><stop offset="0.1459" stop-color="#081930"/><stop offset="0.1514" stop-color="#081930"/><stop offset="0.1568" stop-color="#081930"/><stop offset="0.1622" stop-color="#081930"/><stop offset="0.1676" stop-color="#081930"/><stop offset="0.1730" stop-color="#081930"/><stop offset="0.1784" stop-color="#081a31"/><stop offset="0.1838" stop-color="#091b32"/><stop offset="0.1892" stop-color="#091b33"/><stop offset="0.1946" stop-color="#091c35"/><stop offset="0.2000" stop-color="#0a1d36"/><stop offset="0.2054" stop-color="#0a1e37"/><stop offset="0.2108" stop-color="#0a1e38"/><stop offset="0.2162" stop-color="#0b1f39"/><stop offset="0.2216" stop-color="#0b1f3a"/><stop offset="0.2270" stop-color="#0b1f3a"/><stop offset="0.2324" stop-color="#0a1f39"/><stop offset="0.2378" stop-color="#0a1e37"/><stop offset="0.2432" stop-color="#091c35"/><stop offset="0.2486" stop-color="#091c34"/><stop offset="0.2541" stop-color="#091c34"/><stop offset="0.2595" stop-color="#0a1d37"/><stop offset="0.2649" stop-color="#0b203a"/><stop offset="0.2703" stop-color="#0c213d"/><stop offset="0.2757" stop-color="#0d233f"/><stop offset="0.2811" stop-color="#0d233f"/><stop offset="0.2865" stop-color="#0c223d"/><stop offset="0.2919" stop-color="#0b213c"/><stop offset="0.2973" stop-color="#0b213c"/><stop offset="0.3027" stop-color="#0d233f"/><stop offset="0.3081" stop-color="#102744"/><stop offset="0.3135" stop-color="#142c4a"/><stop offset="0.3189" stop-color="#17304e"/><stop offset="0.3243" stop-color="#193251"/><stop offset="0.3297" stop-color="#193251"/><stop offset="0.3351" stop-color="#17304e"/><stop offset="0.3405" stop-color="#142d4b"/><stop offset="0.3459" stop-color="#132a48"/><stop offset="0.3514" stop-color="#122a47"/><stop offset="0.3568" stop-color="#142d4a"/><stop offset="0.3622" stop-color="#183250"/><stop offset="0.3676" stop-color="#1d3857"/><stop offset="0.3730" stop-color="#213e5e"/><stop offset="0.3784" stop-color="#244163"/><stop offset="0.3838" stop-color="#254364"/><stop offset="0.3892" stop-color="#244163"/><stop offset="0.3946" stop-color="#223e5f"/><stop offset="0.4000" stop-color="#1e3a5a"/><stop offset="0.4054" stop-color="#1b3655"/><stop offset="0.4108" stop-color="#193352"/><stop offset="0.4162" stop-color="#1a3453"/><stop offset="0.4216" stop-color="#1d3757"/><stop offset="0.4270" stop-color="#213e5e"/><stop offset="0.4324" stop-color="#274567"/><stop offset="0.4378" stop-color="#2e4d6e"/><stop offset="0.4432" stop-color="#345274"/><stop offset="0.4486" stop-color="#375577"/><stop offset="0.4541" stop-color="#365576"/><stop offset="0.4595" stop-color="#335173"/><stop offset="0.4649" stop-color="#2d4b6d"/><stop offset="0.4703" stop-color="#274466"/><stop offset="0.4757" stop-color="#223f5f"/><stop offset="0.4811" stop-color="#1f3b5b"/><stop offset="0.4865" stop-color="#1e3a5a"/><stop offset="0.4919" stop-color="#213c5d"/><stop offset="0.4973" stop-color="#254264"/><stop offset="0.5027" stop-color="#2d4c6d"/><stop offset="0.5081" stop-color="#385778"/><stop offset="0.5135" stop-color="#426182"/><stop offset="0.5189" stop-color="#4a6a8a"/><stop offset="0.5243" stop-color="#517191"/><stop offset="0.5297" stop-color="#557594"/><stop offset="0.5351" stop-color="#577695"/><stop offset="0.5405" stop-color="#557494"/><stop offset="0.5459" stop-color="#507090"/><stop offset="0.5514" stop-color="#496989"/><stop offset="0.5568" stop-color="#405f80"/><stop offset="0.5622" stop-color="#355375"/><stop offset="0.5676" stop-color="#294769"/><stop offset="0.5730" stop-color="#213d5e"/><stop offset="0.5784" stop-color="#1c3655"/><stop offset="0.5838" stop-color="#193351"/><stop offset="0.5892" stop-color="#1a3453"/><stop offset="0.5946" stop-color="#1e3959"/><stop offset="0.6000" stop-color="#264365"/><stop offset="0.6054" stop-color="#325172"/><stop offset="0.6108" stop-color="#416081"/><stop offset="0.6162" stop-color="#507090"/><stop offset="0.6216" stop-color="#5f7e9c"/><stop offset="0.6270" stop-color="#6c89a6"/><stop offset="0.6324" stop-color="#7692ae"/><stop offset="0.6378" stop-color="#7d99b3"/><stop offset="0.6432" stop-color="#839eb7"/><stop offset="0.6486" stop-color="#86a1ba"/><stop offset="0.6541" stop-color="#89a3bb"/><stop offset="0.6595" stop-color="#8aa5bc"/><stop offset="0.6649" stop-color="#8aa5bc"/><stop offset="0.6703" stop-color="#89a3bb"/><stop offset="0.6757" stop-color="#86a1b9"/><stop offset="0.6811" stop-color="#819cb6"/><stop offset="0.6865" stop-color="#7995b0"/><stop offset="0.6919" stop-color="#6f8ca8"/><stop offset="0.6973" stop-color="#62809e"/><stop offset="0.7027" stop-color="#537392"/><stop offset="0.7081" stop-color="#456585"/><stop offset="0.7135" stop-color="#385778"/><stop offset="0.7189" stop-color="#2d4c6d"/><stop offset="0.7243" stop-color="#264466"/><stop offset="0.7297" stop-color="#244163"/><stop offset="0.7351" stop-color="#264365"/><stop offset="0.7405" stop-color="#2c4a6c"/><stop offset="0.7459" stop-color="#385678"/><stop offset="0.7514" stop-color="#466686"/><stop offset="0.7568" stop-color="#587796"/><stop offset="0.7622" stop-color="#6b88a5"/><stop offset="0.7676" stop-color="#7d99b3"/><stop offset="0.7730" stop-color="#8da7be"/><stop offset="0.7784" stop-color="#9ab3c7"/><stop offset="0.7838" stop-color="#a5bcce"/><stop offset="0.7892" stop-color="#adc3d4"/><stop offset="0.7946" stop-color="#b3c7d7"/><stop offset="0.8000" stop-color="#b7cada"/><stop offset="0.8054" stop-color="#bacddb"/><stop offset="0.8108" stop-color="#bdcfdd"/><stop offset="0.8162" stop-color="#bed0de"/><stop offset="0.8216" stop-color="#bfd0de"/><stop offset="0.8270" stop-color="#bfd1de"/><stop offset="0.8324" stop-color="#c0d1df"/><stop offset="0.8378" stop-color="#c0d1df"/><stop offset="0.8432" stop-color="#c0d2df"/><stop offset="0.8486" stop-color="#c1d2df"/><stop offset="0.8541" stop-color="#c1d2df"/><stop offset="0.8595" stop-color="#c1d2df"/><stop offset="0.8649" stop-color="#c1d2df"/><stop offset="0.8703" stop-color="#c1d2df"/><stop offset="0.8757" stop-color="#c0d1df"/><stop offset="0.8811" stop-color="#bfd0de"/><stop offset="0.8865" stop-color="#bdcfdd"/><stop offset="0.8919" stop-color="#b9ccdb"/><stop offset="0.8973" stop-color="#b4c8d8"/><stop offset="0.9027" stop-color="#adc3d4"/><stop offset="0.9081" stop-color="#a5bcce"/><stop offset="0.9135" stop-color="#9ab3c7"/><stop offset="0.9189" stop-color="#8fa9c0"/><stop offset="0.9243" stop-color="#849fb8"/><stop offset="0.9297" stop-color="#7895b0"/><stop offset="0.9351" stop-color="#6f8ca8"/><stop offset="0.9405" stop-color="#6785a2"/><stop offset="0.9459" stop-color="#63819f"/><stop offset="0.9514" stop-color="#62809e"/><stop offset="0.9568" stop-color="#6482a0"/><stop offset="0.9622" stop-color="#6987a4"/><stop offset="0.9676" stop-color="#718ea9"/><stop offset="0.9730" stop-color="#7a96b1"/><stop offset="0.9784" stop-color="#839fb8"/><stop offset="0.9838" stop-color="#8da7be"/><stop offset="0.9892" stop-color="#96afc4"/><stop offset="0.9946" stop-color="#9eb5c9"/><stop offset="1.0000" stop-color="#a4bbcd"/></linearGradient><linearGradient id="hlg7" x1="0" y1="0" x2="1" y2="0"><stop offset="0" stop-color="#f4f8fb" stop-opacity="0.6"/><stop offset="0.2" stop-color="#f4f8fb" stop-opacity="0"/><stop offset="0.8" stop-color="#f4f8fb" stop-opacity="0"/><stop offset="1" stop-color="#f4f8fb" stop-opacity="0.6"/></linearGradient><clipPath id="clg7"><rect x="149.20" y="349.90" width="25.10" height="92.80"/></clipPath></defs>
<rect x="149.20" y="349.90" width="25.10" height="92.80" fill="url(#lg7)"/>
<rect x="149.20" y="349.90" width="25.10" height="92.80" fill="url(#hlg7)"/>
<defs><linearGradient id="lg8" x1="0" y1="0" x2="0" y2="1"><stop offset="0.0000" stop-color="#0c223e"/><stop offset="0.0054" stop-color="#0c223e"/><stop offset="0.0108" stop-color="#0c223d"/><stop offset="0.0162" stop-color="#0c213d"/><stop offset="0.0216" stop-color="#0c213d"/><stop offset="0.0270" stop-color="#0c213c"/><stop offset="0.0324" stop-color="#0b213c"/><stop offset="0.0378" stop-color="#0b203c"/><stop offset="0.0432" stop-color="#0b203b"/><stop offset="0.0486" stop-color="#0b203b"/><stop offset="0.0541" stop-color="#0b203b"/><stop offset="0.0595" stop-color="#0b203a"/><stop offset="0.0649" stop-color="#0b1f3a"/><stop offset="0.0703" stop-color="#0b1f39"/><stop offset="0.0757" stop-color="#0b1f39"/><stop offset="0.0811" stop-color="#0b1f39"/><stop offset="0.0865" stop-color="#0a1f38"/><stop offset="0.0919" stop-color="#0a1e38"/><stop offset="0.0973" stop-color="#0a1e38"/><stop offset="0.1027" stop-color="#0a1e37"/><stop offset="0.1081" stop-color="#0a1e37"/><stop offset="0.1135" stop-color="#0a1d37"/><stop offset="0.1189" stop-color="#0a1d36"/><stop offset="0.1243" stop-color="#0a1d36"/><stop offset="0.1297" stop-color="#0a1d36"/><stop offset="0.1351" stop-color="#0a1d36"/><stop offset="0.1405" stop-color="#0a1e38"/><stop offset="0.1459" stop-color="#0a1f39"/><stop offset="0.1514" stop-color="#0b1f3a"/><stop offset="0.1568" stop-color="#0b203b"/><stop offset="0.1622" stop-color="#0b213c"/><stop offset="0.1676" stop-color="#0c223d"/><stop offset="0.1730" stop-color="#0c223e"/><stop offset="0.1784" stop-color="#0d233f"/><stop offset="0.1838" stop-color="#0e2441"/><stop offset="0.1892" stop-color="#0e2542"/><stop offset="0.1946" stop-color="#0f2643"/><stop offset="0.2000" stop-color="#102744"/><stop offset="0.2054" stop-color="#112845"/><stop offset="0.2108" stop-color="#112946"/><stop offset="0.2162" stop-color="#122a47"/><stop offset="0.2216" stop-color="#132b48"/><stop offset="0.2270" stop-color="#142c4a"/><stop offset="0.2324" stop-color="#142d4b"/><stop offset="0.2378" stop-color="#152e4c"/><stop offset="0.2432" stop-color="#162f4e"/><stop offset="0.2486" stop-color="#183150"/><stop offset="0.2541" stop-color="#193352"/><stop offset="0.2595" stop-color="#1b3554"/><stop offset="0.2649" stop-color="#1c3656"/><stop offset="0.2703" stop-color="#1d3757"/><stop offset="0.2757" stop-color="#1d3857"/><stop offset="0.2811" stop-color="#1c3756"/><stop offset="0.2865" stop-color="#1b3554"/><stop offset="0.2919" stop-color="#193251"/><stop offset="0.2973" stop-color="#17304e"/><stop offset="0.3027" stop-color="#17304e"/><stop offset="0.3081" stop-color="#193251"/><stop offset="0.3135" stop-color="#1c3656"/><stop offset="0.3189" stop-color="#1f3b5b"/><stop offset="0.3243" stop-color="#213d5e"/><stop offset="0.3297" stop-color="#223e5e"/><stop offset="0.3351" stop-color="#203c5d"/><stop offset="0.3405" stop-color="#1f3a5b"/><stop offset="0.3459" stop-color="#1f3a5b"/><stop offset="0.3514" stop-color="#213d5e"/><stop offset="0.3568" stop-color="#264364"/><stop offset="0.3622" stop-color="#2b496b"/><stop offset="0.3676" stop-color="#304e70"/><stop offset="0.3730" stop-color="#314f71"/><stop offset="0.3784" stop-color="#2f4d6f"/><stop offset="0.3838" stop-color="#2a486a"/><stop offset="0.3892" stop-color="#274566"/><stop offset="0.3946" stop-color="#274466"/><stop offset="0.4000" stop-color="#2a486a"/><stop offset="0.4054" stop-color="#315071"/><stop offset="0.4108" stop-color="#3b5a7b"/><stop offset="0.4162" stop-color="#446484"/><stop offset="0.4216" stop-color="#4b6b8b"/><stop offset="0.4270" stop-color="#4e6e8e"/><stop offset="0.4324" stop-color="#4d6d8d"/><stop offset="0.4378" stop-color="#486888"/><stop offset="0.4432" stop-color="#416081"/><stop offset="0.4486" stop-color="#385778"/><stop offset="0.4541" stop-color="#325172"/><stop offset="0.4595" stop-color="#304f70"/><stop offset="0.4649" stop-color="#345374"/><stop offset="0.4703" stop-color="#3d5c7d"/><stop offset="0.4757" stop-color="#496989"/><stop offset="0.4811" stop-color="#567695"/><stop offset="0.4865" stop-color="#62809e"/><stop offset="0.4919" stop-color="#6987a4"/><stop offset="0.4973" stop-color="#6c89a6"/><stop offset="0.5027" stop-color="#6987a4"/><stop offset="0.5081" stop-color="#62809e"/><stop offset="0.5135" stop-color="#577695"/><stop offset="0.5189" stop-color="#4b6b8b"/><stop offset="0.5243" stop-color="#416181"/><stop offset="0.5297" stop-color="#3c5b7c"/><stop offset="0.5351" stop-color="#3d5c7d"/><stop offset="0.5405" stop-color="#446484"/><stop offset="0.5459" stop-color="#517090"/><stop offset="0.5514" stop-color="#61809d"/><stop offset="0.5568" stop-color="#718eaa"/><stop offset="0.5622" stop-color="#7e9ab4"/><stop offset="0.5676" stop-color="#88a2bb"/><stop offset="0.5730" stop-color="#8da7be"/><stop offset="0.5784" stop-color="#8fa9bf"/><stop offset="0.5838" stop-color="#8da7be"/><stop offset="0.5892" stop-color="#88a2bb"/><stop offset="0.5946" stop-color="#7f9bb5"/><stop offset="0.6000" stop-color="#7390ab"/><stop offset="0.6054" stop-color="#6584a1"/><stop offset="0.6108" stop-color="#597897"/><stop offset="0.6162" stop-color="#4f6f8f"/><stop offset="0.6216" stop-color="#4b6b8b"/><stop offset="0.6270" stop-color="#4d6d8d"/><stop offset="0.6324" stop-color="#567595"/><stop offset="0.6378" stop-color="#6482a0"/><stop offset="0.6432" stop-color="#7592ad"/><stop offset="0.6486" stop-color="#86a1b9"/><stop offset="0.6541" stop-color="#94adc3"/><stop offset="0.6595" stop-color="#9fb7ca"/><stop offset="0.6649" stop-color="#a7bed0"/><stop offset="0.6703" stop-color="#acc2d3"/><stop offset="0.6757" stop-color="#afc4d5"/><stop offset="0.6811" stop-color="#b0c5d5"/><stop offset="0.6865" stop-color="#afc4d5"/><stop offset="0.6919" stop-color="#adc3d3"/><stop offset="0.6973" stop-color="#a8bed0"/><stop offset="0.7027" stop-color="#a0b8cb"/><stop offset="0.7081" stop-color="#95aec3"/><stop offset="0.7135" stop-color="#87a2ba"/><stop offset="0.7189" stop-color="#7693ae"/><stop offset="0.7243" stop-color="#6684a1"/><stop offset="0.7297" stop-color="#577695"/><stop offset="0.7351" stop-color="#4d6d8d"/><stop offset="0.7405" stop-color="#496989"/><stop offset="0.7459" stop-color="#4c6c8c"/><stop offset="0.7514" stop-color="#557594"/><stop offset="0.7568" stop-color="#6482a0"/><stop offset="0.7622" stop-color="#7693ae"/><stop offset="0.7676" stop-color="#88a3bb"/><stop offset="0.7730" stop-color="#99b1c6"/><stop offset="0.7784" stop-color="#a7bed0"/><stop offset="0.7838" stop-color="#b1c6d6"/><stop offset="0.7892" stop-color="#b8cbda"/><stop offset="0.7946" stop-color="#bccfdd"/><stop offset="0.8000" stop-color="#bfd1de"/><stop offset="0.8054" stop-color="#c1d2e0"/><stop offset="0.8108" stop-color="#c3d3e0"/><stop offset="0.8162" stop-color="#c3d4e1"/><stop offset="0.8216" stop-color="#c4d4e1"/><stop offset="0.8270" stop-color="#c4d4e1"/><stop offset="0.8324" stop-color="#c4d5e1"/><stop offset="0.8378" stop-color="#c4d5e1"/><stop offset="0.8432" stop-color="#c4d5e1"/><stop offset="0.8486" stop-color="#c4d5e1"/><stop offset="0.8541" stop-color="#c4d5e1"/><stop offset="0.8595" stop-color="#c4d4e1"/><stop offset="0.8649" stop-color="#c3d4e1"/><stop offset="0.8703" stop-color="#c2d3e0"/><stop offset="0.8757" stop-color="#c0d1df"/><stop offset="0.8811" stop-color="#bccedd"/><stop offset="0.8865" stop-color="#b7cbda"/><stop offset="0.8919" stop-color="#b0c5d5"/><stop offset="0.8973" stop-color="#a6bccf"/><stop offset="0.9027" stop-color="#98b1c6"/><stop offset="0.9081" stop-color="#89a4bc"/><stop offset="0.9135" stop-color="#7996b0"/><stop offset="0.9189" stop-color="#6987a4"/><stop offset="0.9243" stop-color="#5a7998"/><stop offset="0.9297" stop-color="#4e6e8e"/><stop offset="0.9351" stop-color="#476787"/><stop offset="0.9405" stop-color="#456485"/><stop offset="0.9459" stop-color="#466686"/><stop offset="0.9514" stop-color="#4c6c8c"/><stop offset="0.9568" stop-color="#567595"/><stop offset="0.9622" stop-color="#63829f"/><stop offset="0.9676" stop-color="#728fab"/><stop offset="0.9730" stop-color="#819cb6"/><stop offset="0.9784" stop-color="#8ea8bf"/><stop offset="0.9838" stop-color="#9ab2c7"/><stop offset="0.9892" stop-color="#a4bbcd"/><stop offset="0.9946" stop-color="#abc1d2"/><stop offset="1.0000" stop-color="#b0c5d5"/></linearGradient><linearGradient id="hlg8" x1="0" y1="0" x2="1" y2="0"><stop offset="0" stop-color="#f4f8fb" stop-opacity="0.6"/><stop offset="0.2" stop-color="#f4f8fb" stop-opacity="0"/><stop offset="0.8" stop-color="#f4f8fb" stop-opacity="0"/><stop offset="1" stop-color="#f4f8fb" stop-opacity="0.6"/></linearGradient><clipPath id="clg8"><rect x="174.80" y="349.90" width="25.40" height="92.80"/></clipPath></defs>
<rect x="174.80" y="349.90" width="25.40" height="92.80" fill="url(#lg8)"/>
<g clip-path="url(#clg8)">
<defs><linearGradient id="tg2" x1="0" y1="0" x2="0" y2="1"><stop offset="0" stop-color="#000308" stop-opacity="1"/><stop offset="0.4" stop-color="#000308" stop-opacity="0.95"/><stop offset="0.7" stop-color="#0a2040" stop-opacity="0.55"/><stop offset="1" stop-color="#1a3a5a" stop-opacity="0"/></linearGradient></defs><path d="M175.2,349.9 L200,349.9 L196.5,395 L179,395 Z" fill="url(#tg2)" filter="url(#b1)"/>
</g>
<rect x="174.80" y="349.90" width="25.40" height="92.80" fill="url(#hlg8)"/>
<defs><linearGradient id="lg9" x1="0" y1="0" x2="0" y2="1"><stop offset="0.0000" stop-color="#7894af"/><stop offset="0.0054" stop-color="#728fab"/><stop offset="0.0108" stop-color="#6c8aa6"/><stop offset="0.0162" stop-color="#6684a1"/><stop offset="0.0216" stop-color="#617f9d"/><stop offset="0.0270" stop-color="#5f7d9c"/><stop offset="0.0324" stop-color="#5e7d9b"/><stop offset="0.0378" stop-color="#5d7c9a"/><stop offset="0.0432" stop-color="#5c7b9a"/><stop offset="0.0486" stop-color="#5c7b99"/><stop offset="0.0541" stop-color="#5b7a99"/><stop offset="0.0595" stop-color="#5a7998"/><stop offset="0.0649" stop-color="#597997"/><stop offset="0.0703" stop-color="#597897"/><stop offset="0.0757" stop-color="#587796"/><stop offset="0.0811" stop-color="#577696"/><stop offset="0.0865" stop-color="#567695"/><stop offset="0.0919" stop-color="#567594"/><stop offset="0.0973" stop-color="#557494"/><stop offset="0.1027" stop-color="#547493"/><stop offset="0.1081" stop-color="#537393"/><stop offset="0.1135" stop-color="#527292"/><stop offset="0.1189" stop-color="#527291"/><stop offset="0.1243" stop-color="#517191"/><stop offset="0.1297" stop-color="#507090"/><stop offset="0.1351" stop-color="#507090"/><stop offset="0.1405" stop-color="#4f6f8f"/><stop offset="0.1459" stop-color="#4f6e8f"/><stop offset="0.1514" stop-color="#4e6e8e"/><stop offset="0.1568" stop-color="#4e6d8e"/><stop offset="0.1622" stop-color="#4d6d8d"/><stop offset="0.1676" stop-color="#4d6c8d"/><stop offset="0.1730" stop-color="#4c6c8c"/><stop offset="0.1784" stop-color="#4b6b8b"/><stop offset="0.1838" stop-color="#4b6b8b"/><stop offset="0.1892" stop-color="#4a6a8a"/><stop offset="0.1946" stop-color="#4a6a8a"/><stop offset="0.2000" stop-color="#496989"/><stop offset="0.2054" stop-color="#486888"/><stop offset="0.2108" stop-color="#476687"/><stop offset="0.2162" stop-color="#446484"/><stop offset="0.2216" stop-color="#416081"/><stop offset="0.2270" stop-color="#3e5d7e"/><stop offset="0.2324" stop-color="#3a597a"/><stop offset="0.2378" stop-color="#395779"/><stop offset="0.2432" stop-color="#395779"/><stop offset="0.2486" stop-color="#3a597a"/><stop offset="0.2541" stop-color="#3c5b7c"/><stop offset="0.2595" stop-color="#3e5d7e"/><stop offset="0.2649" stop-color="#3e5d7e"/><stop offset="0.2703" stop-color="#3d5c7d"/><stop offset="0.2757" stop-color="#395879"/><stop offset="0.2811" stop-color="#355475"/><stop offset="0.2865" stop-color="#325072"/><stop offset="0.2919" stop-color="#304e70"/><stop offset="0.2973" stop-color="#314f71"/><stop offset="0.3027" stop-color="#345374"/><stop offset="0.3081" stop-color="#385778"/><stop offset="0.3135" stop-color="#3c5b7c"/><stop offset="0.3189" stop-color="#3e5d7e"/><stop offset="0.3243" stop-color="#3f5e7f"/><stop offset="0.3297" stop-color="#3d5c7d"/><stop offset="0.3351" stop-color="#3a597a"/><stop offset="0.3405" stop-color="#355375"/><stop offset="0.3459" stop-color="#2f4d6f"/><stop offset="0.3514" stop-color="#2a486a"/><stop offset="0.3568" stop-color="#284668"/><stop offset="0.3622" stop-color="#294769"/><stop offset="0.3676" stop-color="#2d4b6d"/><stop offset="0.3730" stop-color="#325172"/><stop offset="0.3784" stop-color="#375677"/><stop offset="0.3838" stop-color="#3a597a"/><stop offset="0.3892" stop-color="#3b5a7b"/><stop offset="0.3946" stop-color="#395879"/><stop offset="0.4000" stop-color="#355375"/><stop offset="0.4054" stop-color="#2f4d6f"/><stop offset="0.4108" stop-color="#284668"/><stop offset="0.4162" stop-color="#244061"/><stop offset="0.4216" stop-color="#213d5d"/><stop offset="0.4270" stop-color="#213d5d"/><stop offset="0.4324" stop-color="#233f60"/><stop offset="0.4378" stop-color="#274567"/><stop offset="0.4432" stop-color="#2e4c6e"/><stop offset="0.4486" stop-color="#345374"/><stop offset="0.4541" stop-color="#395779"/><stop offset="0.4595" stop-color="#3a597a"/><stop offset="0.4649" stop-color="#385778"/><stop offset="0.4703" stop-color="#335273"/><stop offset="0.4757" stop-color="#2c4b6c"/><stop offset="0.4811" stop-color="#264364"/><stop offset="0.4865" stop-color="#213d5d"/><stop offset="0.4919" stop-color="#1d3858"/><stop offset="0.4973" stop-color="#1d3757"/><stop offset="0.5027" stop-color="#1f3a5a"/><stop offset="0.5081" stop-color="#234061"/><stop offset="0.5135" stop-color="#2a486a"/><stop offset="0.5189" stop-color="#335273"/><stop offset="0.5243" stop-color="#3c5b7c"/><stop offset="0.5297" stop-color="#436283"/><stop offset="0.5351" stop-color="#476687"/><stop offset="0.5405" stop-color="#486788"/><stop offset="0.5459" stop-color="#466586"/><stop offset="0.5514" stop-color="#406080"/><stop offset="0.5568" stop-color="#385778"/><stop offset="0.5622" stop-color="#2e4d6e"/><stop offset="0.5676" stop-color="#254263"/><stop offset="0.5730" stop-color="#1d3858"/><stop offset="0.5784" stop-color="#18314f"/><stop offset="0.5838" stop-color="#152d4b"/><stop offset="0.5892" stop-color="#152d4b"/><stop offset="0.5946" stop-color="#193251"/><stop offset="0.6000" stop-color="#1f3b5b"/><stop offset="0.6054" stop-color="#284668"/><stop offset="0.6108" stop-color="#355475"/><stop offset="0.6162" stop-color="#426182"/><stop offset="0.6216" stop-color="#4d6d8d"/><stop offset="0.6270" stop-color="#577695"/><stop offset="0.6324" stop-color="#5f7e9c"/><stop offset="0.6378" stop-color="#6483a0"/><stop offset="0.6432" stop-color="#6886a3"/><stop offset="0.6486" stop-color="#6b89a5"/><stop offset="0.6541" stop-color="#6d8aa6"/><stop offset="0.6595" stop-color="#6d8ba7"/><stop offset="0.6649" stop-color="#6d8aa6"/><stop offset="0.6703" stop-color="#6b88a5"/><stop offset="0.6757" stop-color="#6785a2"/><stop offset="0.6811" stop-color="#62809e"/><stop offset="0.6865" stop-color="#5a7997"/><stop offset="0.6919" stop-color="#4f6f8f"/><stop offset="0.6973" stop-color="#436383"/><stop offset="0.7027" stop-color="#365576"/><stop offset="0.7081" stop-color="#284668"/><stop offset="0.7135" stop-color="#1f3a5a"/><stop offset="0.7189" stop-color="#17304f"/><stop offset="0.7243" stop-color="#122946"/><stop offset="0.7297" stop-color="#0f2643"/><stop offset="0.7351" stop-color="#102845"/><stop offset="0.7405" stop-color="#152e4c"/><stop offset="0.7459" stop-color="#1d3858"/><stop offset="0.7514" stop-color="#274567"/><stop offset="0.7568" stop-color="#375577"/><stop offset="0.7622" stop-color="#476787"/><stop offset="0.7676" stop-color="#587796"/><stop offset="0.7730" stop-color="#6886a2"/><stop offset="0.7784" stop-color="#7592ad"/><stop offset="0.7838" stop-color="#809bb5"/><stop offset="0.7892" stop-color="#88a3bb"/><stop offset="0.7946" stop-color="#8ea8bf"/><stop offset="0.8000" stop-color="#93acc2"/><stop offset="0.8054" stop-color="#97afc5"/><stop offset="0.8108" stop-color="#99b2c6"/><stop offset="0.8162" stop-color="#9cb4c8"/><stop offset="0.8216" stop-color="#9eb6c9"/><stop offset="0.8270" stop-color="#a0b7cb"/><stop offset="0.8324" stop-color="#a1b9cc"/><stop offset="0.8378" stop-color="#a3bacd"/><stop offset="0.8432" stop-color="#a4bbce"/><stop offset="0.8486" stop-color="#a6bdcf"/><stop offset="0.8541" stop-color="#a7bdd0"/><stop offset="0.8595" stop-color="#a7bed0"/><stop offset="0.8649" stop-color="#a8bed0"/><stop offset="0.8703" stop-color="#a6bdcf"/><stop offset="0.8757" stop-color="#a3bacd"/><stop offset="0.8811" stop-color="#9fb6ca"/><stop offset="0.8865" stop-color="#9ab2c7"/><stop offset="0.8919" stop-color="#94adc3"/><stop offset="0.8973" stop-color="#8ea8bf"/><stop offset="0.9027" stop-color="#88a3bb"/><stop offset="0.9081" stop-color="#839fb8"/><stop offset="0.9135" stop-color="#7f9bb5"/><stop offset="0.9189" stop-color="#7d99b3"/><stop offset="0.9243" stop-color="#7d99b3"/><stop offset="0.9297" stop-color="#7e9ab4"/><stop offset="0.9351" stop-color="#829db7"/><stop offset="0.9405" stop-color="#87a1ba"/><stop offset="0.9459" stop-color="#8ca6bd"/><stop offset="0.9514" stop-color="#92abc1"/><stop offset="0.9568" stop-color="#97b0c5"/><stop offset="0.9622" stop-color="#9cb4c8"/><stop offset="0.9676" stop-color="#a0b7cb"/><stop offset="0.9730" stop-color="#a3bacd"/><stop offset="0.9784" stop-color="#a5bcce"/><stop offset="0.9838" stop-color="#a7bdcf"/><stop offset="0.9892" stop-color="#a8bed0"/><stop offset="0.9946" stop-color="#a8bfd0"/><stop offset="1.0000" stop-color="#a8bfd1"/></linearGradient><linearGradient id="hlg9" x1="0" y1="0" x2="1" y2="0"><stop offset="0" stop-color="#f4f8fb" stop-opacity="0.6"/><stop offset="0.2" stop-color="#f4f8fb" stop-opacity="0"/><stop offset="0.8" stop-color="#f4f8fb" stop-opacity="0"/><stop offset="1" stop-color="#f4f8fb" stop-opacity="0.6"/></linearGradient><clipPath id="clg9"><rect x="202.70" y="349.90" width="24.30" height="92.80"/></clipPath></defs>
<rect x="202.70" y="349.90" width="24.30" height="92.80" fill="url(#lg9)"/>
<rect x="202.70" y="349.90" width="24.30" height="92.80" fill="url(#hlg9)"/>
<text x="131.60" y="408.68" font-size="8.6" text-anchor="middle" font-weight="normal" fill="#1c1c1c" stroke="#1c1c1c" stroke-width="0.3">T</text>
<line x1="138.00" y1="405.60" x2="147.80" y2="405.60" stroke="#222" stroke-width="1.0"/>
<text x="131.60" y="423.08" font-size="8.6" text-anchor="middle" font-weight="normal" fill="#1c1c1c" stroke="#1c1c1c" stroke-width="0.3">D</text>
<line x1="138.00" y1="420.00" x2="147.80" y2="420.00" stroke="#222" stroke-width="1.0"/>
<text x="131.60" y="441.08" font-size="8.6" text-anchor="middle" font-weight="normal" fill="#1c1c1c" stroke="#1c1c1c" stroke-width="0.3">M</text>
<line x1="138.00" y1="438.00" x2="147.80" y2="438.00" stroke="#222" stroke-width="1.0"/>
<text x="162.50" y="456.70" font-size="8.0" text-anchor="middle" font-weight="normal" fill="#1c1c1c" stroke="#1c1c1c" stroke-width="0.3">R1</text>
<text x="188.20" y="456.70" font-size="8.0" text-anchor="middle" font-weight="normal" fill="#1c1c1c" stroke="#1c1c1c" stroke-width="0.3">R2</text>
<text x="214.70" y="456.70" font-size="8.0" text-anchor="middle" font-weight="normal" fill="#1c1c1c" stroke="#1c1c1c" stroke-width="0.3">R3</text>
<text x="248.15" y="340.60" font-size="12" text-anchor="middle" font-weight="bold" fill="#000">I</text>
<text x="310.50" y="339.00" font-size="8.5" text-anchor="middle" font-weight="normal" fill="#1c1c1c" stroke="#1c1c1c" stroke-width="0.3" textLength="52.30" lengthAdjust="spacingAndGlyphs">FN6 fragment</text>
<rect x="267.30" y="348.20" width="80.50" height="96.00" fill="#e8f0f5"/>
<defs><linearGradient id="lg10" x1="0" y1="0" x2="0" y2="1"><stop offset="0.0000" stop-color="#507090"/><stop offset="0.0053" stop-color="#456585"/><stop offset="0.0107" stop-color="#3b5a7b"/><stop offset="0.0160" stop-color="#304f70"/><stop offset="0.0214" stop-color="#284668"/><stop offset="0.0267" stop-color="#274567"/><stop offset="0.0321" stop-color="#264465"/><stop offset="0.0374" stop-color="#254364"/><stop offset="0.0428" stop-color="#254263"/><stop offset="0.0481" stop-color="#244162"/><stop offset="0.0535" stop-color="#234061"/><stop offset="0.0588" stop-color="#223f5f"/><stop offset="0.0642" stop-color="#213e5e"/><stop offset="0.0695" stop-color="#213d5d"/><stop offset="0.0749" stop-color="#203c5c"/><stop offset="0.0802" stop-color="#1f3a5b"/><stop offset="0.0856" stop-color="#1e3959"/><stop offset="0.0909" stop-color="#1d3858"/><stop offset="0.0963" stop-color="#1d3857"/><stop offset="0.1016" stop-color="#1d3857"/><stop offset="0.1070" stop-color="#1d3858"/><stop offset="0.1123" stop-color="#1d3858"/><stop offset="0.1176" stop-color="#1d3858"/><stop offset="0.1230" stop-color="#1d3858"/><stop offset="0.1283" stop-color="#1e3958"/><stop offset="0.1337" stop-color="#1e3959"/><stop offset="0.1390" stop-color="#1e3959"/><stop offset="0.1444" stop-color="#1e3959"/><stop offset="0.1497" stop-color="#1e3959"/><stop offset="0.1551" stop-color="#1e3a59"/><stop offset="0.1604" stop-color="#1e3a5a"/><stop offset="0.1658" stop-color="#1f3a5a"/><stop offset="0.1711" stop-color="#1f3a5a"/><stop offset="0.1765" stop-color="#1f3a5a"/><stop offset="0.1818" stop-color="#1f3a5a"/><stop offset="0.1872" stop-color="#1f3b5b"/><stop offset="0.1925" stop-color="#1f3b5b"/><stop offset="0.1979" stop-color="#1f3b5b"/><stop offset="0.2032" stop-color="#1f3b5b"/><stop offset="0.2086" stop-color="#203b5b"/><stop offset="0.2139" stop-color="#203b5b"/><stop offset="0.2193" stop-color="#203b5b"/><stop offset="0.2246" stop-color="#1f3b5b"/><stop offset="0.2299" stop-color="#1e3a5a"/><stop offset="0.2353" stop-color="#1d3858"/><stop offset="0.2406" stop-color="#1b3655"/><stop offset="0.2460" stop-color="#193352"/><stop offset="0.2513" stop-color="#183250"/><stop offset="0.2567" stop-color="#183251"/><stop offset="0.2620" stop-color="#1a3453"/><stop offset="0.2674" stop-color="#1c3756"/><stop offset="0.2727" stop-color="#1f3a5a"/><stop offset="0.2781" stop-color="#213d5d"/><stop offset="0.2834" stop-color="#223e5f"/><stop offset="0.2888" stop-color="#223e5f"/><stop offset="0.2941" stop-color="#203c5d"/><stop offset="0.2995" stop-color="#1e3a5a"/><stop offset="0.3048" stop-color="#1c3756"/><stop offset="0.3102" stop-color="#1b3554"/><stop offset="0.3155" stop-color="#1b3555"/><stop offset="0.3209" stop-color="#1d3857"/><stop offset="0.3262" stop-color="#203b5b"/><stop offset="0.3316" stop-color="#233f60"/><stop offset="0.3369" stop-color="#254364"/><stop offset="0.3422" stop-color="#274466"/><stop offset="0.3476" stop-color="#274466"/><stop offset="0.3529" stop-color="#254364"/><stop offset="0.3583" stop-color="#233f60"/><stop offset="0.3636" stop-color="#203b5b"/><stop offset="0.3690" stop-color="#1d3858"/><stop offset="0.3743" stop-color="#1c3656"/><stop offset="0.3797" stop-color="#1c3757"/><stop offset="0.3850" stop-color="#1f3a5a"/><stop offset="0.3904" stop-color="#223e5f"/><stop offset="0.3957" stop-color="#254263"/><stop offset="0.4011" stop-color="#264465"/><stop offset="0.4064" stop-color="#264365"/><stop offset="0.4118" stop-color="#234061"/><stop offset="0.4171" stop-color="#203c5c"/><stop offset="0.4225" stop-color="#1d3858"/><stop offset="0.4278" stop-color="#1b3655"/><stop offset="0.4332" stop-color="#1c3656"/><stop offset="0.4385" stop-color="#1f3a5a"/><stop offset="0.4439" stop-color="#234061"/><stop offset="0.4492" stop-color="#294769"/><stop offset="0.4545" stop-color="#304e70"/><stop offset="0.4599" stop-color="#355475"/><stop offset="0.4652" stop-color="#375677"/><stop offset="0.4706" stop-color="#375677"/><stop offset="0.4759" stop-color="#345274"/><stop offset="0.4813" stop-color="#2e4c6e"/><stop offset="0.4866" stop-color="#274567"/><stop offset="0.4920" stop-color="#223e5e"/><stop offset="0.4973" stop-color="#1d3858"/><stop offset="0.5027" stop-color="#1a3453"/><stop offset="0.5080" stop-color="#1a3453"/><stop offset="0.5134" stop-color="#1d3757"/><stop offset="0.5187" stop-color="#223e5f"/><stop offset="0.5241" stop-color="#284668"/><stop offset="0.5294" stop-color="#325172"/><stop offset="0.5348" stop-color="#3b5a7b"/><stop offset="0.5401" stop-color="#426282"/><stop offset="0.5455" stop-color="#486788"/><stop offset="0.5508" stop-color="#4b6b8b"/><stop offset="0.5561" stop-color="#4c6c8c"/><stop offset="0.5615" stop-color="#4b6b8b"/><stop offset="0.5668" stop-color="#476787"/><stop offset="0.5722" stop-color="#416081"/><stop offset="0.5775" stop-color="#395879"/><stop offset="0.5829" stop-color="#2f4d6f"/><stop offset="0.5882" stop-color="#254264"/><stop offset="0.5936" stop-color="#1f3a5a"/><stop offset="0.5989" stop-color="#1a3452"/><stop offset="0.6043" stop-color="#18314f"/><stop offset="0.6096" stop-color="#193351"/><stop offset="0.6150" stop-color="#1e3958"/><stop offset="0.6203" stop-color="#254264"/><stop offset="0.6257" stop-color="#314f71"/><stop offset="0.6310" stop-color="#3e5d7e"/><stop offset="0.6364" stop-color="#4b6b8b"/><stop offset="0.6417" stop-color="#577695"/><stop offset="0.6471" stop-color="#617f9d"/><stop offset="0.6524" stop-color="#6886a3"/><stop offset="0.6578" stop-color="#6e8ba7"/><stop offset="0.6631" stop-color="#718faa"/><stop offset="0.6684" stop-color="#7491ac"/><stop offset="0.6738" stop-color="#7592ad"/><stop offset="0.6791" stop-color="#7592ad"/><stop offset="0.6845" stop-color="#7390ab"/><stop offset="0.6898" stop-color="#708da9"/><stop offset="0.6952" stop-color="#6a88a4"/><stop offset="0.7005" stop-color="#62819e"/><stop offset="0.7059" stop-color="#587796"/><stop offset="0.7112" stop-color="#4b6b8b"/><stop offset="0.7166" stop-color="#3f5e7f"/><stop offset="0.7219" stop-color="#325172"/><stop offset="0.7273" stop-color="#274567"/><stop offset="0.7326" stop-color="#213d5d"/><stop offset="0.7380" stop-color="#1d3858"/><stop offset="0.7433" stop-color="#1d3858"/><stop offset="0.7487" stop-color="#203c5c"/><stop offset="0.7540" stop-color="#274466"/><stop offset="0.7594" stop-color="#335173"/><stop offset="0.7647" stop-color="#426182"/><stop offset="0.7701" stop-color="#517191"/><stop offset="0.7754" stop-color="#62809e"/><stop offset="0.7807" stop-color="#708ea9"/><stop offset="0.7861" stop-color="#7d99b3"/><stop offset="0.7914" stop-color="#87a2ba"/><stop offset="0.7968" stop-color="#8ea8bf"/><stop offset="0.8021" stop-color="#94adc3"/><stop offset="0.8075" stop-color="#98b1c5"/><stop offset="0.8128" stop-color="#9bb3c7"/><stop offset="0.8182" stop-color="#9cb4c8"/><stop offset="0.8235" stop-color="#9cb4c8"/><stop offset="0.8289" stop-color="#9cb4c8"/><stop offset="0.8342" stop-color="#9db5c9"/><stop offset="0.8396" stop-color="#9db5c9"/><stop offset="0.8449" stop-color="#9db5c9"/><stop offset="0.8503" stop-color="#9db5c9"/><stop offset="0.8556" stop-color="#9cb4c8"/><stop offset="0.8610" stop-color="#9cb4c8"/><stop offset="0.8663" stop-color="#9cb4c8"/><stop offset="0.8717" stop-color="#9bb3c8"/><stop offset="0.8770" stop-color="#9ab3c7"/><stop offset="0.8824" stop-color="#99b2c6"/><stop offset="0.8877" stop-color="#97b0c5"/><stop offset="0.8930" stop-color="#95aec3"/><stop offset="0.8984" stop-color="#92abc1"/><stop offset="0.9037" stop-color="#8ea8bf"/><stop offset="0.9091" stop-color="#8aa4bc"/><stop offset="0.9144" stop-color="#85a0b9"/><stop offset="0.9198" stop-color="#819db6"/><stop offset="0.9251" stop-color="#7d99b3"/><stop offset="0.9305" stop-color="#7a97b1"/><stop offset="0.9358" stop-color="#7895b0"/><stop offset="0.9412" stop-color="#7894af"/><stop offset="0.9465" stop-color="#7995b0"/><stop offset="0.9519" stop-color="#7b98b2"/><stop offset="0.9572" stop-color="#7f9bb4"/><stop offset="0.9626" stop-color="#839eb7"/><stop offset="0.9679" stop-color="#87a2ba"/><stop offset="0.9733" stop-color="#8ca6bd"/><stop offset="0.9786" stop-color="#90a9c0"/><stop offset="0.9840" stop-color="#93acc2"/><stop offset="0.9893" stop-color="#96afc4"/><stop offset="0.9947" stop-color="#98b1c6"/><stop offset="1.0000" stop-color="#9ab2c7"/></linearGradient><linearGradient id="hlg10" x1="0" y1="0" x2="1" y2="0"><stop offset="0" stop-color="#f4f8fb" stop-opacity="0.6"/><stop offset="0.2" stop-color="#f4f8fb" stop-opacity="0"/><stop offset="0.8" stop-color="#f4f8fb" stop-opacity="0"/><stop offset="1" stop-color="#f4f8fb" stop-opacity="0.6"/></linearGradient><clipPath id="clg10"><rect x="268.20" y="349.10" width="25.90" height="93.90"/></clipPath></defs>
<rect x="268.20" y="349.10" width="25.90" height="93.90" fill="url(#lg10)"/>
<rect x="268.20" y="349.10" width="25.90" height="93.90" fill="url(#hlg10)"/>
<defs><linearGradient id="lg11" x1="0" y1="0" x2="0" y2="1"><stop offset="0.0000" stop-color="#6f8ca8"/><stop offset="0.0053" stop-color="#6987a4"/><stop offset="0.0107" stop-color="#6482a0"/><stop offset="0.0160" stop-color="#5f7e9c"/><stop offset="0.0214" stop-color="#5a7997"/><stop offset="0.0267" stop-color="#547493"/><stop offset="0.0321" stop-color="#507090"/><stop offset="0.0374" stop-color="#4f6f8f"/><stop offset="0.0428" stop-color="#4d6d8d"/><stop offset="0.0481" stop-color="#4c6c8c"/><stop offset="0.0535" stop-color="#4b6b8b"/><stop offset="0.0588" stop-color="#4a6a8a"/><stop offset="0.0642" stop-color="#496889"/><stop offset="0.0695" stop-color="#486788"/><stop offset="0.0749" stop-color="#466686"/><stop offset="0.0802" stop-color="#456585"/><stop offset="0.0856" stop-color="#446484"/><stop offset="0.0909" stop-color="#436283"/><stop offset="0.0963" stop-color="#426182"/><stop offset="0.1016" stop-color="#416081"/><stop offset="0.1070" stop-color="#3f5f7f"/><stop offset="0.1123" stop-color="#3e5d7e"/><stop offset="0.1176" stop-color="#3d5c7d"/><stop offset="0.1230" stop-color="#3d5c7d"/><stop offset="0.1283" stop-color="#3c5b7c"/><stop offset="0.1337" stop-color="#3b5a7b"/><stop offset="0.1390" stop-color="#3b597b"/><stop offset="0.1444" stop-color="#3a597a"/><stop offset="0.1497" stop-color="#395879"/><stop offset="0.1551" stop-color="#395779"/><stop offset="0.1604" stop-color="#385778"/><stop offset="0.1658" stop-color="#375677"/><stop offset="0.1711" stop-color="#375577"/><stop offset="0.1765" stop-color="#365576"/><stop offset="0.1818" stop-color="#355475"/><stop offset="0.1872" stop-color="#355375"/><stop offset="0.1925" stop-color="#345274"/><stop offset="0.1979" stop-color="#335273"/><stop offset="0.2032" stop-color="#335173"/><stop offset="0.2086" stop-color="#325072"/><stop offset="0.2139" stop-color="#315071"/><stop offset="0.2193" stop-color="#314f71"/><stop offset="0.2246" stop-color="#304e70"/><stop offset="0.2299" stop-color="#2f4e6f"/><stop offset="0.2353" stop-color="#2f4d6f"/><stop offset="0.2406" stop-color="#2e4c6e"/><stop offset="0.2460" stop-color="#2d4c6d"/><stop offset="0.2513" stop-color="#2e4c6e"/><stop offset="0.2567" stop-color="#2e4d6e"/><stop offset="0.2620" stop-color="#2f4d6f"/><stop offset="0.2674" stop-color="#2f4d6f"/><stop offset="0.2727" stop-color="#2f4e6f"/><stop offset="0.2781" stop-color="#304e70"/><stop offset="0.2834" stop-color="#304f70"/><stop offset="0.2888" stop-color="#304f70"/><stop offset="0.2941" stop-color="#304f70"/><stop offset="0.2995" stop-color="#304e70"/><stop offset="0.3048" stop-color="#2e4d6e"/><stop offset="0.3102" stop-color="#2c4a6c"/><stop offset="0.3155" stop-color="#294769"/><stop offset="0.3209" stop-color="#274466"/><stop offset="0.3262" stop-color="#254364"/><stop offset="0.3316" stop-color="#254264"/><stop offset="0.3369" stop-color="#264466"/><stop offset="0.3422" stop-color="#294769"/><stop offset="0.3476" stop-color="#2d4b6d"/><stop offset="0.3529" stop-color="#304e70"/><stop offset="0.3583" stop-color="#325072"/><stop offset="0.3636" stop-color="#325172"/><stop offset="0.3690" stop-color="#314f71"/><stop offset="0.3743" stop-color="#2e4c6e"/><stop offset="0.3797" stop-color="#2a486a"/><stop offset="0.3850" stop-color="#264365"/><stop offset="0.3904" stop-color="#234061"/><stop offset="0.3957" stop-color="#223e5f"/><stop offset="0.4011" stop-color="#233f60"/><stop offset="0.4064" stop-color="#254264"/><stop offset="0.4118" stop-color="#294769"/><stop offset="0.4171" stop-color="#2f4d6f"/><stop offset="0.4225" stop-color="#335173"/><stop offset="0.4278" stop-color="#345374"/><stop offset="0.4332" stop-color="#335273"/><stop offset="0.4385" stop-color="#2f4e6f"/><stop offset="0.4439" stop-color="#2a486a"/><stop offset="0.4492" stop-color="#254364"/><stop offset="0.4545" stop-color="#223f5f"/><stop offset="0.4599" stop-color="#213d5e"/><stop offset="0.4652" stop-color="#223f5f"/><stop offset="0.4706" stop-color="#264365"/><stop offset="0.4759" stop-color="#2c4a6c"/><stop offset="0.4813" stop-color="#335173"/><stop offset="0.4866" stop-color="#395779"/><stop offset="0.4920" stop-color="#3c5b7c"/><stop offset="0.4973" stop-color="#3c5b7c"/><stop offset="0.5027" stop-color="#395879"/><stop offset="0.5080" stop-color="#345274"/><stop offset="0.5134" stop-color="#2c4b6c"/><stop offset="0.5187" stop-color="#264364"/><stop offset="0.5241" stop-color="#213d5d"/><stop offset="0.5294" stop-color="#1e3959"/><stop offset="0.5348" stop-color="#1e3959"/><stop offset="0.5401" stop-color="#203c5c"/><stop offset="0.5455" stop-color="#254264"/><stop offset="0.5508" stop-color="#2e4c6e"/><stop offset="0.5561" stop-color="#385778"/><stop offset="0.5615" stop-color="#416181"/><stop offset="0.5668" stop-color="#496889"/><stop offset="0.5722" stop-color="#4d6d8d"/><stop offset="0.5775" stop-color="#4f6f8f"/><stop offset="0.5829" stop-color="#4d6d8d"/><stop offset="0.5882" stop-color="#496889"/><stop offset="0.5936" stop-color="#416081"/><stop offset="0.5989" stop-color="#375677"/><stop offset="0.6043" stop-color="#2c4a6c"/><stop offset="0.6096" stop-color="#234061"/><stop offset="0.6150" stop-color="#1d3858"/><stop offset="0.6203" stop-color="#1a3453"/><stop offset="0.6257" stop-color="#1a3453"/><stop offset="0.6310" stop-color="#1e3959"/><stop offset="0.6364" stop-color="#254263"/><stop offset="0.6417" stop-color="#304f70"/><stop offset="0.6471" stop-color="#3f5e7f"/><stop offset="0.6524" stop-color="#4d6d8d"/><stop offset="0.6578" stop-color="#5b7a98"/><stop offset="0.6631" stop-color="#6684a2"/><stop offset="0.6684" stop-color="#6f8ca8"/><stop offset="0.6738" stop-color="#7591ad"/><stop offset="0.6791" stop-color="#7794af"/><stop offset="0.6845" stop-color="#7794af"/><stop offset="0.6898" stop-color="#7491ac"/><stop offset="0.6952" stop-color="#6f8ca8"/><stop offset="0.7005" stop-color="#6785a2"/><stop offset="0.7059" stop-color="#5c7b99"/><stop offset="0.7112" stop-color="#4e6e8e"/><stop offset="0.7166" stop-color="#416081"/><stop offset="0.7219" stop-color="#345274"/><stop offset="0.7273" stop-color="#284667"/><stop offset="0.7326" stop-color="#213d5e"/><stop offset="0.7380" stop-color="#1d3858"/><stop offset="0.7433" stop-color="#1d3858"/><stop offset="0.7487" stop-color="#203c5d"/><stop offset="0.7540" stop-color="#274567"/><stop offset="0.7594" stop-color="#345374"/><stop offset="0.7647" stop-color="#436383"/><stop offset="0.7701" stop-color="#547393"/><stop offset="0.7754" stop-color="#6583a1"/><stop offset="0.7807" stop-color="#7592ad"/><stop offset="0.7861" stop-color="#829db7"/><stop offset="0.7914" stop-color="#8ca6bd"/><stop offset="0.7968" stop-color="#94adc3"/><stop offset="0.8021" stop-color="#9ab2c7"/><stop offset="0.8075" stop-color="#9eb6c9"/><stop offset="0.8128" stop-color="#a1b8cb"/><stop offset="0.8182" stop-color="#a1b8cc"/><stop offset="0.8235" stop-color="#a1b8cc"/><stop offset="0.8289" stop-color="#a1b8cb"/><stop offset="0.8342" stop-color="#a0b8cb"/><stop offset="0.8396" stop-color="#9fb7ca"/><stop offset="0.8449" stop-color="#9eb6ca"/><stop offset="0.8503" stop-color="#9db5c9"/><stop offset="0.8556" stop-color="#9bb3c7"/><stop offset="0.8610" stop-color="#98b1c6"/><stop offset="0.8663" stop-color="#95aec3"/><stop offset="0.8717" stop-color="#90a9c0"/><stop offset="0.8770" stop-color="#89a4bb"/><stop offset="0.8824" stop-color="#819cb6"/><stop offset="0.8877" stop-color="#7793ae"/><stop offset="0.8930" stop-color="#6b89a5"/><stop offset="0.8984" stop-color="#5e7d9b"/><stop offset="0.9037" stop-color="#517191"/><stop offset="0.9091" stop-color="#456485"/><stop offset="0.9144" stop-color="#3a597a"/><stop offset="0.9198" stop-color="#325072"/><stop offset="0.9251" stop-color="#2c4a6c"/><stop offset="0.9305" stop-color="#294769"/><stop offset="0.9358" stop-color="#294869"/><stop offset="0.9412" stop-color="#2d4c6d"/><stop offset="0.9465" stop-color="#345374"/><stop offset="0.9519" stop-color="#3d5c7d"/><stop offset="0.9572" stop-color="#486788"/><stop offset="0.9626" stop-color="#537392"/><stop offset="0.9679" stop-color="#5f7e9c"/><stop offset="0.9733" stop-color="#6a88a5"/><stop offset="0.9786" stop-color="#7491ac"/><stop offset="0.9840" stop-color="#7c98b2"/><stop offset="0.9893" stop-color="#829eb7"/><stop offset="0.9947" stop-color="#87a1ba"/><stop offset="1.0000" stop-color="#8aa4bc"/></linearGradient><linearGradient id="hlg11" x1="0" y1="0" x2="1" y2="0"><stop offset="0" stop-color="#f4f8fb" stop-opacity="0.6"/><stop offset="0.2" stop-color="#f4f8fb" stop-opacity="0"/><stop offset="0.8" stop-color="#f4f8fb" stop-opacity="0"/><stop offset="1" stop-color="#f4f8fb" stop-opacity="0.6"/></linearGradient><clipPath id="clg11"><rect x="295.80" y="349.10" width="25.70" height="93.90"/></clipPath></defs>
<rect x="295.80" y="349.10" width="25.70" height="93.90" fill="url(#lg11)"/>
<rect x="295.80" y="349.10" width="25.70" height="93.90" fill="url(#hlg11)"/>
<defs><linearGradient id="lg12" x1="0" y1="0" x2="0" y2="1"><stop offset="0.0000" stop-color="#7e9ab4"/><stop offset="0.0053" stop-color="#7d99b3"/><stop offset="0.0107" stop-color="#7b97b2"/><stop offset="0.0160" stop-color="#7a96b1"/><stop offset="0.0214" stop-color="#7895af"/><stop offset="0.0267" stop-color="#7793ae"/><stop offset="0.0321" stop-color="#7592ad"/><stop offset="0.0374" stop-color="#7491ac"/><stop offset="0.0428" stop-color="#728fab"/><stop offset="0.0481" stop-color="#718eaa"/><stop offset="0.0535" stop-color="#708da9"/><stop offset="0.0588" stop-color="#6e8ba8"/><stop offset="0.0642" stop-color="#6d8aa6"/><stop offset="0.0695" stop-color="#6b89a5"/><stop offset="0.0749" stop-color="#6a88a4"/><stop offset="0.0802" stop-color="#6886a3"/><stop offset="0.0856" stop-color="#6785a2"/><stop offset="0.0909" stop-color="#6584a1"/><stop offset="0.0963" stop-color="#6482a0"/><stop offset="0.1016" stop-color="#63819e"/><stop offset="0.1070" stop-color="#61809d"/><stop offset="0.1123" stop-color="#607e9c"/><stop offset="0.1176" stop-color="#5e7d9b"/><stop offset="0.1230" stop-color="#5d7c9a"/><stop offset="0.1283" stop-color="#5b7a99"/><stop offset="0.1337" stop-color="#5a7998"/><stop offset="0.1390" stop-color="#587897"/><stop offset="0.1444" stop-color="#577695"/><stop offset="0.1497" stop-color="#557594"/><stop offset="0.1551" stop-color="#547493"/><stop offset="0.1604" stop-color="#537292"/><stop offset="0.1658" stop-color="#517191"/><stop offset="0.1711" stop-color="#507090"/><stop offset="0.1765" stop-color="#4f6f8f"/><stop offset="0.1818" stop-color="#4f6e8f"/><stop offset="0.1872" stop-color="#4e6e8e"/><stop offset="0.1925" stop-color="#4d6d8d"/><stop offset="0.1979" stop-color="#4d6c8d"/><stop offset="0.2032" stop-color="#4c6c8c"/><stop offset="0.2086" stop-color="#4b6b8b"/><stop offset="0.2139" stop-color="#4b6a8b"/><stop offset="0.2193" stop-color="#4a6a8a"/><stop offset="0.2246" stop-color="#496989"/><stop offset="0.2299" stop-color="#496889"/><stop offset="0.2353" stop-color="#486788"/><stop offset="0.2406" stop-color="#476787"/><stop offset="0.2460" stop-color="#476687"/><stop offset="0.2513" stop-color="#466586"/><stop offset="0.2567" stop-color="#456585"/><stop offset="0.2620" stop-color="#456485"/><stop offset="0.2674" stop-color="#446384"/><stop offset="0.2727" stop-color="#436383"/><stop offset="0.2781" stop-color="#436283"/><stop offset="0.2834" stop-color="#446484"/><stop offset="0.2888" stop-color="#466586"/><stop offset="0.2941" stop-color="#476687"/><stop offset="0.2995" stop-color="#486888"/><stop offset="0.3048" stop-color="#4a698a"/><stop offset="0.3102" stop-color="#4b6b8b"/><stop offset="0.3155" stop-color="#4c6c8c"/><stop offset="0.3209" stop-color="#4e6d8e"/><stop offset="0.3262" stop-color="#4f6f8f"/><stop offset="0.3316" stop-color="#507090"/><stop offset="0.3369" stop-color="#517191"/><stop offset="0.3422" stop-color="#527291"/><stop offset="0.3476" stop-color="#517191"/><stop offset="0.3529" stop-color="#4f6f8f"/><stop offset="0.3583" stop-color="#4c6b8c"/><stop offset="0.3636" stop-color="#456585"/><stop offset="0.3690" stop-color="#3d5c7d"/><stop offset="0.3743" stop-color="#335173"/><stop offset="0.3797" stop-color="#2a486a"/><stop offset="0.3850" stop-color="#264365"/><stop offset="0.3904" stop-color="#264465"/><stop offset="0.3957" stop-color="#2b496b"/><stop offset="0.4011" stop-color="#355475"/><stop offset="0.4064" stop-color="#416181"/><stop offset="0.4118" stop-color="#4d6d8d"/><stop offset="0.4171" stop-color="#567595"/><stop offset="0.4225" stop-color="#5b7a98"/><stop offset="0.4278" stop-color="#5b7a98"/><stop offset="0.4332" stop-color="#587796"/><stop offset="0.4385" stop-color="#537393"/><stop offset="0.4439" stop-color="#517191"/><stop offset="0.4492" stop-color="#527292"/><stop offset="0.4545" stop-color="#577796"/><stop offset="0.4599" stop-color="#607e9c"/><stop offset="0.4652" stop-color="#6987a3"/><stop offset="0.4706" stop-color="#708ea9"/><stop offset="0.4759" stop-color="#7591ad"/><stop offset="0.4813" stop-color="#7592ad"/><stop offset="0.4866" stop-color="#728faa"/><stop offset="0.4920" stop-color="#6d8aa7"/><stop offset="0.4973" stop-color="#6886a3"/><stop offset="0.5027" stop-color="#6583a1"/><stop offset="0.5080" stop-color="#6684a1"/><stop offset="0.5134" stop-color="#6b89a5"/><stop offset="0.5187" stop-color="#7491ac"/><stop offset="0.5241" stop-color="#7e9ab4"/><stop offset="0.5294" stop-color="#89a4bb"/><stop offset="0.5348" stop-color="#93acc2"/><stop offset="0.5401" stop-color="#9bb3c7"/><stop offset="0.5455" stop-color="#a1b8cb"/><stop offset="0.5508" stop-color="#a5bcce"/><stop offset="0.5561" stop-color="#a8bfd0"/><stop offset="0.5615" stop-color="#aac0d1"/><stop offset="0.5668" stop-color="#aac0d2"/><stop offset="0.5722" stop-color="#a9c0d1"/><stop offset="0.5775" stop-color="#a7bed0"/><stop offset="0.5829" stop-color="#a4bbce"/><stop offset="0.5882" stop-color="#a0b7cb"/><stop offset="0.5936" stop-color="#9cb4c8"/><stop offset="0.5989" stop-color="#99b2c6"/><stop offset="0.6043" stop-color="#98b1c6"/><stop offset="0.6096" stop-color="#99b2c6"/><stop offset="0.6150" stop-color="#9db5c9"/><stop offset="0.6203" stop-color="#a3bacd"/><stop offset="0.6257" stop-color="#aac1d2"/><stop offset="0.6310" stop-color="#b1c6d6"/><stop offset="0.6364" stop-color="#b6cad9"/><stop offset="0.6417" stop-color="#bacddb"/><stop offset="0.6471" stop-color="#bed0dd"/><stop offset="0.6524" stop-color="#c0d1df"/><stop offset="0.6578" stop-color="#c2d3e0"/><stop offset="0.6631" stop-color="#c3d4e1"/><stop offset="0.6684" stop-color="#c4d5e1"/><stop offset="0.6738" stop-color="#c5d5e2"/><stop offset="0.6791" stop-color="#c6d6e2"/><stop offset="0.6845" stop-color="#c6d6e2"/><stop offset="0.6898" stop-color="#c6d6e2"/><stop offset="0.6952" stop-color="#c5d5e2"/><stop offset="0.7005" stop-color="#c3d4e1"/><stop offset="0.7059" stop-color="#c1d2df"/><stop offset="0.7112" stop-color="#bdcfdd"/><stop offset="0.7166" stop-color="#bacddb"/><stop offset="0.7219" stop-color="#b7cad9"/><stop offset="0.7273" stop-color="#b5c9d8"/><stop offset="0.7326" stop-color="#b5c9d8"/><stop offset="0.7380" stop-color="#b7cad9"/><stop offset="0.7433" stop-color="#bacddb"/><stop offset="0.7487" stop-color="#bfd1de"/><stop offset="0.7540" stop-color="#c4d5e1"/><stop offset="0.7594" stop-color="#c9d8e4"/><stop offset="0.7647" stop-color="#cddbe6"/><stop offset="0.7701" stop-color="#d0dde8"/><stop offset="0.7754" stop-color="#d2dfe9"/><stop offset="0.7807" stop-color="#d3e0ea"/><stop offset="0.7861" stop-color="#d4e0ea"/><stop offset="0.7914" stop-color="#d4e1ea"/><stop offset="0.7968" stop-color="#d4e1ea"/><stop offset="0.8021" stop-color="#d5e1eb"/><stop offset="0.8075" stop-color="#d5e1eb"/><stop offset="0.8128" stop-color="#d5e1eb"/><stop offset="0.8182" stop-color="#d5e1eb"/><stop offset="0.8235" stop-color="#d5e2eb"/><stop offset="0.8289" stop-color="#d6e2eb"/><stop offset="0.8342" stop-color="#d6e2eb"/><stop offset="0.8396" stop-color="#d6e2eb"/><stop offset="0.8449" stop-color="#d6e2eb"/><stop offset="0.8503" stop-color="#d6e2eb"/><stop offset="0.8556" stop-color="#d6e2ec"/><stop offset="0.8610" stop-color="#d7e2ec"/><stop offset="0.8663" stop-color="#d7e3ec"/><stop offset="0.8717" stop-color="#d7e3ec"/><stop offset="0.8770" stop-color="#d7e3ec"/><stop offset="0.8824" stop-color="#d7e3ec"/><stop offset="0.8877" stop-color="#d7e3ec"/><stop offset="0.8930" stop-color="#d7e3ec"/><stop offset="0.8984" stop-color="#d6e2eb"/><stop offset="0.9037" stop-color="#d6e2eb"/><stop offset="0.9091" stop-color="#d5e1ea"/><stop offset="0.9144" stop-color="#d3e0ea"/><stop offset="0.9198" stop-color="#d2dfe9"/><stop offset="0.9251" stop-color="#d0dee8"/><stop offset="0.9305" stop-color="#cfdde8"/><stop offset="0.9358" stop-color="#cfdce7"/><stop offset="0.9412" stop-color="#cfdce7"/><stop offset="0.9465" stop-color="#cfdde8"/><stop offset="0.9519" stop-color="#d0dee8"/><stop offset="0.9572" stop-color="#d2dfe9"/><stop offset="0.9626" stop-color="#d4e0ea"/><stop offset="0.9679" stop-color="#d6e2eb"/><stop offset="0.9733" stop-color="#d7e3ec"/><stop offset="0.9786" stop-color="#d8e4ed"/><stop offset="0.9840" stop-color="#d9e5ed"/><stop offset="0.9893" stop-color="#dae5ed"/><stop offset="0.9947" stop-color="#dbe5ee"/><stop offset="1.0000" stop-color="#dbe6ee"/></linearGradient><linearGradient id="hlg12" x1="0" y1="0" x2="1" y2="0"><stop offset="0" stop-color="#f4f8fb" stop-opacity="0.6"/><stop offset="0.2" stop-color="#f4f8fb" stop-opacity="0"/><stop offset="0.8" stop-color="#f4f8fb" stop-opacity="0"/><stop offset="1" stop-color="#f4f8fb" stop-opacity="0.6"/></linearGradient><clipPath id="clg12"><rect x="324.10" y="349.10" width="22.80" height="93.90"/></clipPath></defs>
<rect x="324.10" y="349.10" width="22.80" height="93.90" fill="url(#lg12)"/>
<g clip-path="url(#clg12)">
<defs><linearGradient id="tg3" x1="0" y1="0" x2="0" y2="1"><stop offset="0" stop-color="#000308" stop-opacity="1"/><stop offset="0.4" stop-color="#000308" stop-opacity="0.97"/><stop offset="0.65" stop-color="#0a2040" stop-opacity="0.7"/><stop offset="1" stop-color="#1a3a5a" stop-opacity="0"/></linearGradient></defs><path d="M329.8,349.1 L347,349.1 L343.8,398 L333.8,398 Z" fill="url(#tg3)" filter="url(#b1)"/>
</g>
<rect x="324.10" y="349.10" width="22.80" height="93.90" fill="url(#hlg12)"/>
<text x="249.20" y="408.68" font-size="8.6" text-anchor="middle" font-weight="normal" fill="#1c1c1c" stroke="#1c1c1c" stroke-width="0.3">T</text>
<line x1="256.00" y1="405.60" x2="266.40" y2="405.60" stroke="#222" stroke-width="1.0"/>
<text x="249.20" y="423.08" font-size="8.6" text-anchor="middle" font-weight="normal" fill="#1c1c1c" stroke="#1c1c1c" stroke-width="0.3">D</text>
<line x1="256.00" y1="420.00" x2="266.40" y2="420.00" stroke="#222" stroke-width="1.0"/>
<text x="249.20" y="441.08" font-size="8.6" text-anchor="middle" font-weight="normal" fill="#1c1c1c" stroke="#1c1c1c" stroke-width="0.3">M</text>
<line x1="256.00" y1="438.00" x2="266.40" y2="438.00" stroke="#222" stroke-width="1.0"/>
<text x="282.20" y="456.70" font-size="8.0" text-anchor="middle" font-weight="normal" fill="#1c1c1c" stroke="#1c1c1c" stroke-width="0.3">NR1</text>
<text x="309.60" y="456.70" font-size="8.0" text-anchor="middle" font-weight="normal" fill="#1c1c1c" stroke="#1c1c1c" stroke-width="0.3">NR2</text>
<text x="338.40" y="456.70" font-size="8.0" text-anchor="middle" font-weight="normal" fill="#1c1c1c" stroke="#1c1c1c" stroke-width="0.3">NR3</text>
</svg></body></html>
